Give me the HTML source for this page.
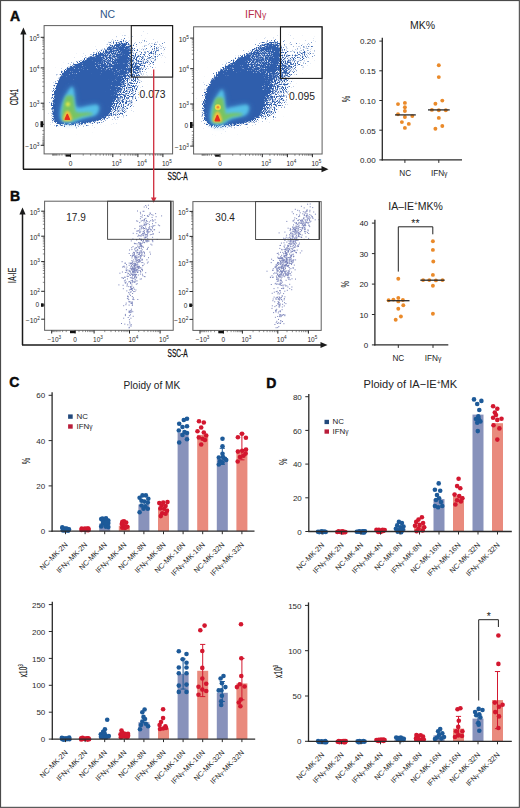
<!DOCTYPE html>
<html><head><meta charset="utf-8"><title>Figure</title>
<style>html,body{margin:0;padding:0;background:#fff;}body{width:520px;height:808px;overflow:hidden;font-family:"Liberation Sans",sans-serif;}svg{display:block;}</style>
</head><body><svg width="520" height="808" viewBox="0 0 520 808" font-family="Liberation Sans, sans-serif"><defs>
<filter id="b05" x="-50%" y="-50%" width="200%" height="200%"><feGaussianBlur stdDeviation="0.5"/></filter>
<filter id="b06" x="-50%" y="-50%" width="200%" height="200%"><feGaussianBlur stdDeviation="0.6"/></filter>
<filter id="b08" x="-50%" y="-50%" width="200%" height="200%"><feGaussianBlur stdDeviation="0.8"/></filter>
<filter id="b10" x="-30%" y="-30%" width="160%" height="160%"><feGaussianBlur stdDeviation="1.0"/></filter>
<filter id="b12" x="-50%" y="-50%" width="200%" height="200%"><feGaussianBlur stdDeviation="1.2"/></filter>
<filter id="b15" x="-50%" y="-50%" width="200%" height="200%"><feGaussianBlur stdDeviation="1.5"/></filter>
<filter id="b20" x="-50%" y="-50%" width="200%" height="200%"><feGaussianBlur stdDeviation="2.0"/></filter>
<filter id="b25" x="-50%" y="-50%" width="200%" height="200%"><feGaussianBlur stdDeviation="2.5"/></filter>
<filter id="b30" x="-80%" y="-80%" width="260%" height="260%"><feGaussianBlur stdDeviation="3.0"/></filter>
<filter id="b40" x="-80%" y="-80%" width="260%" height="260%"><feGaussianBlur stdDeviation="4.0"/></filter>
<filter id="b60" x="-80%" y="-80%" width="260%" height="260%"><feGaussianBlur stdDeviation="6.0"/></filter>
<filter id="dith1" filterUnits="userSpaceOnUse" x="44" y="25.8" width="129" height="128" color-interpolation-filters="sRGB"><feTurbulence type="fractalNoise" baseFrequency="0.9" numOctaves="2" seed="3" result="n"/><feColorMatrix in="n" type="matrix" values="0 0 0 0 0  0 0 0 0 0  0 0 0 0 0  1.8 0 0 0 -0.4" result="na"/><feComposite in="SourceAlpha" in2="na" operator="arithmetic" k1="0" k2="4" k3="-3" k4="0" result="m"/><feFlood flood-color="#2f5eac"/><feComposite in2="m" operator="in"/><feGaussianBlur stdDeviation="0.4"/></filter><filter id="dith2" filterUnits="userSpaceOnUse" x="193.6" y="26.6" width="129" height="128" color-interpolation-filters="sRGB"><feTurbulence type="fractalNoise" baseFrequency="0.9" numOctaves="2" seed="9" result="n"/><feColorMatrix in="n" type="matrix" values="0 0 0 0 0  0 0 0 0 0  0 0 0 0 0  1.8 0 0 0 -0.4" result="na"/><feComposite in="SourceAlpha" in2="na" operator="arithmetic" k1="0" k2="4" k3="-3" k4="0" result="m"/><feFlood flood-color="#2f5eac"/><feComposite in2="m" operator="in"/><feGaussianBlur stdDeviation="0.4"/></filter><filter id="wdith1" filterUnits="userSpaceOnUse" x="44" y="25.8" width="129" height="128" color-interpolation-filters="sRGB"><feTurbulence type="fractalNoise" baseFrequency="0.95" numOctaves="2" seed="21" result="n"/><feColorMatrix in="n" type="matrix" values="0 0 0 0 0  0 0 0 0 0  0 0 0 0 0  1.8 0 0 0 -0.4" result="na"/><feComposite in="SourceAlpha" in2="na" operator="arithmetic" k1="0" k2="4" k3="-3" k4="0" result="m"/><feFlood flood-color="#dfe6f4"/><feComposite in2="m" operator="in"/><feGaussianBlur stdDeviation="0.35"/></filter><filter id="wdith2" filterUnits="userSpaceOnUse" x="193.6" y="26.6" width="129" height="128" color-interpolation-filters="sRGB"><feTurbulence type="fractalNoise" baseFrequency="0.95" numOctaves="2" seed="27" result="n"/><feColorMatrix in="n" type="matrix" values="0 0 0 0 0  0 0 0 0 0  0 0 0 0 0  1.8 0 0 0 -0.4" result="na"/><feComposite in="SourceAlpha" in2="na" operator="arithmetic" k1="0" k2="4" k3="-3" k4="0" result="m"/><feFlood flood-color="#dfe6f4"/><feComposite in2="m" operator="in"/><feGaussianBlur stdDeviation="0.35"/></filter></defs><rect x="0.55" y="0.55" width="518.8" height="806.8" fill="none" stroke="#4a4a4a" stroke-width="1.1"/><text x="10.10" y="20.80" font-size="14" text-anchor="start" fill="#0a0a0a" font-weight="bold" stroke="#0a0a0a" stroke-width="0.45">A</text><text x="9.90" y="200.80" font-size="14" text-anchor="start" fill="#0a0a0a" font-weight="bold" stroke="#0a0a0a" stroke-width="0.45">B</text><text x="9.30" y="387.00" font-size="14" text-anchor="start" fill="#0a0a0a" font-weight="bold" stroke="#0a0a0a" stroke-width="0.45">C</text><text x="266.20" y="387.60" font-size="14" text-anchor="start" fill="#0a0a0a" font-weight="bold" stroke="#0a0a0a" stroke-width="0.45">D</text><text x="107.50" y="17.50" font-size="10.5" text-anchor="middle" fill="#2f5688" font-weight="normal" >NC</text><text x="255.60" y="17.70" font-size="10.5" text-anchor="middle" fill="#b82e4a" font-weight="normal" >IFN<tspan font-size="8.6">&#947;</tspan></text><clipPath id="clip1"><rect x="44.1" y="25.6" width="128.5" height="128.3"/></clipPath><clipPath id="clip2"><rect x="193.6" y="26.8" width="128.50000000000003" height="127.2"/></clipPath><g clip-path="url(#clip1)"><g filter="url(#dith1)"><path d="M53.5,123.2 C51.0,121.0 51.6,115.6 51.2,112.2 C50.8,108.8 51.1,105.9 51.2,102.9 C51.3,99.8 51.5,96.9 52.0,93.9 C52.6,90.9 53.3,87.9 54.4,84.9 C55.5,81.9 57.3,78.5 58.7,76.0 C60.1,73.4 60.9,71.4 62.7,69.5 C64.6,67.7 67.5,66.1 69.9,64.7 C72.4,63.3 74.5,62.6 77.6,61.1 C80.7,59.6 85.0,57.3 88.7,55.6 C92.4,53.9 96.3,52.4 99.9,51.0 C103.4,49.7 107.0,48.6 109.9,47.5 C112.7,46.4 114.5,45.3 117.0,44.5 C119.4,43.7 122.3,42.2 124.6,42.9 C127.0,43.5 130.0,45.8 131.1,48.6 C132.1,51.3 131.7,55.6 131.2,59.5 C130.6,63.4 128.9,68.1 127.5,72.1 C126.2,76.0 124.3,79.6 123.0,83.1 C121.7,86.6 120.7,89.8 119.5,93.1 C118.3,96.4 117.1,99.6 115.8,103.1 C114.5,106.6 113.6,111.3 111.7,114.1 C109.9,117.0 108.0,118.9 104.8,120.4 C101.6,122.0 96.7,122.7 92.6,123.4 C88.5,124.2 84.7,124.7 80.2,125.0 C75.8,125.3 70.3,125.7 65.9,125.4 C61.4,125.1 55.9,125.4 53.5,123.2Z" fill="#000" opacity="0.45" filter="url(#b20)"/><path d="M55.6,120.8 C53.7,119.1 54.6,115.0 54.4,112.0 C54.2,109.0 54.3,105.9 54.4,103.0 C54.5,100.1 54.7,97.3 55.2,94.5 C55.7,91.7 56.4,88.8 57.4,86.0 C58.4,83.2 60.2,79.9 61.5,77.5 C62.8,75.1 63.3,73.5 65.0,71.8 C66.7,70.1 69.2,68.8 71.5,67.5 C73.8,66.2 75.9,65.5 79.0,64.0 C82.1,62.5 86.3,60.2 90.0,58.5 C93.7,56.8 97.5,55.3 101.0,54.0 C104.5,52.7 108.2,51.6 111.0,50.5 C113.8,49.4 115.8,48.2 118.0,47.5 C120.2,46.8 122.3,45.7 124.0,46.0 C125.7,46.3 127.3,47.3 128.0,49.5 C128.7,51.7 128.6,55.4 128.0,59.0 C127.4,62.6 125.8,67.2 124.5,71.0 C123.2,74.8 121.3,78.5 120.0,82.0 C118.7,85.5 117.7,88.7 116.5,92.0 C115.3,95.3 114.0,98.6 112.8,102.0 C111.5,105.4 110.5,109.9 109.0,112.5 C107.5,115.1 106.3,116.2 103.5,117.5 C100.7,118.8 95.9,119.6 92.0,120.3 C88.1,121.0 84.3,121.5 80.0,121.8 C75.7,122.1 70.1,122.4 66.0,122.2 C61.9,122.0 57.5,122.5 55.6,120.8Z" fill="#000" filter="url(#b10)"/><path d="M57.0,121.0 C54.9,118.3 55.3,111.0 55.5,106.0 C55.7,101.0 56.4,95.7 58.0,91.0 C59.6,86.3 61.7,81.8 65.0,78.0 C68.3,74.2 73.3,70.8 78.0,68.0 C82.7,65.2 88.3,62.8 93.0,61.0 C97.7,59.2 102.5,56.8 106.0,57.0 C109.5,57.2 112.7,57.8 114.0,62.0 C115.3,66.2 114.7,75.5 114.0,82.0 C113.3,88.5 112.0,95.7 110.0,101.0 C108.0,106.3 105.7,110.8 102.0,114.0 C98.3,117.2 93.7,118.7 88.0,120.0 C82.3,121.3 73.2,121.8 68.0,122.0 C62.8,122.2 59.1,123.7 57.0,121.0Z" fill="#000" filter="url(#b30)"/><ellipse cx="118" cy="47" rx="14" ry="7" transform="rotate(-20 118 47)" fill="#000" opacity="0.55" filter="url(#b30)"/><ellipse cx="149" cy="58" rx="22" ry="9" transform="rotate(-45 149 58)" fill="#000" opacity="0.42" filter="url(#b40)"/><ellipse cx="141" cy="42" rx="10" ry="8" fill="#000" opacity="0.2" filter="url(#b40)"/><ellipse cx="135" cy="60" rx="6" ry="14" fill="#000" opacity="0.35" filter="url(#b30)"/><path d="M118.0,70.0 C121.3,64.0 130.2,62.7 134.0,64.0 C137.8,65.3 140.2,72.8 141.0,78.0 C141.8,83.2 140.7,89.8 139.0,95.0 C137.3,100.2 134.2,105.0 131.0,109.0 C127.8,113.0 123.5,117.8 120.0,119.0 C116.5,120.2 111.0,119.2 110.0,116.0 C109.0,112.8 112.7,107.7 114.0,100.0 C115.3,92.3 114.7,76.0 118.0,70.0Z" fill="#000" opacity="0.45" filter="url(#b30)"/><path d="M53.5,123.2 C51.0,121.0 51.6,115.6 51.2,112.2 C50.8,108.8 51.1,105.9 51.2,102.9 C51.3,99.8 51.5,96.9 52.0,93.9 C52.6,90.9 53.3,87.9 54.4,84.9 C55.5,81.9 57.3,78.5 58.7,76.0 C60.1,73.4 60.9,71.4 62.7,69.5 C64.6,67.7 67.5,66.1 69.9,64.7 C72.4,63.3 74.5,62.6 77.6,61.1 C80.7,59.6 85.0,57.3 88.7,55.6 C92.4,53.9 96.3,52.4 99.9,51.0 C103.4,49.7 107.0,48.6 109.9,47.5 C112.7,46.4 114.5,45.3 117.0,44.5 C119.4,43.7 122.3,42.2 124.6,42.9 C127.0,43.5 130.0,45.8 131.1,48.6 C132.1,51.3 131.7,55.6 131.2,59.5 C130.6,63.4 128.9,68.1 127.5,72.1 C126.2,76.0 124.3,79.6 123.0,83.1 C121.7,86.6 120.7,89.8 119.5,93.1 C118.3,96.4 117.1,99.6 115.8,103.1 C114.5,106.6 113.6,111.3 111.7,114.1 C109.9,117.0 108.0,118.9 104.8,120.4 C101.6,122.0 96.7,122.7 92.6,123.4 C88.5,124.2 84.7,124.7 80.2,125.0 C75.8,125.3 70.3,125.7 65.9,125.4 C61.4,125.1 55.9,125.4 53.5,123.2Z" fill="#000" opacity="0.16" filter="url(#b60)"/></g><g filter="url(#wdith1)"><ellipse cx="110" cy="58" rx="17" ry="10" transform="rotate(-30 110 58)" fill="#000" opacity="0.42" filter="url(#b40)"/><ellipse cx="118" cy="80" rx="6" ry="14" fill="#000" opacity="0.3" filter="url(#b40)"/><ellipse cx="78" cy="70" rx="14" ry="5" transform="rotate(-30 78 70)" fill="#000" opacity="0.22" filter="url(#b30)"/></g><path d="M71.3,86.9 C72.3,86.1 72.6,87.1 73.1,88.1 C73.6,89.1 73.9,90.6 74.2,92.7 C74.5,94.8 74.5,98.5 74.8,100.8 C75.1,103.1 75.1,105.3 76.0,106.5 C76.9,107.7 78.0,107.8 80.0,107.7 C82.0,107.6 85.4,106.5 88.1,106.0 C90.8,105.5 94.4,104.5 96.2,104.8 C98.0,105.1 99.0,106.1 99.0,107.7 C99.0,109.3 98.0,113.1 96.2,114.6 C94.4,116.1 90.8,116.1 88.1,116.9 C85.4,117.7 82.5,118.3 80.0,119.2 C77.5,120.1 75.2,121.5 73.1,122.1 C71.0,122.7 69.0,122.8 67.3,122.7 C65.6,122.6 63.8,122.1 62.7,121.5 C61.7,120.9 61.4,120.5 61.0,119.2 C60.6,117.9 60.3,115.6 60.4,113.5 C60.5,111.4 60.9,108.8 61.5,106.5 C62.1,104.2 62.8,101.9 63.8,99.6 C64.8,97.3 66.0,94.8 67.3,92.7 C68.5,90.6 70.3,87.7 71.3,86.9Z" fill="#4398d6" opacity="0.85" filter="url(#b30)"/><path d="M71.3,86.9 C72.3,86.1 72.6,87.1 73.1,88.1 C73.6,89.1 73.9,90.6 74.2,92.7 C74.5,94.8 74.5,98.5 74.8,100.8 C75.1,103.1 75.1,105.3 76.0,106.5 C76.9,107.7 78.0,107.8 80.0,107.7 C82.0,107.6 85.4,106.5 88.1,106.0 C90.8,105.5 94.4,104.5 96.2,104.8 C98.0,105.1 99.0,106.1 99.0,107.7 C99.0,109.3 98.0,113.1 96.2,114.6 C94.4,116.1 90.8,116.1 88.1,116.9 C85.4,117.7 82.5,118.3 80.0,119.2 C77.5,120.1 75.2,121.5 73.1,122.1 C71.0,122.7 69.0,122.8 67.3,122.7 C65.6,122.6 63.8,122.1 62.7,121.5 C61.7,120.9 61.4,120.5 61.0,119.2 C60.6,117.9 60.3,115.6 60.4,113.5 C60.5,111.4 60.9,108.8 61.5,106.5 C62.1,104.2 62.8,101.9 63.8,99.6 C64.8,97.3 66.0,94.8 67.3,92.7 C68.5,90.6 70.3,87.7 71.3,86.9Z" fill="#55bfe7" filter="url(#b15)"/><path d="M66.4,95.8 C67.9,94.6 71.4,95.3 72.6,95.8 C73.8,96.2 73.3,96.9 73.6,98.5 C73.9,100.1 74.2,103.2 74.6,105.4 C75.0,107.6 74.9,110.4 75.8,111.6 C76.7,112.8 78.0,112.6 80.0,112.8 C82.0,113.0 85.8,112.4 88.0,112.6 C90.2,112.8 93.0,113.5 93.0,114.0 C93.0,114.5 90.2,115.1 88.0,115.6 C85.8,116.1 82.5,116.4 80.0,117.2 C77.5,118.0 75.2,119.6 73.1,120.2 C71.0,120.8 69.0,121.0 67.3,121.0 C65.6,121.0 63.8,120.7 62.9,120.0 C62.0,119.3 62.0,118.6 61.9,116.9 C61.8,115.2 62.0,112.3 62.3,110.0 C62.6,107.7 62.8,105.5 63.5,103.1 C64.2,100.7 64.9,97.0 66.4,95.8Z" fill="#7cc556" opacity="0.92" filter="url(#b15)"/><ellipse cx="67.9" cy="104.2" rx="2.1" ry="2.3" fill="#dfe64a" filter="url(#b08)"/><path d="M67.5,110.6 C68.3,110.6 69.1,111.5 69.8,112.6 C70.5,113.7 71.3,115.7 71.6,117.0 C71.9,118.3 72.5,119.5 71.8,120.2 C71.1,120.9 68.9,121.0 67.5,121.0 C66.1,121.0 63.9,120.9 63.2,120.2 C62.5,119.5 63.1,118.3 63.4,117.0 C63.7,115.7 64.5,113.7 65.2,112.6 C65.9,111.5 66.7,110.6 67.5,110.6Z" fill="#f3c23e" filter="url(#b08)"/><path d="M67.3,114.5 L69.3,119.2 L65.3,119.2Z" fill="#e5301f" stroke="#e5301f" stroke-width="1.6" stroke-linejoin="round" filter="url(#b06)"/></g><g clip-path="url(#clip2)"><g filter="url(#dith2)"><path d="M206.0,124.9 C203.8,123.0 203.2,118.6 202.5,115.6 C201.8,112.7 201.7,109.8 201.7,107.0 C201.7,104.1 202.1,101.2 202.7,98.4 C203.2,95.5 204.1,92.6 205.1,89.9 C206.1,87.1 207.4,84.4 208.8,81.9 C210.2,79.4 211.9,77.1 213.6,75.0 C215.4,72.8 217.4,70.9 219.5,69.0 C221.7,67.2 223.7,66.0 226.8,63.9 C229.8,61.7 234.2,58.5 238.0,56.2 C241.7,54.0 245.8,52.1 249.3,50.6 C252.9,49.0 256.6,48.1 259.5,47.0 C262.3,45.9 264.1,44.7 266.6,44.0 C269.0,43.2 271.9,41.6 274.3,42.4 C276.8,43.1 280.0,45.6 281.1,48.5 C282.3,51.3 281.8,55.4 281.3,59.5 C280.7,63.6 278.9,68.9 277.7,73.0 C276.4,77.1 274.9,80.6 273.6,84.1 C272.4,87.6 271.3,90.7 270.1,94.1 C268.9,97.4 267.7,100.6 266.4,104.1 C265.1,107.6 264.2,112.1 262.4,115.1 C260.6,118.1 258.7,120.2 255.5,121.9 C252.3,123.5 247.5,124.3 243.2,125.1 C238.9,126.0 234.5,126.4 229.8,126.8 C225.2,127.1 219.4,127.5 215.4,127.2 C211.5,126.9 208.1,126.8 206.0,124.9Z" fill="#000" opacity="0.45" filter="url(#b20)"/><path d="M208.1,122.5 C206.4,121.0 206.1,117.6 205.6,115.0 C205.1,112.4 204.9,109.7 204.9,107.0 C204.9,104.3 205.3,101.7 205.8,99.0 C206.3,96.3 207.1,93.6 208.1,91.0 C209.1,88.4 210.3,85.8 211.6,83.5 C212.9,81.2 214.4,79.0 216.1,77.0 C217.8,75.0 219.5,73.2 221.6,71.5 C223.7,69.8 225.6,68.6 228.6,66.5 C231.6,64.4 235.9,61.2 239.6,59.0 C243.3,56.8 247.1,55.0 250.6,53.5 C254.1,52.0 257.8,51.1 260.6,50.0 C263.4,48.9 265.4,47.8 267.6,47.0 C269.8,46.2 271.9,45.1 273.6,45.5 C275.4,45.9 277.4,47.2 278.1,49.5 C278.9,51.8 278.7,55.2 278.1,59.0 C277.5,62.8 275.9,68.0 274.6,72.0 C273.4,76.0 271.9,79.5 270.6,83.0 C269.4,86.5 268.3,89.7 267.1,93.0 C265.9,96.3 264.6,99.6 263.4,103.0 C262.1,106.4 261.2,110.8 259.6,113.5 C258.1,116.2 256.9,117.6 254.1,119.0 C251.3,120.4 246.7,121.2 242.6,122.0 C238.5,122.8 234.1,123.3 229.6,123.6 C225.1,123.9 219.2,124.2 215.6,124.0 C212.0,123.8 209.8,124.0 208.1,122.5Z" fill="#000" filter="url(#b10)"/><path d="M209.6,122.0 C207.8,119.3 207.1,111.8 207.1,107.0 C207.1,102.2 208.2,97.3 209.6,93.0 C211.0,88.7 212.6,84.7 215.6,81.0 C218.6,77.3 223.3,73.8 227.6,71.0 C231.9,68.2 237.3,65.8 241.6,64.0 C245.9,62.2 250.3,60.0 253.6,60.0 C256.9,60.0 260.3,60.2 261.6,64.0 C262.9,67.8 262.3,76.7 261.6,83.0 C260.9,89.3 259.6,96.7 257.6,102.0 C255.6,107.3 252.9,111.8 249.6,115.0 C246.3,118.2 242.9,119.7 237.6,121.0 C232.3,122.3 222.3,122.8 217.6,123.0 C212.9,123.2 211.3,124.7 209.6,122.0Z" fill="#000" filter="url(#b30)"/><ellipse cx="267.6" cy="48.0" rx="14" ry="7" transform="rotate(-20 267.6 48.0)" fill="#000" opacity="0.55" filter="url(#b30)"/><ellipse cx="298.6" cy="59.0" rx="22" ry="9" transform="rotate(-45 298.6 59.0)" fill="#000" opacity="0.42" filter="url(#b40)"/><ellipse cx="290.6" cy="43.0" rx="10" ry="8" fill="#000" opacity="0.2" filter="url(#b40)"/><ellipse cx="284.6" cy="61.0" rx="6" ry="14" fill="#000" opacity="0.35" filter="url(#b30)"/><path d="M267.6,71.0 C270.9,65.0 279.8,63.7 283.6,65.0 C287.4,66.3 289.8,73.8 290.6,79.0 C291.4,84.2 290.3,90.8 288.6,96.0 C286.9,101.2 283.8,106.0 280.6,110.0 C277.4,114.0 273.1,118.8 269.6,120.0 C266.1,121.2 260.6,120.2 259.6,117.0 C258.6,113.8 262.3,108.7 263.6,101.0 C264.9,93.3 264.3,77.0 267.6,71.0Z" fill="#000" opacity="0.45" filter="url(#b30)"/><path d="M206.0,124.9 C203.8,123.0 203.2,118.6 202.5,115.6 C201.8,112.7 201.7,109.8 201.7,107.0 C201.7,104.1 202.1,101.2 202.7,98.4 C203.2,95.5 204.1,92.6 205.1,89.9 C206.1,87.1 207.4,84.4 208.8,81.9 C210.2,79.4 211.9,77.1 213.6,75.0 C215.4,72.8 217.4,70.9 219.5,69.0 C221.7,67.2 223.7,66.0 226.8,63.9 C229.8,61.7 234.2,58.5 238.0,56.2 C241.7,54.0 245.8,52.1 249.3,50.6 C252.9,49.0 256.6,48.1 259.5,47.0 C262.3,45.9 264.1,44.7 266.6,44.0 C269.0,43.2 271.9,41.6 274.3,42.4 C276.8,43.1 280.0,45.6 281.1,48.5 C282.3,51.3 281.8,55.4 281.3,59.5 C280.7,63.6 278.9,68.9 277.7,73.0 C276.4,77.1 274.9,80.6 273.6,84.1 C272.4,87.6 271.3,90.7 270.1,94.1 C268.9,97.4 267.7,100.6 266.4,104.1 C265.1,107.6 264.2,112.1 262.4,115.1 C260.6,118.1 258.7,120.2 255.5,121.9 C252.3,123.5 247.5,124.3 243.2,125.1 C238.9,126.0 234.5,126.4 229.8,126.8 C225.2,127.1 219.4,127.5 215.4,127.2 C211.5,126.9 208.1,126.8 206.0,124.9Z" fill="#000" opacity="0.16" filter="url(#b60)"/></g><g filter="url(#wdith2)"><ellipse cx="259.6" cy="59.0" rx="17" ry="10" transform="rotate(-30 259.6 59.0)" fill="#000" opacity="0.42" filter="url(#b40)"/><ellipse cx="267.6" cy="81.0" rx="6" ry="14" fill="#000" opacity="0.3" filter="url(#b40)"/><ellipse cx="227.6" cy="71.0" rx="14" ry="5" transform="rotate(-30 227.6 71.0)" fill="#000" opacity="0.22" filter="url(#b30)"/></g><path d="M221.3,89.8 C222.3,89.0 222.6,90.0 223.1,91.0 C223.6,92.0 223.9,93.6 224.2,95.6 C224.5,97.6 224.5,100.7 224.8,102.8 C225.1,104.9 225.1,107.7 226.0,108.5 C226.9,109.3 228.0,108.1 230.0,107.7 C232.0,107.3 235.4,106.5 238.1,106.0 C240.8,105.5 244.4,104.5 246.2,104.8 C248.0,105.1 249.0,106.1 249.0,107.7 C249.0,109.3 248.0,113.1 246.2,114.6 C244.4,116.1 240.8,116.1 238.1,116.9 C235.4,117.7 232.5,118.0 230.0,119.2 C227.5,120.4 225.2,123.2 223.1,124.1 C221.0,125.0 219.0,124.8 217.3,124.7 C215.6,124.6 213.8,124.1 212.7,123.5 C211.6,122.9 211.4,122.5 211.0,121.2 C210.6,119.9 210.3,117.6 210.4,115.5 C210.5,113.4 210.9,110.7 211.5,108.5 C212.1,106.3 212.8,104.7 213.8,102.5 C214.8,100.3 216.1,97.7 217.3,95.6 C218.6,93.5 220.3,90.6 221.3,89.8Z" fill="#4398d6" opacity="0.85" filter="url(#b30)"/><path d="M221.3,89.8 C222.3,89.0 222.6,90.0 223.1,91.0 C223.6,92.0 223.9,93.6 224.2,95.6 C224.5,97.6 224.5,100.7 224.8,102.8 C225.1,104.9 225.1,107.7 226.0,108.5 C226.9,109.3 228.0,108.1 230.0,107.7 C232.0,107.3 235.4,106.5 238.1,106.0 C240.8,105.5 244.4,104.5 246.2,104.8 C248.0,105.1 249.0,106.1 249.0,107.7 C249.0,109.3 248.0,113.1 246.2,114.6 C244.4,116.1 240.8,116.1 238.1,116.9 C235.4,117.7 232.5,118.0 230.0,119.2 C227.5,120.4 225.2,123.2 223.1,124.1 C221.0,125.0 219.0,124.8 217.3,124.7 C215.6,124.6 213.8,124.1 212.7,123.5 C211.6,122.9 211.4,122.5 211.0,121.2 C210.6,119.9 210.3,117.6 210.4,115.5 C210.5,113.4 210.9,110.7 211.5,108.5 C212.1,106.3 212.8,104.7 213.8,102.5 C214.8,100.3 216.1,97.7 217.3,95.6 C218.6,93.5 220.3,90.6 221.3,89.8Z" fill="#55bfe7" filter="url(#b15)"/><path d="M216.4,97.8 C217.9,96.6 221.4,97.3 222.6,97.8 C223.8,98.2 223.3,98.9 223.6,100.5 C223.9,102.1 224.2,105.2 224.6,107.4 C225.0,109.6 224.9,112.6 225.8,113.6 C226.7,114.6 228.0,113.4 230.0,113.3 C232.0,113.2 235.8,112.9 238.0,113.1 C240.2,113.3 243.0,114.0 243.0,114.5 C243.0,115.0 240.2,115.6 238.0,116.1 C235.8,116.6 232.5,116.7 230.0,117.7 C227.5,118.7 225.2,121.3 223.1,122.2 C221.0,123.1 219.0,123.0 217.3,123.0 C215.6,123.0 213.8,122.7 212.9,122.0 C212.0,121.3 212.0,120.6 211.9,118.9 C211.8,117.2 212.0,114.3 212.3,112.0 C212.6,109.7 212.8,107.5 213.5,105.1 C214.2,102.7 214.9,99.0 216.4,97.8Z" fill="#7cc556" opacity="0.92" filter="url(#b15)"/><circle cx="217.9" cy="107.2" r="3.0" fill="#ecd84a" filter="url(#b06)"/><circle cx="217.9" cy="107.2" r="1.3" fill="#ef8d32" filter="url(#b05)"/><path d="M217.5,111.3 C218.3,111.3 219.1,112.3 219.8,113.4 C220.5,114.5 221.3,116.7 221.6,118.0 C221.9,119.3 222.5,120.7 221.8,121.4 C221.1,122.1 218.9,122.2 217.5,122.2 C216.1,122.2 213.9,122.1 213.2,121.4 C212.5,120.7 213.1,119.3 213.4,118.0 C213.7,116.7 214.5,114.5 215.2,113.4 C215.9,112.3 216.7,111.3 217.5,111.3Z" fill="#f3c23e" filter="url(#b08)"/><path d="M217.4,115.5 L219.5,120.6 L215.3,120.6Z" fill="#e5301f" stroke="#e5301f" stroke-width="1.6" stroke-linejoin="round" filter="url(#b06)"/></g><rect x="44.1" y="25.6" width="128.5" height="128.3" fill="none" stroke="#5e5e5e" stroke-width="1.0"/><rect x="193.6" y="26.8" width="128.5" height="127.2" fill="none" stroke="#5e5e5e" stroke-width="1.0"/><rect x="131.3" y="25.6" width="41.3" height="51.5" fill="none" stroke="#1a1a1a" stroke-width="1.1"/><rect x="280.5" y="26.8" width="41.6" height="51.6" fill="none" stroke="#1a1a1a" stroke-width="1.1"/><text x="152.50" y="98.00" font-size="10.3" text-anchor="middle" fill="#222" font-weight="normal" >0.073</text><text x="302.00" y="99.50" font-size="10.3" text-anchor="middle" fill="#222" font-weight="normal" >0.095</text><line x1="40.70" y1="37.30" x2="44.10" y2="37.30" stroke="#222" stroke-width="1.0"/><text x="39.50" y="41.00" font-size="6.8" text-anchor="end" fill="#262626">10<tspan font-size="4.8" dy="-3.0">5</tspan></text><line x1="40.70" y1="67.90" x2="44.10" y2="67.90" stroke="#222" stroke-width="1.0"/><text x="39.50" y="71.60" font-size="6.8" text-anchor="end" fill="#262626">10<tspan font-size="4.8" dy="-3.0">4</tspan></text><line x1="40.70" y1="103.20" x2="44.10" y2="103.20" stroke="#222" stroke-width="1.0"/><text x="39.50" y="106.90" font-size="6.8" text-anchor="end" fill="#262626">10<tspan font-size="4.8" dy="-3.0">3</tspan></text><line x1="40.70" y1="124.30" x2="44.10" y2="124.30" stroke="#222" stroke-width="1.0"/><text x="38.50" y="126.70" font-size="6.5" text-anchor="end" fill="#2a2a2a">0</text><line x1="40.70" y1="145.30" x2="44.10" y2="145.30" stroke="#222" stroke-width="1.0"/><text x="39.50" y="149.00" font-size="6.8" text-anchor="end" fill="#262626">&#8722;10<tspan font-size="4.8" dy="-3.0">3</tspan></text><line x1="42.30" y1="58.69" x2="44.10" y2="58.69" stroke="#444" stroke-width="0.6"/><line x1="42.30" y1="53.30" x2="44.10" y2="53.30" stroke="#444" stroke-width="0.6"/><line x1="42.30" y1="49.48" x2="44.10" y2="49.48" stroke="#444" stroke-width="0.6"/><line x1="42.30" y1="46.51" x2="44.10" y2="46.51" stroke="#444" stroke-width="0.6"/><line x1="42.30" y1="44.09" x2="44.10" y2="44.09" stroke="#444" stroke-width="0.6"/><line x1="42.30" y1="42.04" x2="44.10" y2="42.04" stroke="#444" stroke-width="0.6"/><line x1="42.30" y1="40.27" x2="44.10" y2="40.27" stroke="#444" stroke-width="0.6"/><line x1="42.30" y1="38.70" x2="44.10" y2="38.70" stroke="#444" stroke-width="0.6"/><line x1="42.30" y1="92.57" x2="44.10" y2="92.57" stroke="#444" stroke-width="0.6"/><line x1="42.30" y1="86.36" x2="44.10" y2="86.36" stroke="#444" stroke-width="0.6"/><line x1="42.30" y1="81.95" x2="44.10" y2="81.95" stroke="#444" stroke-width="0.6"/><line x1="42.30" y1="78.53" x2="44.10" y2="78.53" stroke="#444" stroke-width="0.6"/><line x1="42.30" y1="75.73" x2="44.10" y2="75.73" stroke="#444" stroke-width="0.6"/><line x1="42.30" y1="73.37" x2="44.10" y2="73.37" stroke="#444" stroke-width="0.6"/><line x1="42.30" y1="71.32" x2="44.10" y2="71.32" stroke="#444" stroke-width="0.6"/><line x1="42.30" y1="69.52" x2="44.10" y2="69.52" stroke="#444" stroke-width="0.6"/><line x1="42.30" y1="109.55" x2="44.10" y2="109.55" stroke="#444" stroke-width="0.6"/><line x1="42.30" y1="107.88" x2="44.10" y2="107.88" stroke="#444" stroke-width="0.6"/><line x1="42.30" y1="106.47" x2="44.10" y2="106.47" stroke="#444" stroke-width="0.6"/><line x1="42.30" y1="105.24" x2="44.10" y2="105.24" stroke="#444" stroke-width="0.6"/><line x1="42.30" y1="104.17" x2="44.10" y2="104.17" stroke="#444" stroke-width="0.6"/><line x1="42.30" y1="130.62" x2="44.10" y2="130.62" stroke="#444" stroke-width="0.6"/><line x1="42.30" y1="134.32" x2="44.10" y2="134.32" stroke="#444" stroke-width="0.6"/><line x1="42.30" y1="136.94" x2="44.10" y2="136.94" stroke="#444" stroke-width="0.6"/><line x1="42.30" y1="138.98" x2="44.10" y2="138.98" stroke="#444" stroke-width="0.6"/><line x1="42.30" y1="140.64" x2="44.10" y2="140.64" stroke="#444" stroke-width="0.6"/><line x1="42.30" y1="142.05" x2="44.10" y2="142.05" stroke="#444" stroke-width="0.6"/><line x1="42.30" y1="143.26" x2="44.10" y2="143.26" stroke="#444" stroke-width="0.6"/><line x1="42.30" y1="144.34" x2="44.10" y2="144.34" stroke="#444" stroke-width="0.6"/><line x1="70.50" y1="153.90" x2="70.50" y2="157.10" stroke="#222" stroke-width="1.0"/><text x="70.50" y="165.70" font-size="6.5" text-anchor="middle" fill="#2a2a2a">0</text><line x1="112.80" y1="153.90" x2="112.80" y2="157.10" stroke="#222" stroke-width="1.0"/><text x="111.80" y="165.70" font-size="6.5" text-anchor="start" fill="#2a2a2a">10<tspan font-size="4.6" dy="-2.9">3</tspan></text><line x1="137.90" y1="153.90" x2="137.90" y2="157.10" stroke="#222" stroke-width="1.0"/><text x="136.90" y="165.70" font-size="6.5" text-anchor="start" fill="#2a2a2a">10<tspan font-size="4.6" dy="-2.9">4</tspan></text><line x1="162.90" y1="153.90" x2="162.90" y2="157.10" stroke="#222" stroke-width="1.0"/><text x="161.90" y="165.70" font-size="6.5" text-anchor="start" fill="#2a2a2a">10<tspan font-size="4.6" dy="-2.9">5</tspan></text><line x1="120.36" y1="153.90" x2="120.36" y2="155.70" stroke="#444" stroke-width="0.6"/><line x1="124.78" y1="153.90" x2="124.78" y2="155.70" stroke="#444" stroke-width="0.6"/><line x1="127.91" y1="153.90" x2="127.91" y2="155.70" stroke="#444" stroke-width="0.6"/><line x1="130.34" y1="153.90" x2="130.34" y2="155.70" stroke="#444" stroke-width="0.6"/><line x1="132.33" y1="153.90" x2="132.33" y2="155.70" stroke="#444" stroke-width="0.6"/><line x1="134.01" y1="153.90" x2="134.01" y2="155.70" stroke="#444" stroke-width="0.6"/><line x1="135.47" y1="153.90" x2="135.47" y2="155.70" stroke="#444" stroke-width="0.6"/><line x1="136.75" y1="153.90" x2="136.75" y2="155.70" stroke="#444" stroke-width="0.6"/><line x1="145.43" y1="153.90" x2="145.43" y2="155.70" stroke="#444" stroke-width="0.6"/><line x1="149.83" y1="153.90" x2="149.83" y2="155.70" stroke="#444" stroke-width="0.6"/><line x1="152.95" y1="153.90" x2="152.95" y2="155.70" stroke="#444" stroke-width="0.6"/><line x1="155.37" y1="153.90" x2="155.37" y2="155.70" stroke="#444" stroke-width="0.6"/><line x1="157.35" y1="153.90" x2="157.35" y2="155.70" stroke="#444" stroke-width="0.6"/><line x1="159.03" y1="153.90" x2="159.03" y2="155.70" stroke="#444" stroke-width="0.6"/><line x1="160.48" y1="153.90" x2="160.48" y2="155.70" stroke="#444" stroke-width="0.6"/><line x1="161.76" y1="153.90" x2="161.76" y2="155.70" stroke="#444" stroke-width="0.6"/><line x1="83.23" y1="153.90" x2="83.23" y2="155.70" stroke="#444" stroke-width="0.6"/><line x1="90.68" y1="153.90" x2="90.68" y2="155.70" stroke="#444" stroke-width="0.6"/><line x1="95.97" y1="153.90" x2="95.97" y2="155.70" stroke="#444" stroke-width="0.6"/><line x1="100.07" y1="153.90" x2="100.07" y2="155.70" stroke="#444" stroke-width="0.6"/><line x1="103.42" y1="153.90" x2="103.42" y2="155.70" stroke="#444" stroke-width="0.6"/><line x1="106.25" y1="153.90" x2="106.25" y2="155.70" stroke="#444" stroke-width="0.6"/><line x1="108.70" y1="153.90" x2="108.70" y2="155.70" stroke="#444" stroke-width="0.6"/><line x1="110.86" y1="153.90" x2="110.86" y2="155.70" stroke="#444" stroke-width="0.6"/><line x1="65.11" y1="153.90" x2="65.11" y2="155.70" stroke="#444" stroke-width="0.6"/><line x1="61.96" y1="153.90" x2="61.96" y2="155.70" stroke="#444" stroke-width="0.6"/><line x1="59.72" y1="153.90" x2="59.72" y2="155.70" stroke="#444" stroke-width="0.6"/><line x1="57.99" y1="153.90" x2="57.99" y2="155.70" stroke="#444" stroke-width="0.6"/><line x1="56.57" y1="153.90" x2="56.57" y2="155.70" stroke="#444" stroke-width="0.6"/><line x1="55.37" y1="153.90" x2="55.37" y2="155.70" stroke="#444" stroke-width="0.6"/><line x1="54.33" y1="153.90" x2="54.33" y2="155.70" stroke="#444" stroke-width="0.6"/><line x1="53.42" y1="153.90" x2="53.42" y2="155.70" stroke="#444" stroke-width="0.6"/><line x1="52.60" y1="153.90" x2="52.60" y2="155.70" stroke="#444" stroke-width="0.6"/><rect x="40.5" y="121.2" width="2.6" height="6" fill="#111"/><rect x="65.6" y="154.4" width="4.5" height="2.2" fill="#111"/><line x1="190.20" y1="38.10" x2="193.60" y2="38.10" stroke="#222" stroke-width="1.0"/><text x="189.00" y="41.80" font-size="6.8" text-anchor="end" fill="#262626">10<tspan font-size="4.8" dy="-3.0">5</tspan></text><line x1="190.20" y1="68.70" x2="193.60" y2="68.70" stroke="#222" stroke-width="1.0"/><text x="189.00" y="72.40" font-size="6.8" text-anchor="end" fill="#262626">10<tspan font-size="4.8" dy="-3.0">4</tspan></text><line x1="190.20" y1="104.00" x2="193.60" y2="104.00" stroke="#222" stroke-width="1.0"/><text x="189.00" y="107.70" font-size="6.8" text-anchor="end" fill="#262626">10<tspan font-size="4.8" dy="-3.0">3</tspan></text><line x1="190.20" y1="125.10" x2="193.60" y2="125.10" stroke="#222" stroke-width="1.0"/><text x="188.00" y="127.50" font-size="6.5" text-anchor="end" fill="#2a2a2a">0</text><line x1="190.20" y1="146.10" x2="193.60" y2="146.10" stroke="#222" stroke-width="1.0"/><text x="189.00" y="149.80" font-size="6.8" text-anchor="end" fill="#262626">&#8722;10<tspan font-size="4.8" dy="-3.0">3</tspan></text><line x1="191.80" y1="59.49" x2="193.60" y2="59.49" stroke="#444" stroke-width="0.6"/><line x1="191.80" y1="54.10" x2="193.60" y2="54.10" stroke="#444" stroke-width="0.6"/><line x1="191.80" y1="50.28" x2="193.60" y2="50.28" stroke="#444" stroke-width="0.6"/><line x1="191.80" y1="47.31" x2="193.60" y2="47.31" stroke="#444" stroke-width="0.6"/><line x1="191.80" y1="44.89" x2="193.60" y2="44.89" stroke="#444" stroke-width="0.6"/><line x1="191.80" y1="42.84" x2="193.60" y2="42.84" stroke="#444" stroke-width="0.6"/><line x1="191.80" y1="41.07" x2="193.60" y2="41.07" stroke="#444" stroke-width="0.6"/><line x1="191.80" y1="39.50" x2="193.60" y2="39.50" stroke="#444" stroke-width="0.6"/><line x1="191.80" y1="93.37" x2="193.60" y2="93.37" stroke="#444" stroke-width="0.6"/><line x1="191.80" y1="87.16" x2="193.60" y2="87.16" stroke="#444" stroke-width="0.6"/><line x1="191.80" y1="82.75" x2="193.60" y2="82.75" stroke="#444" stroke-width="0.6"/><line x1="191.80" y1="79.33" x2="193.60" y2="79.33" stroke="#444" stroke-width="0.6"/><line x1="191.80" y1="76.53" x2="193.60" y2="76.53" stroke="#444" stroke-width="0.6"/><line x1="191.80" y1="74.17" x2="193.60" y2="74.17" stroke="#444" stroke-width="0.6"/><line x1="191.80" y1="72.12" x2="193.60" y2="72.12" stroke="#444" stroke-width="0.6"/><line x1="191.80" y1="70.32" x2="193.60" y2="70.32" stroke="#444" stroke-width="0.6"/><line x1="191.80" y1="110.35" x2="193.60" y2="110.35" stroke="#444" stroke-width="0.6"/><line x1="191.80" y1="108.68" x2="193.60" y2="108.68" stroke="#444" stroke-width="0.6"/><line x1="191.80" y1="107.27" x2="193.60" y2="107.27" stroke="#444" stroke-width="0.6"/><line x1="191.80" y1="106.04" x2="193.60" y2="106.04" stroke="#444" stroke-width="0.6"/><line x1="191.80" y1="104.97" x2="193.60" y2="104.97" stroke="#444" stroke-width="0.6"/><line x1="191.80" y1="131.42" x2="193.60" y2="131.42" stroke="#444" stroke-width="0.6"/><line x1="191.80" y1="135.12" x2="193.60" y2="135.12" stroke="#444" stroke-width="0.6"/><line x1="191.80" y1="137.74" x2="193.60" y2="137.74" stroke="#444" stroke-width="0.6"/><line x1="191.80" y1="139.78" x2="193.60" y2="139.78" stroke="#444" stroke-width="0.6"/><line x1="191.80" y1="141.44" x2="193.60" y2="141.44" stroke="#444" stroke-width="0.6"/><line x1="191.80" y1="142.85" x2="193.60" y2="142.85" stroke="#444" stroke-width="0.6"/><line x1="191.80" y1="144.06" x2="193.60" y2="144.06" stroke="#444" stroke-width="0.6"/><line x1="191.80" y1="145.14" x2="193.60" y2="145.14" stroke="#444" stroke-width="0.6"/><line x1="220.00" y1="154.00" x2="220.00" y2="157.20" stroke="#222" stroke-width="1.0"/><text x="220.00" y="165.80" font-size="6.5" text-anchor="middle" fill="#2a2a2a">0</text><line x1="262.30" y1="154.00" x2="262.30" y2="157.20" stroke="#222" stroke-width="1.0"/><text x="261.30" y="165.80" font-size="6.5" text-anchor="start" fill="#2a2a2a">10<tspan font-size="4.6" dy="-2.9">3</tspan></text><line x1="287.40" y1="154.00" x2="287.40" y2="157.20" stroke="#222" stroke-width="1.0"/><text x="286.40" y="165.80" font-size="6.5" text-anchor="start" fill="#2a2a2a">10<tspan font-size="4.6" dy="-2.9">4</tspan></text><line x1="312.40" y1="154.00" x2="312.40" y2="157.20" stroke="#222" stroke-width="1.0"/><text x="311.40" y="165.80" font-size="6.5" text-anchor="start" fill="#2a2a2a">10<tspan font-size="4.6" dy="-2.9">5</tspan></text><line x1="269.86" y1="154.00" x2="269.86" y2="155.80" stroke="#444" stroke-width="0.6"/><line x1="274.28" y1="154.00" x2="274.28" y2="155.80" stroke="#444" stroke-width="0.6"/><line x1="277.41" y1="154.00" x2="277.41" y2="155.80" stroke="#444" stroke-width="0.6"/><line x1="279.84" y1="154.00" x2="279.84" y2="155.80" stroke="#444" stroke-width="0.6"/><line x1="281.83" y1="154.00" x2="281.83" y2="155.80" stroke="#444" stroke-width="0.6"/><line x1="283.51" y1="154.00" x2="283.51" y2="155.80" stroke="#444" stroke-width="0.6"/><line x1="284.97" y1="154.00" x2="284.97" y2="155.80" stroke="#444" stroke-width="0.6"/><line x1="286.25" y1="154.00" x2="286.25" y2="155.80" stroke="#444" stroke-width="0.6"/><line x1="294.93" y1="154.00" x2="294.93" y2="155.80" stroke="#444" stroke-width="0.6"/><line x1="299.33" y1="154.00" x2="299.33" y2="155.80" stroke="#444" stroke-width="0.6"/><line x1="302.45" y1="154.00" x2="302.45" y2="155.80" stroke="#444" stroke-width="0.6"/><line x1="304.87" y1="154.00" x2="304.87" y2="155.80" stroke="#444" stroke-width="0.6"/><line x1="306.85" y1="154.00" x2="306.85" y2="155.80" stroke="#444" stroke-width="0.6"/><line x1="308.53" y1="154.00" x2="308.53" y2="155.80" stroke="#444" stroke-width="0.6"/><line x1="309.98" y1="154.00" x2="309.98" y2="155.80" stroke="#444" stroke-width="0.6"/><line x1="311.26" y1="154.00" x2="311.26" y2="155.80" stroke="#444" stroke-width="0.6"/><line x1="232.73" y1="154.00" x2="232.73" y2="155.80" stroke="#444" stroke-width="0.6"/><line x1="240.18" y1="154.00" x2="240.18" y2="155.80" stroke="#444" stroke-width="0.6"/><line x1="245.47" y1="154.00" x2="245.47" y2="155.80" stroke="#444" stroke-width="0.6"/><line x1="249.57" y1="154.00" x2="249.57" y2="155.80" stroke="#444" stroke-width="0.6"/><line x1="252.92" y1="154.00" x2="252.92" y2="155.80" stroke="#444" stroke-width="0.6"/><line x1="255.75" y1="154.00" x2="255.75" y2="155.80" stroke="#444" stroke-width="0.6"/><line x1="258.20" y1="154.00" x2="258.20" y2="155.80" stroke="#444" stroke-width="0.6"/><line x1="260.36" y1="154.00" x2="260.36" y2="155.80" stroke="#444" stroke-width="0.6"/><line x1="214.61" y1="154.00" x2="214.61" y2="155.80" stroke="#444" stroke-width="0.6"/><line x1="211.46" y1="154.00" x2="211.46" y2="155.80" stroke="#444" stroke-width="0.6"/><line x1="209.22" y1="154.00" x2="209.22" y2="155.80" stroke="#444" stroke-width="0.6"/><line x1="207.49" y1="154.00" x2="207.49" y2="155.80" stroke="#444" stroke-width="0.6"/><line x1="206.07" y1="154.00" x2="206.07" y2="155.80" stroke="#444" stroke-width="0.6"/><line x1="204.87" y1="154.00" x2="204.87" y2="155.80" stroke="#444" stroke-width="0.6"/><line x1="203.83" y1="154.00" x2="203.83" y2="155.80" stroke="#444" stroke-width="0.6"/><line x1="202.92" y1="154.00" x2="202.92" y2="155.80" stroke="#444" stroke-width="0.6"/><line x1="202.10" y1="154.00" x2="202.10" y2="155.80" stroke="#444" stroke-width="0.6"/><rect x="190.0" y="122.0" width="2.6" height="6" fill="#111"/><rect x="215.1" y="154.5" width="4.5" height="2.2" fill="#111"/><line x1="23.40" y1="32.00" x2="23.40" y2="169.20" stroke="#1a1a1a" stroke-width="1.5"/><path d="M23.4,27.5 L20.3,34.5 L26.5,34.5Z" fill="#1a1a1a"/><line x1="23.00" y1="169.20" x2="322.00" y2="169.20" stroke="#1a1a1a" stroke-width="1.5"/><path d="M328.5,169.2 L321.5,166.1 L321.5,172.3Z" fill="#1a1a1a"/><text x="0" y="0" font-size="10.8" fill="#151515" stroke="#151515" stroke-width="0.15" text-anchor="middle" transform="translate(18.1,97.1) rotate(-90) scale(0.6,1)">CD41</text><text x="0" y="0" font-size="10" fill="#111" stroke="#111" stroke-width="0.25" text-anchor="middle" transform="translate(177.6,180.2) scale(0.66,1)">SSC-A</text><line x1="153.70" y1="69.50" x2="153.70" y2="198.50" stroke="#cf2c3c" stroke-width="1.3"/><path d="M153.7,202.8 L150.9,197.4 L156.5,197.4Z" fill="#cf2c3c"/><text x="422.50" y="28.50" font-size="10.5" text-anchor="middle" fill="#222" font-weight="normal" >MK%</text><line x1="382.30" y1="37.70" x2="382.30" y2="160.50" stroke="#2a2a2a" stroke-width="1.3"/><line x1="381.70" y1="159.90" x2="462.00" y2="159.90" stroke="#2a2a2a" stroke-width="1.3"/><line x1="379.30" y1="41.10" x2="382.30" y2="41.10" stroke="#2a2a2a" stroke-width="1.0"/><text x="375.70" y="44.40" font-size="8.0" text-anchor="end" fill="#222">0.20</text><line x1="379.30" y1="70.80" x2="382.30" y2="70.80" stroke="#2a2a2a" stroke-width="1.0"/><text x="375.70" y="74.10" font-size="8.0" text-anchor="end" fill="#222">0.15</text><line x1="379.30" y1="100.50" x2="382.30" y2="100.50" stroke="#2a2a2a" stroke-width="1.0"/><text x="375.70" y="103.80" font-size="8.0" text-anchor="end" fill="#222">0.10</text><line x1="379.30" y1="130.20" x2="382.30" y2="130.20" stroke="#2a2a2a" stroke-width="1.0"/><text x="375.70" y="133.50" font-size="8.0" text-anchor="end" fill="#222">0.05</text><line x1="379.30" y1="159.90" x2="382.30" y2="159.90" stroke="#2a2a2a" stroke-width="1.0"/><text x="375.70" y="163.20" font-size="8.0" text-anchor="end" fill="#222">0.00</text><line x1="404.90" y1="159.90" x2="404.90" y2="162.90" stroke="#2a2a2a" stroke-width="1.0"/><line x1="438.80" y1="159.90" x2="438.80" y2="162.90" stroke="#2a2a2a" stroke-width="1.0"/><text x="0" y="0" font-size="10.8" fill="#222" text-anchor="middle" transform="translate(350,99) rotate(-90) scale(0.68,1)">%</text><text x="405.20" y="175.60" font-size="8.2" text-anchor="middle" fill="#222" font-weight="normal" >NC</text><text x="439.20" y="175.60" font-size="8.2" text-anchor="middle" fill="#222" font-weight="normal" >IFN<tspan font-size="0.82em">&#947;</tspan></text><g fill="#ea8a2a"><circle cx="398.0" cy="104.1" r="1.95"/><circle cx="404.9" cy="102.9" r="1.95"/><circle cx="404.9" cy="107.3" r="1.95"/><circle cx="404.9" cy="111.0" r="1.95"/><circle cx="398.0" cy="114.2" r="1.95"/><circle cx="404.9" cy="117.0" r="1.95"/><circle cx="412.3" cy="116.1" r="1.95"/><circle cx="401.9" cy="122.1" r="1.95"/><circle cx="408.8" cy="123.9" r="1.95"/><circle cx="404.9" cy="127.9" r="1.95"/></g><g fill="#ea8a2a"><circle cx="438.8" cy="65.3" r="1.95"/><circle cx="438.8" cy="77.1" r="1.95"/><circle cx="442.3" cy="100.6" r="1.95"/><circle cx="435.4" cy="103.8" r="1.95"/><circle cx="431.9" cy="109.9" r="1.95"/><circle cx="438.8" cy="110.3" r="1.95"/><circle cx="445.8" cy="110.3" r="1.95"/><circle cx="438.8" cy="117.9" r="1.95"/><circle cx="442.3" cy="126.0" r="1.95"/><circle cx="435.4" cy="128.8" r="1.95"/></g><line x1="395.00" y1="114.90" x2="415.80" y2="114.90" stroke="#2a2a2a" stroke-width="1.3"/><line x1="428.00" y1="109.90" x2="449.70" y2="109.90" stroke="#2a2a2a" stroke-width="1.3"/><rect x="44.6" y="201.2" width="128.6" height="129.1" fill="none" stroke="#5e5e5e" stroke-width="1.0"/><rect x="192.9" y="201.6" width="128.3" height="128.8" fill="none" stroke="#5e5e5e" stroke-width="1.0"/><g fill="#5560a6" opacity="0.78"><rect x="137.8" y="274.5" width="1" height="1"/><rect x="136.0" y="256.7" width="1" height="1"/><rect x="134.6" y="263.2" width="1" height="1"/><rect x="133.9" y="269.9" width="1" height="1"/><rect x="131.1" y="268.4" width="1" height="1"/><rect x="131.4" y="249.1" width="1" height="1"/><rect x="155.6" y="216.2" width="1" height="1"/><rect x="129.7" y="271.2" width="1" height="1"/><rect x="135.3" y="272.3" width="1" height="1"/><rect x="152.0" y="227.6" width="1" height="1"/><rect x="150.2" y="229.2" width="1" height="1"/><rect x="133.7" y="272.3" width="1" height="1"/><rect x="147.3" y="230.2" width="1" height="1"/><rect x="146.6" y="229.9" width="1" height="1"/><rect x="143.3" y="219.6" width="1" height="1"/><rect x="145.3" y="217.9" width="1" height="1"/><rect x="161.1" y="215.4" width="1" height="1"/><rect x="143.0" y="251.4" width="1" height="1"/><rect x="134.8" y="263.2" width="1" height="1"/><rect x="136.3" y="239.2" width="1" height="1"/><rect x="134.4" y="291.0" width="1" height="1"/><rect x="142.9" y="228.3" width="1" height="1"/><rect x="142.9" y="232.7" width="1" height="1"/><rect x="141.4" y="252.4" width="1" height="1"/><rect x="136.7" y="256.6" width="1" height="1"/><rect x="142.4" y="254.8" width="1" height="1"/><rect x="136.5" y="260.1" width="1" height="1"/><rect x="133.8" y="281.9" width="1" height="1"/><rect x="138.5" y="266.1" width="1" height="1"/><rect x="130.0" y="314.3" width="1" height="1"/><rect x="132.9" y="251.8" width="1" height="1"/><rect x="132.8" y="297.2" width="1" height="1"/><rect x="122.6" y="284.8" width="1" height="1"/><rect x="136.3" y="269.2" width="1" height="1"/><rect x="139.1" y="252.7" width="1" height="1"/><rect x="131.8" y="276.4" width="1" height="1"/><rect x="136.5" y="243.4" width="1" height="1"/><rect x="145.6" y="224.2" width="1" height="1"/><rect x="139.9" y="258.2" width="1" height="1"/><rect x="138.0" y="234.6" width="1" height="1"/><rect x="136.3" y="262.2" width="1" height="1"/><rect x="143.1" y="241.5" width="1" height="1"/><rect x="136.6" y="270.8" width="1" height="1"/><rect x="132.7" y="271.7" width="1" height="1"/><rect x="135.0" y="264.5" width="1" height="1"/><rect x="128.9" y="293.6" width="1" height="1"/><rect x="139.4" y="260.5" width="1" height="1"/><rect x="118.4" y="284.4" width="1" height="1"/><rect x="144.9" y="233.8" width="1" height="1"/><rect x="138.4" y="261.7" width="1" height="1"/><rect x="147.4" y="223.1" width="1" height="1"/><rect x="129.8" y="291.7" width="1" height="1"/><rect x="140.5" y="250.1" width="1" height="1"/><rect x="124.9" y="315.1" width="1" height="1"/><rect x="137.3" y="262.0" width="1" height="1"/><rect x="145.2" y="205.0" width="1" height="1"/><rect x="141.8" y="269.1" width="1" height="1"/><rect x="130.6" y="311.3" width="1" height="1"/><rect x="147.9" y="204.7" width="1" height="1"/><rect x="132.5" y="277.9" width="1" height="1"/><rect x="133.3" y="266.4" width="1" height="1"/><rect x="121.0" y="323.0" width="1" height="1"/><rect x="129.7" y="324.5" width="1" height="1"/><rect x="136.9" y="267.3" width="1" height="1"/><rect x="139.4" y="270.0" width="1" height="1"/><rect x="125.9" y="309.2" width="1" height="1"/><rect x="141.0" y="239.3" width="1" height="1"/><rect x="134.0" y="252.7" width="1" height="1"/><rect x="147.4" y="215.8" width="1" height="1"/><rect x="155.1" y="213.1" width="1" height="1"/><rect x="132.3" y="287.9" width="1" height="1"/><rect x="127.8" y="298.6" width="1" height="1"/><rect x="139.7" y="278.6" width="1" height="1"/><rect x="152.5" y="233.4" width="1" height="1"/><rect x="128.3" y="286.1" width="1" height="1"/><rect x="144.5" y="276.2" width="1" height="1"/><rect x="130.8" y="240.4" width="1" height="1"/><rect x="141.3" y="262.1" width="1" height="1"/><rect x="138.5" y="252.5" width="1" height="1"/><rect x="129.0" y="274.3" width="1" height="1"/><rect x="142.3" y="262.0" width="1" height="1"/><rect x="124.7" y="282.1" width="1" height="1"/><rect x="123.2" y="305.2" width="1" height="1"/><rect x="134.2" y="248.7" width="1" height="1"/><rect x="131.7" y="263.6" width="1" height="1"/><rect x="134.2" y="268.3" width="1" height="1"/><rect x="143.9" y="232.1" width="1" height="1"/><rect x="132.2" y="253.4" width="1" height="1"/><rect x="152.1" y="220.5" width="1" height="1"/><rect x="130.8" y="273.9" width="1" height="1"/><rect x="130.2" y="255.0" width="1" height="1"/><rect x="126.3" y="290.4" width="1" height="1"/><rect x="133.9" y="242.8" width="1" height="1"/><rect x="128.7" y="264.8" width="1" height="1"/><rect x="127.8" y="296.4" width="1" height="1"/><rect x="132.5" y="270.9" width="1" height="1"/><rect x="128.9" y="319.2" width="1" height="1"/><rect x="133.6" y="261.4" width="1" height="1"/><rect x="139.9" y="267.4" width="1" height="1"/><rect x="148.0" y="228.6" width="1" height="1"/><rect x="143.0" y="234.5" width="1" height="1"/><rect x="132.1" y="293.0" width="1" height="1"/><rect x="126.9" y="297.9" width="1" height="1"/><rect x="130.9" y="308.7" width="1" height="1"/><rect x="140.1" y="255.1" width="1" height="1"/><rect x="137.2" y="268.9" width="1" height="1"/><rect x="145.4" y="234.6" width="1" height="1"/><rect x="132.5" y="274.9" width="1" height="1"/><rect x="144.5" y="234.4" width="1" height="1"/><rect x="130.7" y="303.0" width="1" height="1"/><rect x="142.1" y="265.2" width="1" height="1"/><rect x="136.4" y="270.3" width="1" height="1"/><rect x="129.6" y="311.4" width="1" height="1"/><rect x="141.7" y="259.0" width="1" height="1"/><rect x="146.6" y="231.7" width="1" height="1"/><rect x="141.1" y="239.8" width="1" height="1"/><rect x="125.7" y="302.6" width="1" height="1"/><rect x="139.7" y="252.5" width="1" height="1"/><rect x="127.2" y="295.6" width="1" height="1"/><rect x="146.3" y="240.6" width="1" height="1"/><rect x="131.4" y="262.5" width="1" height="1"/><rect x="134.9" y="264.8" width="1" height="1"/><rect x="131.7" y="268.7" width="1" height="1"/><rect x="143.8" y="229.9" width="1" height="1"/><rect x="131.0" y="277.4" width="1" height="1"/><rect x="141.3" y="267.6" width="1" height="1"/><rect x="145.2" y="239.6" width="1" height="1"/><rect x="132.7" y="315.8" width="1" height="1"/><rect x="122.4" y="277.4" width="1" height="1"/><rect x="126.4" y="266.6" width="1" height="1"/><rect x="140.7" y="245.4" width="1" height="1"/><rect x="139.9" y="218.2" width="1" height="1"/><rect x="135.7" y="264.1" width="1" height="1"/><rect x="134.3" y="280.8" width="1" height="1"/><rect x="135.1" y="268.2" width="1" height="1"/><rect x="139.3" y="232.2" width="1" height="1"/><rect x="137.7" y="266.4" width="1" height="1"/><rect x="137.0" y="272.0" width="1" height="1"/><rect x="128.2" y="292.1" width="1" height="1"/><rect x="156.7" y="238.9" width="1" height="1"/><rect x="134.0" y="265.7" width="1" height="1"/><rect x="138.8" y="254.3" width="1" height="1"/><rect x="134.0" y="265.0" width="1" height="1"/><rect x="134.7" y="274.5" width="1" height="1"/><rect x="132.7" y="274.4" width="1" height="1"/><rect x="134.5" y="255.5" width="1" height="1"/><rect x="140.1" y="213.3" width="1" height="1"/><rect x="132.0" y="289.8" width="1" height="1"/><rect x="145.7" y="220.5" width="1" height="1"/><rect x="144.0" y="251.8" width="1" height="1"/><rect x="146.0" y="219.9" width="1" height="1"/><rect x="134.6" y="247.8" width="1" height="1"/><rect x="150.2" y="220.2" width="1" height="1"/><rect x="153.1" y="220.4" width="1" height="1"/><rect x="145.7" y="228.5" width="1" height="1"/><rect x="131.9" y="268.5" width="1" height="1"/><rect x="139.2" y="225.6" width="1" height="1"/><rect x="142.3" y="232.9" width="1" height="1"/><rect x="139.8" y="255.5" width="1" height="1"/><rect x="139.2" y="222.1" width="1" height="1"/><rect x="134.5" y="262.8" width="1" height="1"/><rect x="135.7" y="258.4" width="1" height="1"/><rect x="130.0" y="282.1" width="1" height="1"/><rect x="142.6" y="210.8" width="1" height="1"/><rect x="141.6" y="245.7" width="1" height="1"/><rect x="148.9" y="224.2" width="1" height="1"/><rect x="133.1" y="268.6" width="1" height="1"/><rect x="147.3" y="229.5" width="1" height="1"/><rect x="130.3" y="266.3" width="1" height="1"/><rect x="144.7" y="224.5" width="1" height="1"/><rect x="137.3" y="249.7" width="1" height="1"/><rect x="132.0" y="301.6" width="1" height="1"/><rect x="152.0" y="223.2" width="1" height="1"/><rect x="137.3" y="263.8" width="1" height="1"/><rect x="128.9" y="289.4" width="1" height="1"/><rect x="147.1" y="235.3" width="1" height="1"/><rect x="136.1" y="220.4" width="1" height="1"/><rect x="145.2" y="236.9" width="1" height="1"/><rect x="136.5" y="259.2" width="1" height="1"/><rect x="139.3" y="238.1" width="1" height="1"/><rect x="131.0" y="268.6" width="1" height="1"/><rect x="154.1" y="229.2" width="1" height="1"/><rect x="155.3" y="222.2" width="1" height="1"/><rect x="141.4" y="253.6" width="1" height="1"/><rect x="121.6" y="261.2" width="1" height="1"/><rect x="132.3" y="260.8" width="1" height="1"/><rect x="134.3" y="274.1" width="1" height="1"/><rect x="143.7" y="223.4" width="1" height="1"/><rect x="130.0" y="288.8" width="1" height="1"/><rect x="123.0" y="277.9" width="1" height="1"/><rect x="128.8" y="326.8" width="1" height="1"/><rect x="136.6" y="280.4" width="1" height="1"/><rect x="152.8" y="233.4" width="1" height="1"/><rect x="132.9" y="271.0" width="1" height="1"/><rect x="149.4" y="251.6" width="1" height="1"/><rect x="128.1" y="272.9" width="1" height="1"/><rect x="132.6" y="267.6" width="1" height="1"/><rect x="140.8" y="238.7" width="1" height="1"/><rect x="142.7" y="231.0" width="1" height="1"/><rect x="135.8" y="269.7" width="1" height="1"/><rect x="138.2" y="259.0" width="1" height="1"/><rect x="146.4" y="259.3" width="1" height="1"/><rect x="135.4" y="267.5" width="1" height="1"/><rect x="134.5" y="272.2" width="1" height="1"/><rect x="136.2" y="247.1" width="1" height="1"/><rect x="149.8" y="213.2" width="1" height="1"/><rect x="148.4" y="231.5" width="1" height="1"/><rect x="147.7" y="261.5" width="1" height="1"/><rect x="138.7" y="251.9" width="1" height="1"/><rect x="131.6" y="302.5" width="1" height="1"/><rect x="139.9" y="257.2" width="1" height="1"/><rect x="123.2" y="317.7" width="1" height="1"/><rect x="132.4" y="281.4" width="1" height="1"/><rect x="132.0" y="280.3" width="1" height="1"/><rect x="147.0" y="248.2" width="1" height="1"/><rect x="132.4" y="238.5" width="1" height="1"/><rect x="134.7" y="270.5" width="1" height="1"/><rect x="134.4" y="228.1" width="1" height="1"/><rect x="139.9" y="211.8" width="1" height="1"/><rect x="134.2" y="263.3" width="1" height="1"/><rect x="157.9" y="224.5" width="1" height="1"/><rect x="146.6" y="236.3" width="1" height="1"/><rect x="131.7" y="255.9" width="1" height="1"/><rect x="134.1" y="277.0" width="1" height="1"/><rect x="147.3" y="232.6" width="1" height="1"/><rect x="140.9" y="246.5" width="1" height="1"/><rect x="137.0" y="251.9" width="1" height="1"/><rect x="130.7" y="289.2" width="1" height="1"/><rect x="129.1" y="281.1" width="1" height="1"/><rect x="132.2" y="277.6" width="1" height="1"/><rect x="147.1" y="231.2" width="1" height="1"/><rect x="139.7" y="244.4" width="1" height="1"/><rect x="139.9" y="260.5" width="1" height="1"/><rect x="150.4" y="243.7" width="1" height="1"/><rect x="146.9" y="215.2" width="1" height="1"/><rect x="135.4" y="289.5" width="1" height="1"/><rect x="141.2" y="269.0" width="1" height="1"/><rect x="129.9" y="277.2" width="1" height="1"/><rect x="138.4" y="267.7" width="1" height="1"/><rect x="140.8" y="243.3" width="1" height="1"/><rect x="145.2" y="272.2" width="1" height="1"/><rect x="133.7" y="269.3" width="1" height="1"/><rect x="124.9" y="282.6" width="1" height="1"/><rect x="140.9" y="245.2" width="1" height="1"/><rect x="142.3" y="275.2" width="1" height="1"/><rect x="145.5" y="236.5" width="1" height="1"/><rect x="139.0" y="259.7" width="1" height="1"/><rect x="132.2" y="274.1" width="1" height="1"/><rect x="132.1" y="270.9" width="1" height="1"/><rect x="131.9" y="303.7" width="1" height="1"/><rect x="140.9" y="226.7" width="1" height="1"/><rect x="137.9" y="256.5" width="1" height="1"/><rect x="131.8" y="305.0" width="1" height="1"/><rect x="128.9" y="315.2" width="1" height="1"/><rect x="145.1" y="222.3" width="1" height="1"/><rect x="133.1" y="286.8" width="1" height="1"/><rect x="123.6" y="265.6" width="1" height="1"/><rect x="146.9" y="262.5" width="1" height="1"/><rect x="152.1" y="236.8" width="1" height="1"/><rect x="134.2" y="265.9" width="1" height="1"/><rect x="140.9" y="234.3" width="1" height="1"/><rect x="129.0" y="310.8" width="1" height="1"/><rect x="131.9" y="261.9" width="1" height="1"/><rect x="138.9" y="265.9" width="1" height="1"/><rect x="140.2" y="243.7" width="1" height="1"/><rect x="137.2" y="220.7" width="1" height="1"/><rect x="144.1" y="215.0" width="1" height="1"/><rect x="144.2" y="254.7" width="1" height="1"/><rect x="140.3" y="271.4" width="1" height="1"/><rect x="133.8" y="268.4" width="1" height="1"/><rect x="159.1" y="225.2" width="1" height="1"/><rect x="128.4" y="311.7" width="1" height="1"/><rect x="135.1" y="275.7" width="1" height="1"/><rect x="146.4" y="231.1" width="1" height="1"/><rect x="132.7" y="255.1" width="1" height="1"/><rect x="139.0" y="230.5" width="1" height="1"/><rect x="129.5" y="270.5" width="1" height="1"/><rect x="152.0" y="226.6" width="1" height="1"/><rect x="137.4" y="266.1" width="1" height="1"/><rect x="127.6" y="275.8" width="1" height="1"/><rect x="152.3" y="241.2" width="1" height="1"/><rect x="152.2" y="240.1" width="1" height="1"/><rect x="141.8" y="242.6" width="1" height="1"/><rect x="132.5" y="246.1" width="1" height="1"/><rect x="129.2" y="312.1" width="1" height="1"/><rect x="143.8" y="276.0" width="1" height="1"/><rect x="138.6" y="246.7" width="1" height="1"/><rect x="131.1" y="289.0" width="1" height="1"/><rect x="145.1" y="226.5" width="1" height="1"/><rect x="142.4" y="232.9" width="1" height="1"/><rect x="135.5" y="270.3" width="1" height="1"/><rect x="133.9" y="254.2" width="1" height="1"/><rect x="132.3" y="274.9" width="1" height="1"/><rect x="146.5" y="241.4" width="1" height="1"/><rect x="127.3" y="269.5" width="1" height="1"/><rect x="135.1" y="274.1" width="1" height="1"/><rect x="142.7" y="235.2" width="1" height="1"/><rect x="130.3" y="262.5" width="1" height="1"/><rect x="148.0" y="257.2" width="1" height="1"/><rect x="135.0" y="257.4" width="1" height="1"/><rect x="122.8" y="288.2" width="1" height="1"/><rect x="140.1" y="271.3" width="1" height="1"/><rect x="130.7" y="287.5" width="1" height="1"/><rect x="128.5" y="270.4" width="1" height="1"/><rect x="130.6" y="291.3" width="1" height="1"/><rect x="136.4" y="252.4" width="1" height="1"/><rect x="130.4" y="317.7" width="1" height="1"/><rect x="135.6" y="260.4" width="1" height="1"/><rect x="140.1" y="243.4" width="1" height="1"/><rect x="140.7" y="248.0" width="1" height="1"/><rect x="130.8" y="302.5" width="1" height="1"/><rect x="127.7" y="317.0" width="1" height="1"/><rect x="129.9" y="274.9" width="1" height="1"/><rect x="124.9" y="279.6" width="1" height="1"/><rect x="130.2" y="267.6" width="1" height="1"/><rect x="124.2" y="276.7" width="1" height="1"/><rect x="138.2" y="268.0" width="1" height="1"/><rect x="146.4" y="234.2" width="1" height="1"/><rect x="124.7" y="262.6" width="1" height="1"/><rect x="136.3" y="250.4" width="1" height="1"/><rect x="131.2" y="268.6" width="1" height="1"/><rect x="144.0" y="224.6" width="1" height="1"/><rect x="140.9" y="254.4" width="1" height="1"/><rect x="131.4" y="260.1" width="1" height="1"/><rect x="132.0" y="279.7" width="1" height="1"/><rect x="151.8" y="239.6" width="1" height="1"/><rect x="147.8" y="215.9" width="1" height="1"/><rect x="143.8" y="242.1" width="1" height="1"/><rect x="134.8" y="275.1" width="1" height="1"/><rect x="140.6" y="251.8" width="1" height="1"/><rect x="126.0" y="264.2" width="1" height="1"/><rect x="141.7" y="249.2" width="1" height="1"/><rect x="132.0" y="271.2" width="1" height="1"/><rect x="127.3" y="324.3" width="1" height="1"/><rect x="158.8" y="231.8" width="1" height="1"/><rect x="133.2" y="259.4" width="1" height="1"/><rect x="121.9" y="271.5" width="1" height="1"/><rect x="143.8" y="256.0" width="1" height="1"/><rect x="130.2" y="272.4" width="1" height="1"/><rect x="150.3" y="229.3" width="1" height="1"/><rect x="131.5" y="303.0" width="1" height="1"/><rect x="145.2" y="236.8" width="1" height="1"/><rect x="140.9" y="278.4" width="1" height="1"/><rect x="140.0" y="242.8" width="1" height="1"/><rect x="149.4" y="231.2" width="1" height="1"/><rect x="154.3" y="225.1" width="1" height="1"/><rect x="141.8" y="219.9" width="1" height="1"/><rect x="130.7" y="280.1" width="1" height="1"/><rect x="129.7" y="268.3" width="1" height="1"/><rect x="126.6" y="275.7" width="1" height="1"/><rect x="134.7" y="279.1" width="1" height="1"/><rect x="132.5" y="280.8" width="1" height="1"/><rect x="152.0" y="231.1" width="1" height="1"/><rect x="143.8" y="236.7" width="1" height="1"/><rect x="137.6" y="266.6" width="1" height="1"/><rect x="121.4" y="277.2" width="1" height="1"/><rect x="135.2" y="264.3" width="1" height="1"/><rect x="135.5" y="280.4" width="1" height="1"/><rect x="131.6" y="266.2" width="1" height="1"/><rect x="138.7" y="243.6" width="1" height="1"/><rect x="141.8" y="234.4" width="1" height="1"/><rect x="129.5" y="301.3" width="1" height="1"/><rect x="126.4" y="271.7" width="1" height="1"/><rect x="143.7" y="206.5" width="1" height="1"/><rect x="129.1" y="270.5" width="1" height="1"/><rect x="134.2" y="255.8" width="1" height="1"/><rect x="130.2" y="287.1" width="1" height="1"/><rect x="133.9" y="288.7" width="1" height="1"/><rect x="133.3" y="269.4" width="1" height="1"/><rect x="152.7" y="225.5" width="1" height="1"/><rect x="130.6" y="301.5" width="1" height="1"/><rect x="134.3" y="243.2" width="1" height="1"/><rect x="148.8" y="221.4" width="1" height="1"/><rect x="141.9" y="273.7" width="1" height="1"/><rect x="145.5" y="228.3" width="1" height="1"/><rect x="146.7" y="220.9" width="1" height="1"/><rect x="143.4" y="210.8" width="1" height="1"/><rect x="133.5" y="268.1" width="1" height="1"/><rect x="133.2" y="268.8" width="1" height="1"/><rect x="146.0" y="206.6" width="1" height="1"/><rect x="136.8" y="230.4" width="1" height="1"/><rect x="140.5" y="244.9" width="1" height="1"/><rect x="129.1" y="321.4" width="1" height="1"/><rect x="130.4" y="286.2" width="1" height="1"/><rect x="153.5" y="229.3" width="1" height="1"/><rect x="138.8" y="260.4" width="1" height="1"/><rect x="141.5" y="259.9" width="1" height="1"/><rect x="138.0" y="230.3" width="1" height="1"/><rect x="151.3" y="214.1" width="1" height="1"/><rect x="123.9" y="280.4" width="1" height="1"/><rect x="140.2" y="244.2" width="1" height="1"/><rect x="151.4" y="244.5" width="1" height="1"/><rect x="134.0" y="276.3" width="1" height="1"/><rect x="128.5" y="301.2" width="1" height="1"/><rect x="140.0" y="270.6" width="1" height="1"/><rect x="139.4" y="242.0" width="1" height="1"/><rect x="135.5" y="250.6" width="1" height="1"/><rect x="151.6" y="216.9" width="1" height="1"/><rect x="147.7" y="246.9" width="1" height="1"/><rect x="134.5" y="275.4" width="1" height="1"/><rect x="142.0" y="270.2" width="1" height="1"/><rect x="139.5" y="226.2" width="1" height="1"/><rect x="145.8" y="224.1" width="1" height="1"/><rect x="133.1" y="270.5" width="1" height="1"/><rect x="135.2" y="259.2" width="1" height="1"/><rect x="132.1" y="266.9" width="1" height="1"/><rect x="125.6" y="281.5" width="1" height="1"/><rect x="139.3" y="261.3" width="1" height="1"/><rect x="133.3" y="254.8" width="1" height="1"/><rect x="141.1" y="227.6" width="1" height="1"/><rect x="141.2" y="250.8" width="1" height="1"/><rect x="131.4" y="285.5" width="1" height="1"/><rect x="138.1" y="260.5" width="1" height="1"/><rect x="130.9" y="324.3" width="1" height="1"/><rect x="144.4" y="238.3" width="1" height="1"/><rect x="139.4" y="231.9" width="1" height="1"/><rect x="134.6" y="281.5" width="1" height="1"/><rect x="132.9" y="263.2" width="1" height="1"/><rect x="136.4" y="254.8" width="1" height="1"/><rect x="144.0" y="218.9" width="1" height="1"/><rect x="143.5" y="221.4" width="1" height="1"/><rect x="133.8" y="274.0" width="1" height="1"/><rect x="131.8" y="296.0" width="1" height="1"/><rect x="138.2" y="267.1" width="1" height="1"/><rect x="138.8" y="259.1" width="1" height="1"/><rect x="136.3" y="233.1" width="1" height="1"/><rect x="144.1" y="218.7" width="1" height="1"/><rect x="141.5" y="258.6" width="1" height="1"/><rect x="137.9" y="253.9" width="1" height="1"/><rect x="136.8" y="259.9" width="1" height="1"/><rect x="128.7" y="253.0" width="1" height="1"/><rect x="134.3" y="270.9" width="1" height="1"/><rect x="142.4" y="245.9" width="1" height="1"/><rect x="135.5" y="261.2" width="1" height="1"/><rect x="142.8" y="246.9" width="1" height="1"/><rect x="139.9" y="273.6" width="1" height="1"/><rect x="136.7" y="263.5" width="1" height="1"/><rect x="142.5" y="264.9" width="1" height="1"/><rect x="143.8" y="220.2" width="1" height="1"/><rect x="145.4" y="240.6" width="1" height="1"/><rect x="137.7" y="270.2" width="1" height="1"/><rect x="144.2" y="224.1" width="1" height="1"/><rect x="143.0" y="227.0" width="1" height="1"/><rect x="136.0" y="239.3" width="1" height="1"/><rect x="124.9" y="313.9" width="1" height="1"/><rect x="142.4" y="227.6" width="1" height="1"/><rect x="152.6" y="225.4" width="1" height="1"/><rect x="150.7" y="226.2" width="1" height="1"/><rect x="141.7" y="225.9" width="1" height="1"/><rect x="147.1" y="240.5" width="1" height="1"/><rect x="144.0" y="228.0" width="1" height="1"/><rect x="134.0" y="252.3" width="1" height="1"/><rect x="135.2" y="243.1" width="1" height="1"/><rect x="130.4" y="312.1" width="1" height="1"/><rect x="139.8" y="235.3" width="1" height="1"/><rect x="132.3" y="311.2" width="1" height="1"/><rect x="135.5" y="269.0" width="1" height="1"/><rect x="152.5" y="214.7" width="1" height="1"/><rect x="139.7" y="245.8" width="1" height="1"/><rect x="149.0" y="226.3" width="1" height="1"/><rect x="140.7" y="255.3" width="1" height="1"/><rect x="137.4" y="235.8" width="1" height="1"/><rect x="136.2" y="276.6" width="1" height="1"/><rect x="133.2" y="265.1" width="1" height="1"/><rect x="127.4" y="276.0" width="1" height="1"/><rect x="139.4" y="243.1" width="1" height="1"/><rect x="131.9" y="272.3" width="1" height="1"/><rect x="148.8" y="214.3" width="1" height="1"/><rect x="131.3" y="283.6" width="1" height="1"/><rect x="148.5" y="227.1" width="1" height="1"/><rect x="142.8" y="224.8" width="1" height="1"/><rect x="127.2" y="295.9" width="1" height="1"/><rect x="147.1" y="233.4" width="1" height="1"/><rect x="135.0" y="255.7" width="1" height="1"/><rect x="140.7" y="220.5" width="1" height="1"/><rect x="128.3" y="281.4" width="1" height="1"/><rect x="132.9" y="271.4" width="1" height="1"/><rect x="145.8" y="222.7" width="1" height="1"/><rect x="127.3" y="273.4" width="1" height="1"/><rect x="140.4" y="239.4" width="1" height="1"/><rect x="131.0" y="288.0" width="1" height="1"/><rect x="154.6" y="219.3" width="1" height="1"/><rect x="140.5" y="256.2" width="1" height="1"/><rect x="150.0" y="253.6" width="1" height="1"/><rect x="142.9" y="239.8" width="1" height="1"/><rect x="133.7" y="270.6" width="1" height="1"/><rect x="136.7" y="283.2" width="1" height="1"/><rect x="148.3" y="239.7" width="1" height="1"/><rect x="138.6" y="256.3" width="1" height="1"/><rect x="133.5" y="278.1" width="1" height="1"/><rect x="138.3" y="247.4" width="1" height="1"/><rect x="137.0" y="210.5" width="1" height="1"/><rect x="140.6" y="245.8" width="1" height="1"/><rect x="130.7" y="273.3" width="1" height="1"/><rect x="147.2" y="238.2" width="1" height="1"/><rect x="131.2" y="247.2" width="1" height="1"/><rect x="138.3" y="261.1" width="1" height="1"/><rect x="140.5" y="228.5" width="1" height="1"/><rect x="129.0" y="249.5" width="1" height="1"/><rect x="126.9" y="278.4" width="1" height="1"/><rect x="132.0" y="255.2" width="1" height="1"/><rect x="126.5" y="285.6" width="1" height="1"/><rect x="124.6" y="262.8" width="1" height="1"/><rect x="132.1" y="268.1" width="1" height="1"/><rect x="141.6" y="252.3" width="1" height="1"/><rect x="136.4" y="230.7" width="1" height="1"/><rect x="130.0" y="263.3" width="1" height="1"/><rect x="144.1" y="242.1" width="1" height="1"/><rect x="141.9" y="214.6" width="1" height="1"/><rect x="119.4" y="272.7" width="1" height="1"/><rect x="145.1" y="236.9" width="1" height="1"/><rect x="134.9" y="257.3" width="1" height="1"/><rect x="139.6" y="250.7" width="1" height="1"/><rect x="151.9" y="219.2" width="1" height="1"/><rect x="136.5" y="257.7" width="1" height="1"/><rect x="139.4" y="267.1" width="1" height="1"/><rect x="147.9" y="231.5" width="1" height="1"/><rect x="141.6" y="216.7" width="1" height="1"/><rect x="139.1" y="228.6" width="1" height="1"/><rect x="134.1" y="257.4" width="1" height="1"/><rect x="149.6" y="212.4" width="1" height="1"/><rect x="134.7" y="269.8" width="1" height="1"/><rect x="140.4" y="216.1" width="1" height="1"/><rect x="140.6" y="235.6" width="1" height="1"/><rect x="131.0" y="263.1" width="1" height="1"/><rect x="125.9" y="270.1" width="1" height="1"/><rect x="139.0" y="247.9" width="1" height="1"/><rect x="136.4" y="264.8" width="1" height="1"/><rect x="130.1" y="281.8" width="1" height="1"/><rect x="124.2" y="266.6" width="1" height="1"/><rect x="128.7" y="262.6" width="1" height="1"/><rect x="135.6" y="277.5" width="1" height="1"/><rect x="134.3" y="267.0" width="1" height="1"/><rect x="132.2" y="263.9" width="1" height="1"/><rect x="130.5" y="325.7" width="1" height="1"/><rect x="131.7" y="281.8" width="1" height="1"/><rect x="130.9" y="265.3" width="1" height="1"/><rect x="125.8" y="268.4" width="1" height="1"/><rect x="128.3" y="299.2" width="1" height="1"/><rect x="138.8" y="235.2" width="1" height="1"/><rect x="137.3" y="299.0" width="1" height="1"/><rect x="143.0" y="239.7" width="1" height="1"/><rect x="141.0" y="239.7" width="1" height="1"/><rect x="131.1" y="265.2" width="1" height="1"/><rect x="130.0" y="294.8" width="1" height="1"/><rect x="134.8" y="256.4" width="1" height="1"/><rect x="146.6" y="249.0" width="1" height="1"/><rect x="131.5" y="257.4" width="1" height="1"/><rect x="144.0" y="252.8" width="1" height="1"/><rect x="125.4" y="304.2" width="1" height="1"/><rect x="133.2" y="291.1" width="1" height="1"/><rect x="138.0" y="242.2" width="1" height="1"/><rect x="135.8" y="256.7" width="1" height="1"/><rect x="149.8" y="234.2" width="1" height="1"/><rect x="135.8" y="283.7" width="1" height="1"/><rect x="133.3" y="252.4" width="1" height="1"/><rect x="132.3" y="273.8" width="1" height="1"/><rect x="134.8" y="250.3" width="1" height="1"/><rect x="128.6" y="327.4" width="1" height="1"/><rect x="140.2" y="230.7" width="1" height="1"/><rect x="124.6" y="276.8" width="1" height="1"/><rect x="138.6" y="245.9" width="1" height="1"/><rect x="136.9" y="249.1" width="1" height="1"/><rect x="122.7" y="266.0" width="1" height="1"/><rect x="133.5" y="254.2" width="1" height="1"/><rect x="146.7" y="240.1" width="1" height="1"/><rect x="140.6" y="224.9" width="1" height="1"/><rect x="124.9" y="272.0" width="1" height="1"/><rect x="135.5" y="247.3" width="1" height="1"/><rect x="130.0" y="283.1" width="1" height="1"/><rect x="145.8" y="240.4" width="1" height="1"/><rect x="130.3" y="263.1" width="1" height="1"/><rect x="149.3" y="228.1" width="1" height="1"/><rect x="132.4" y="298.9" width="1" height="1"/><rect x="135.8" y="277.1" width="1" height="1"/><rect x="151.2" y="229.5" width="1" height="1"/><rect x="134.3" y="264.0" width="1" height="1"/><rect x="130.2" y="286.0" width="1" height="1"/><rect x="143.5" y="230.9" width="1" height="1"/><rect x="132.7" y="232.8" width="1" height="1"/><rect x="133.3" y="272.5" width="1" height="1"/><rect x="134.0" y="268.8" width="1" height="1"/><rect x="137.1" y="245.6" width="1" height="1"/><rect x="128.6" y="304.6" width="1" height="1"/><rect x="146.3" y="234.0" width="1" height="1"/><rect x="133.4" y="299.1" width="1" height="1"/><rect x="136.7" y="252.3" width="1" height="1"/><rect x="136.6" y="260.4" width="1" height="1"/><rect x="128.6" y="310.6" width="1" height="1"/><rect x="138.3" y="265.7" width="1" height="1"/><rect x="124.3" y="323.6" width="1" height="1"/><rect x="125.7" y="269.6" width="1" height="1"/><rect x="142.2" y="241.4" width="1" height="1"/><rect x="122.3" y="266.7" width="1" height="1"/><rect x="151.3" y="234.0" width="1" height="1"/><rect x="148.3" y="229.0" width="1" height="1"/><rect x="136.0" y="274.1" width="1" height="1"/><rect x="136.4" y="266.4" width="1" height="1"/><rect x="138.7" y="253.8" width="1" height="1"/><rect x="131.9" y="288.3" width="1" height="1"/><rect x="126.8" y="284.4" width="1" height="1"/><rect x="131.2" y="310.4" width="1" height="1"/><rect x="126.8" y="283.3" width="1" height="1"/><rect x="146.8" y="229.3" width="1" height="1"/><rect x="148.0" y="208.1" width="1" height="1"/><rect x="135.3" y="266.6" width="1" height="1"/><rect x="143.9" y="232.7" width="1" height="1"/><rect x="132.7" y="298.4" width="1" height="1"/><rect x="143.7" y="263.5" width="1" height="1"/><rect x="137.5" y="271.7" width="1" height="1"/><rect x="131.6" y="270.0" width="1" height="1"/><rect x="148.3" y="240.8" width="1" height="1"/><rect x="137.1" y="265.7" width="1" height="1"/><rect x="128.8" y="301.3" width="1" height="1"/><rect x="130.2" y="310.1" width="1" height="1"/><rect x="129.4" y="322.6" width="1" height="1"/><rect x="133.3" y="267.8" width="1" height="1"/></g><g fill="#5560a6" opacity="0.78"><rect x="306.2" y="215.6" width="1" height="1"/><rect x="276.3" y="271.6" width="1" height="1"/><rect x="295.9" y="242.7" width="1" height="1"/><rect x="283.2" y="259.6" width="1" height="1"/><rect x="274.7" y="267.2" width="1" height="1"/><rect x="283.1" y="269.1" width="1" height="1"/><rect x="299.6" y="227.0" width="1" height="1"/><rect x="282.3" y="251.9" width="1" height="1"/><rect x="302.3" y="213.3" width="1" height="1"/><rect x="278.1" y="263.8" width="1" height="1"/><rect x="290.4" y="252.2" width="1" height="1"/><rect x="272.2" y="277.0" width="1" height="1"/><rect x="286.5" y="256.9" width="1" height="1"/><rect x="289.4" y="240.5" width="1" height="1"/><rect x="277.7" y="270.2" width="1" height="1"/><rect x="291.1" y="254.8" width="1" height="1"/><rect x="286.2" y="253.1" width="1" height="1"/><rect x="294.9" y="246.5" width="1" height="1"/><rect x="298.1" y="222.7" width="1" height="1"/><rect x="307.7" y="222.7" width="1" height="1"/><rect x="270.8" y="284.0" width="1" height="1"/><rect x="301.1" y="222.7" width="1" height="1"/><rect x="285.6" y="260.9" width="1" height="1"/><rect x="284.6" y="267.1" width="1" height="1"/><rect x="281.6" y="266.1" width="1" height="1"/><rect x="280.2" y="262.7" width="1" height="1"/><rect x="283.0" y="253.3" width="1" height="1"/><rect x="293.7" y="233.6" width="1" height="1"/><rect x="277.6" y="301.1" width="1" height="1"/><rect x="287.5" y="252.0" width="1" height="1"/><rect x="284.9" y="273.1" width="1" height="1"/><rect x="283.9" y="246.7" width="1" height="1"/><rect x="284.9" y="248.6" width="1" height="1"/><rect x="270.1" y="276.9" width="1" height="1"/><rect x="294.0" y="246.5" width="1" height="1"/><rect x="311.5" y="216.1" width="1" height="1"/><rect x="307.3" y="214.9" width="1" height="1"/><rect x="300.5" y="236.5" width="1" height="1"/><rect x="292.5" y="230.5" width="1" height="1"/><rect x="301.6" y="227.1" width="1" height="1"/><rect x="277.8" y="312.4" width="1" height="1"/><rect x="281.5" y="258.0" width="1" height="1"/><rect x="292.6" y="244.7" width="1" height="1"/><rect x="292.8" y="240.4" width="1" height="1"/><rect x="271.5" y="307.9" width="1" height="1"/><rect x="280.9" y="242.6" width="1" height="1"/><rect x="279.9" y="323.0" width="1" height="1"/><rect x="280.2" y="261.2" width="1" height="1"/><rect x="285.9" y="247.4" width="1" height="1"/><rect x="286.1" y="253.4" width="1" height="1"/><rect x="281.1" y="299.0" width="1" height="1"/><rect x="295.1" y="244.8" width="1" height="1"/><rect x="279.0" y="290.2" width="1" height="1"/><rect x="297.6" y="229.5" width="1" height="1"/><rect x="284.8" y="271.2" width="1" height="1"/><rect x="286.9" y="263.0" width="1" height="1"/><rect x="287.1" y="244.8" width="1" height="1"/><rect x="298.7" y="221.9" width="1" height="1"/><rect x="278.1" y="262.0" width="1" height="1"/><rect x="295.8" y="226.5" width="1" height="1"/><rect x="286.4" y="265.4" width="1" height="1"/><rect x="305.2" y="225.1" width="1" height="1"/><rect x="295.3" y="251.8" width="1" height="1"/><rect x="284.9" y="253.0" width="1" height="1"/><rect x="280.8" y="274.2" width="1" height="1"/><rect x="304.7" y="219.6" width="1" height="1"/><rect x="279.1" y="297.0" width="1" height="1"/><rect x="291.7" y="248.3" width="1" height="1"/><rect x="294.6" y="269.3" width="1" height="1"/><rect x="306.0" y="222.1" width="1" height="1"/><rect x="278.8" y="258.1" width="1" height="1"/><rect x="296.0" y="222.2" width="1" height="1"/><rect x="294.3" y="217.4" width="1" height="1"/><rect x="285.2" y="238.4" width="1" height="1"/><rect x="283.4" y="323.2" width="1" height="1"/><rect x="276.0" y="266.4" width="1" height="1"/><rect x="287.5" y="247.7" width="1" height="1"/><rect x="272.1" y="269.7" width="1" height="1"/><rect x="303.6" y="227.0" width="1" height="1"/><rect x="291.6" y="233.6" width="1" height="1"/><rect x="284.6" y="254.8" width="1" height="1"/><rect x="272.5" y="269.9" width="1" height="1"/><rect x="299.7" y="229.0" width="1" height="1"/><rect x="286.4" y="273.8" width="1" height="1"/><rect x="292.4" y="254.1" width="1" height="1"/><rect x="272.7" y="276.6" width="1" height="1"/><rect x="281.8" y="306.5" width="1" height="1"/><rect x="278.7" y="306.7" width="1" height="1"/><rect x="304.5" y="212.5" width="1" height="1"/><rect x="302.1" y="219.9" width="1" height="1"/><rect x="291.1" y="255.7" width="1" height="1"/><rect x="277.5" y="280.6" width="1" height="1"/><rect x="294.2" y="242.9" width="1" height="1"/><rect x="285.0" y="251.7" width="1" height="1"/><rect x="278.0" y="318.9" width="1" height="1"/><rect x="291.7" y="211.4" width="1" height="1"/><rect x="288.2" y="245.1" width="1" height="1"/><rect x="299.8" y="252.4" width="1" height="1"/><rect x="303.8" y="214.1" width="1" height="1"/><rect x="273.8" y="291.7" width="1" height="1"/><rect x="277.2" y="316.0" width="1" height="1"/><rect x="276.4" y="268.1" width="1" height="1"/><rect x="286.0" y="264.0" width="1" height="1"/><rect x="279.3" y="247.9" width="1" height="1"/><rect x="289.1" y="260.4" width="1" height="1"/><rect x="300.0" y="220.2" width="1" height="1"/><rect x="276.7" y="280.8" width="1" height="1"/><rect x="285.3" y="253.1" width="1" height="1"/><rect x="294.4" y="229.2" width="1" height="1"/><rect x="278.6" y="232.4" width="1" height="1"/><rect x="296.5" y="228.3" width="1" height="1"/><rect x="282.5" y="268.0" width="1" height="1"/><rect x="287.3" y="259.8" width="1" height="1"/><rect x="292.3" y="226.5" width="1" height="1"/><rect x="295.9" y="252.0" width="1" height="1"/><rect x="281.6" y="266.5" width="1" height="1"/><rect x="286.0" y="255.0" width="1" height="1"/><rect x="276.2" y="308.8" width="1" height="1"/><rect x="296.4" y="230.4" width="1" height="1"/><rect x="271.8" y="305.3" width="1" height="1"/><rect x="284.9" y="251.2" width="1" height="1"/><rect x="293.4" y="259.3" width="1" height="1"/><rect x="293.2" y="255.9" width="1" height="1"/><rect x="276.8" y="253.0" width="1" height="1"/><rect x="306.9" y="219.8" width="1" height="1"/><rect x="282.7" y="262.4" width="1" height="1"/><rect x="289.3" y="257.4" width="1" height="1"/><rect x="304.6" y="211.5" width="1" height="1"/><rect x="286.8" y="271.8" width="1" height="1"/><rect x="277.7" y="292.0" width="1" height="1"/><rect x="292.2" y="233.1" width="1" height="1"/><rect x="288.2" y="272.4" width="1" height="1"/><rect x="280.2" y="279.4" width="1" height="1"/><rect x="281.6" y="272.2" width="1" height="1"/><rect x="292.2" y="237.7" width="1" height="1"/><rect x="296.3" y="239.9" width="1" height="1"/><rect x="306.3" y="221.5" width="1" height="1"/><rect x="302.0" y="224.2" width="1" height="1"/><rect x="283.8" y="258.9" width="1" height="1"/><rect x="282.6" y="287.6" width="1" height="1"/><rect x="285.5" y="258.7" width="1" height="1"/><rect x="279.5" y="277.0" width="1" height="1"/><rect x="276.7" y="290.8" width="1" height="1"/><rect x="281.8" y="259.5" width="1" height="1"/><rect x="281.5" y="295.5" width="1" height="1"/><rect x="289.7" y="243.4" width="1" height="1"/><rect x="276.2" y="283.8" width="1" height="1"/><rect x="285.3" y="253.1" width="1" height="1"/><rect x="284.9" y="268.0" width="1" height="1"/><rect x="304.4" y="227.9" width="1" height="1"/><rect x="277.0" y="273.9" width="1" height="1"/><rect x="281.6" y="265.0" width="1" height="1"/><rect x="280.7" y="272.3" width="1" height="1"/><rect x="293.0" y="256.2" width="1" height="1"/><rect x="281.1" y="288.0" width="1" height="1"/><rect x="291.5" y="260.5" width="1" height="1"/><rect x="290.5" y="237.8" width="1" height="1"/><rect x="289.6" y="243.3" width="1" height="1"/><rect x="299.7" y="212.3" width="1" height="1"/><rect x="288.8" y="277.4" width="1" height="1"/><rect x="297.8" y="229.7" width="1" height="1"/><rect x="285.3" y="261.9" width="1" height="1"/><rect x="280.7" y="271.2" width="1" height="1"/><rect x="280.5" y="267.1" width="1" height="1"/><rect x="296.2" y="214.2" width="1" height="1"/><rect x="278.2" y="257.5" width="1" height="1"/><rect x="291.1" y="271.6" width="1" height="1"/><rect x="303.0" y="218.1" width="1" height="1"/><rect x="301.5" y="220.3" width="1" height="1"/><rect x="290.1" y="262.9" width="1" height="1"/><rect x="287.6" y="277.5" width="1" height="1"/><rect x="284.2" y="255.6" width="1" height="1"/><rect x="306.7" y="210.5" width="1" height="1"/><rect x="290.3" y="257.1" width="1" height="1"/><rect x="276.9" y="296.8" width="1" height="1"/><rect x="300.9" y="205.8" width="1" height="1"/><rect x="284.0" y="256.3" width="1" height="1"/><rect x="303.1" y="225.0" width="1" height="1"/><rect x="311.7" y="216.2" width="1" height="1"/><rect x="301.8" y="221.4" width="1" height="1"/><rect x="276.3" y="320.8" width="1" height="1"/><rect x="290.7" y="254.5" width="1" height="1"/><rect x="283.5" y="268.8" width="1" height="1"/><rect x="279.2" y="274.0" width="1" height="1"/><rect x="288.7" y="249.2" width="1" height="1"/><rect x="293.5" y="247.0" width="1" height="1"/><rect x="286.0" y="261.0" width="1" height="1"/><rect x="292.3" y="231.3" width="1" height="1"/><rect x="287.9" y="250.9" width="1" height="1"/><rect x="293.7" y="228.9" width="1" height="1"/><rect x="305.5" y="212.8" width="1" height="1"/><rect x="282.0" y="260.3" width="1" height="1"/><rect x="281.2" y="270.7" width="1" height="1"/><rect x="289.4" y="241.5" width="1" height="1"/><rect x="277.9" y="266.7" width="1" height="1"/><rect x="283.2" y="267.0" width="1" height="1"/><rect x="278.8" y="298.3" width="1" height="1"/><rect x="271.1" y="258.7" width="1" height="1"/><rect x="294.5" y="244.0" width="1" height="1"/><rect x="287.7" y="270.1" width="1" height="1"/><rect x="276.7" y="278.8" width="1" height="1"/><rect x="285.8" y="248.4" width="1" height="1"/><rect x="285.6" y="265.2" width="1" height="1"/><rect x="272.8" y="268.2" width="1" height="1"/><rect x="288.3" y="271.2" width="1" height="1"/><rect x="300.4" y="222.4" width="1" height="1"/><rect x="293.0" y="224.4" width="1" height="1"/><rect x="289.9" y="273.2" width="1" height="1"/><rect x="290.6" y="255.6" width="1" height="1"/><rect x="278.9" y="269.0" width="1" height="1"/><rect x="284.9" y="250.9" width="1" height="1"/><rect x="292.9" y="213.2" width="1" height="1"/><rect x="279.9" y="284.4" width="1" height="1"/><rect x="290.3" y="260.6" width="1" height="1"/><rect x="280.6" y="262.5" width="1" height="1"/><rect x="292.6" y="239.3" width="1" height="1"/><rect x="286.1" y="258.4" width="1" height="1"/><rect x="286.7" y="254.2" width="1" height="1"/><rect x="297.5" y="219.9" width="1" height="1"/><rect x="279.9" y="258.0" width="1" height="1"/><rect x="289.3" y="258.7" width="1" height="1"/><rect x="279.6" y="245.0" width="1" height="1"/><rect x="288.8" y="261.6" width="1" height="1"/><rect x="300.3" y="231.2" width="1" height="1"/><rect x="289.4" y="259.5" width="1" height="1"/><rect x="275.6" y="327.2" width="1" height="1"/><rect x="277.9" y="322.3" width="1" height="1"/><rect x="301.4" y="229.2" width="1" height="1"/><rect x="304.1" y="231.2" width="1" height="1"/><rect x="280.8" y="280.5" width="1" height="1"/><rect x="295.9" y="252.3" width="1" height="1"/><rect x="288.7" y="271.2" width="1" height="1"/><rect x="292.7" y="247.6" width="1" height="1"/><rect x="283.6" y="255.0" width="1" height="1"/><rect x="298.0" y="225.8" width="1" height="1"/><rect x="290.5" y="274.8" width="1" height="1"/><rect x="294.5" y="250.2" width="1" height="1"/><rect x="284.2" y="276.2" width="1" height="1"/><rect x="288.1" y="251.1" width="1" height="1"/><rect x="283.1" y="260.2" width="1" height="1"/><rect x="296.0" y="231.5" width="1" height="1"/><rect x="283.3" y="275.6" width="1" height="1"/><rect x="277.6" y="279.4" width="1" height="1"/><rect x="305.5" y="236.4" width="1" height="1"/><rect x="293.7" y="250.1" width="1" height="1"/><rect x="291.5" y="278.3" width="1" height="1"/><rect x="292.0" y="235.8" width="1" height="1"/><rect x="302.7" y="223.5" width="1" height="1"/><rect x="280.7" y="279.7" width="1" height="1"/><rect x="291.8" y="259.7" width="1" height="1"/><rect x="276.2" y="276.7" width="1" height="1"/><rect x="277.4" y="271.1" width="1" height="1"/><rect x="283.2" y="314.2" width="1" height="1"/><rect x="275.1" y="266.4" width="1" height="1"/><rect x="304.9" y="223.5" width="1" height="1"/><rect x="295.2" y="230.1" width="1" height="1"/><rect x="282.5" y="261.0" width="1" height="1"/><rect x="292.0" y="236.6" width="1" height="1"/><rect x="276.6" y="296.8" width="1" height="1"/><rect x="293.1" y="245.2" width="1" height="1"/><rect x="295.2" y="236.6" width="1" height="1"/><rect x="279.4" y="267.2" width="1" height="1"/><rect x="305.3" y="231.2" width="1" height="1"/><rect x="288.3" y="278.8" width="1" height="1"/><rect x="289.8" y="228.3" width="1" height="1"/><rect x="279.0" y="315.7" width="1" height="1"/><rect x="291.1" y="242.7" width="1" height="1"/><rect x="302.3" y="222.9" width="1" height="1"/><rect x="299.0" y="214.6" width="1" height="1"/><rect x="297.9" y="245.5" width="1" height="1"/><rect x="275.9" y="275.6" width="1" height="1"/><rect x="286.8" y="261.3" width="1" height="1"/><rect x="278.1" y="298.2" width="1" height="1"/><rect x="289.7" y="257.1" width="1" height="1"/><rect x="302.3" y="227.9" width="1" height="1"/><rect x="283.5" y="256.3" width="1" height="1"/><rect x="300.0" y="233.8" width="1" height="1"/><rect x="286.9" y="275.0" width="1" height="1"/><rect x="289.1" y="263.1" width="1" height="1"/><rect x="284.5" y="252.8" width="1" height="1"/><rect x="278.6" y="305.9" width="1" height="1"/><rect x="283.1" y="237.7" width="1" height="1"/><rect x="298.9" y="210.4" width="1" height="1"/><rect x="292.6" y="261.1" width="1" height="1"/><rect x="277.1" y="323.0" width="1" height="1"/><rect x="274.5" y="266.5" width="1" height="1"/><rect x="294.8" y="228.9" width="1" height="1"/><rect x="298.0" y="232.1" width="1" height="1"/><rect x="301.3" y="250.4" width="1" height="1"/><rect x="301.0" y="230.0" width="1" height="1"/><rect x="285.9" y="261.5" width="1" height="1"/><rect x="277.3" y="273.3" width="1" height="1"/><rect x="297.4" y="227.3" width="1" height="1"/><rect x="283.0" y="273.5" width="1" height="1"/><rect x="277.1" y="263.0" width="1" height="1"/><rect x="289.2" y="283.8" width="1" height="1"/><rect x="294.0" y="240.5" width="1" height="1"/><rect x="289.9" y="244.4" width="1" height="1"/><rect x="309.7" y="203.5" width="1" height="1"/><rect x="293.0" y="241.6" width="1" height="1"/><rect x="284.0" y="264.9" width="1" height="1"/><rect x="291.1" y="263.1" width="1" height="1"/><rect x="286.6" y="259.1" width="1" height="1"/><rect x="284.4" y="244.5" width="1" height="1"/><rect x="270.7" y="262.1" width="1" height="1"/><rect x="292.1" y="251.0" width="1" height="1"/><rect x="280.1" y="297.6" width="1" height="1"/><rect x="288.5" y="243.2" width="1" height="1"/><rect x="290.3" y="241.1" width="1" height="1"/><rect x="275.7" y="264.9" width="1" height="1"/><rect x="279.9" y="260.7" width="1" height="1"/><rect x="284.3" y="262.1" width="1" height="1"/><rect x="303.9" y="229.1" width="1" height="1"/><rect x="301.6" y="234.5" width="1" height="1"/><rect x="277.5" y="277.6" width="1" height="1"/><rect x="280.4" y="321.4" width="1" height="1"/><rect x="298.6" y="232.9" width="1" height="1"/><rect x="287.3" y="276.7" width="1" height="1"/><rect x="277.2" y="269.5" width="1" height="1"/><rect x="297.3" y="224.2" width="1" height="1"/><rect x="296.2" y="227.8" width="1" height="1"/><rect x="311.9" y="217.4" width="1" height="1"/><rect x="298.6" y="219.1" width="1" height="1"/><rect x="298.8" y="226.7" width="1" height="1"/><rect x="291.3" y="239.1" width="1" height="1"/><rect x="280.8" y="277.5" width="1" height="1"/><rect x="289.5" y="236.4" width="1" height="1"/><rect x="283.8" y="305.4" width="1" height="1"/><rect x="282.3" y="270.8" width="1" height="1"/><rect x="287.6" y="251.0" width="1" height="1"/><rect x="279.3" y="274.8" width="1" height="1"/><rect x="288.7" y="272.9" width="1" height="1"/><rect x="279.2" y="303.9" width="1" height="1"/><rect x="318.5" y="219.1" width="1" height="1"/><rect x="294.8" y="229.0" width="1" height="1"/><rect x="305.7" y="211.1" width="1" height="1"/><rect x="282.0" y="321.0" width="1" height="1"/><rect x="280.9" y="258.2" width="1" height="1"/><rect x="280.3" y="320.0" width="1" height="1"/><rect x="273.5" y="288.1" width="1" height="1"/><rect x="298.7" y="236.2" width="1" height="1"/><rect x="286.6" y="257.7" width="1" height="1"/><rect x="275.6" y="265.9" width="1" height="1"/><rect x="281.3" y="272.7" width="1" height="1"/><rect x="297.9" y="246.0" width="1" height="1"/><rect x="283.7" y="299.3" width="1" height="1"/><rect x="308.3" y="216.5" width="1" height="1"/><rect x="290.9" y="239.6" width="1" height="1"/><rect x="296.6" y="226.0" width="1" height="1"/><rect x="290.1" y="240.1" width="1" height="1"/><rect x="286.3" y="285.3" width="1" height="1"/><rect x="284.4" y="314.4" width="1" height="1"/><rect x="295.3" y="239.9" width="1" height="1"/><rect x="285.4" y="303.1" width="1" height="1"/><rect x="282.4" y="266.4" width="1" height="1"/><rect x="283.4" y="260.0" width="1" height="1"/><rect x="290.9" y="260.6" width="1" height="1"/><rect x="280.0" y="290.3" width="1" height="1"/><rect x="285.0" y="264.6" width="1" height="1"/><rect x="284.9" y="248.8" width="1" height="1"/><rect x="283.8" y="264.8" width="1" height="1"/><rect x="292.1" y="242.4" width="1" height="1"/><rect x="281.2" y="314.6" width="1" height="1"/><rect x="286.1" y="258.8" width="1" height="1"/><rect x="297.2" y="244.8" width="1" height="1"/><rect x="294.8" y="242.1" width="1" height="1"/><rect x="288.6" y="243.1" width="1" height="1"/><rect x="277.4" y="287.3" width="1" height="1"/><rect x="306.8" y="217.3" width="1" height="1"/><rect x="283.0" y="268.0" width="1" height="1"/><rect x="304.6" y="224.3" width="1" height="1"/><rect x="280.4" y="281.8" width="1" height="1"/><rect x="299.7" y="222.9" width="1" height="1"/><rect x="285.0" y="255.2" width="1" height="1"/><rect x="301.8" y="227.9" width="1" height="1"/><rect x="280.0" y="275.7" width="1" height="1"/><rect x="285.8" y="259.8" width="1" height="1"/><rect x="284.6" y="249.3" width="1" height="1"/><rect x="285.8" y="258.1" width="1" height="1"/><rect x="304.6" y="221.8" width="1" height="1"/><rect x="290.2" y="241.5" width="1" height="1"/><rect x="295.2" y="226.7" width="1" height="1"/><rect x="283.8" y="298.0" width="1" height="1"/><rect x="296.1" y="218.1" width="1" height="1"/><rect x="296.6" y="231.8" width="1" height="1"/><rect x="290.3" y="234.6" width="1" height="1"/><rect x="304.4" y="225.4" width="1" height="1"/><rect x="293.1" y="231.1" width="1" height="1"/><rect x="297.9" y="228.2" width="1" height="1"/><rect x="308.2" y="233.0" width="1" height="1"/><rect x="290.0" y="232.8" width="1" height="1"/><rect x="297.7" y="236.0" width="1" height="1"/><rect x="278.6" y="284.0" width="1" height="1"/><rect x="290.1" y="237.9" width="1" height="1"/><rect x="276.9" y="270.3" width="1" height="1"/><rect x="279.9" y="244.9" width="1" height="1"/><rect x="279.6" y="316.2" width="1" height="1"/><rect x="300.5" y="219.7" width="1" height="1"/><rect x="285.3" y="265.0" width="1" height="1"/><rect x="276.3" y="269.4" width="1" height="1"/><rect x="293.6" y="243.5" width="1" height="1"/><rect x="275.8" y="291.1" width="1" height="1"/><rect x="302.7" y="220.9" width="1" height="1"/><rect x="294.0" y="229.3" width="1" height="1"/><rect x="277.9" y="274.9" width="1" height="1"/><rect x="284.8" y="272.3" width="1" height="1"/><rect x="298.1" y="235.7" width="1" height="1"/><rect x="293.4" y="237.2" width="1" height="1"/><rect x="282.2" y="274.6" width="1" height="1"/><rect x="299.6" y="231.2" width="1" height="1"/><rect x="286.4" y="259.3" width="1" height="1"/><rect x="293.2" y="250.3" width="1" height="1"/><rect x="281.3" y="268.2" width="1" height="1"/><rect x="280.3" y="256.1" width="1" height="1"/><rect x="283.6" y="248.9" width="1" height="1"/><rect x="281.7" y="315.0" width="1" height="1"/><rect x="279.2" y="259.9" width="1" height="1"/><rect x="288.2" y="276.7" width="1" height="1"/><rect x="275.6" y="272.9" width="1" height="1"/><rect x="278.6" y="299.2" width="1" height="1"/><rect x="290.7" y="232.7" width="1" height="1"/><rect x="297.7" y="220.1" width="1" height="1"/><rect x="275.3" y="310.7" width="1" height="1"/><rect x="296.7" y="239.3" width="1" height="1"/><rect x="303.7" y="207.4" width="1" height="1"/><rect x="285.7" y="236.7" width="1" height="1"/><rect x="306.9" y="213.5" width="1" height="1"/><rect x="282.8" y="270.3" width="1" height="1"/><rect x="284.3" y="260.4" width="1" height="1"/><rect x="284.5" y="250.8" width="1" height="1"/><rect x="310.4" y="220.7" width="1" height="1"/><rect x="266.5" y="270.7" width="1" height="1"/><rect x="307.1" y="203.7" width="1" height="1"/><rect x="283.5" y="260.6" width="1" height="1"/><rect x="278.2" y="301.8" width="1" height="1"/><rect x="281.0" y="273.5" width="1" height="1"/><rect x="281.1" y="254.8" width="1" height="1"/><rect x="279.7" y="264.2" width="1" height="1"/><rect x="298.9" y="233.1" width="1" height="1"/><rect x="290.8" y="258.4" width="1" height="1"/><rect x="276.4" y="269.4" width="1" height="1"/><rect x="287.5" y="237.6" width="1" height="1"/><rect x="285.6" y="279.8" width="1" height="1"/><rect x="282.5" y="258.2" width="1" height="1"/><rect x="276.4" y="277.5" width="1" height="1"/><rect x="285.0" y="261.1" width="1" height="1"/><rect x="301.8" y="227.0" width="1" height="1"/><rect x="307.2" y="222.3" width="1" height="1"/><rect x="281.9" y="295.5" width="1" height="1"/><rect x="303.6" y="238.8" width="1" height="1"/><rect x="279.0" y="271.6" width="1" height="1"/><rect x="273.6" y="296.6" width="1" height="1"/><rect x="295.1" y="228.3" width="1" height="1"/><rect x="290.3" y="250.4" width="1" height="1"/><rect x="282.6" y="285.4" width="1" height="1"/><rect x="291.0" y="261.3" width="1" height="1"/><rect x="274.9" y="316.8" width="1" height="1"/><rect x="287.6" y="273.2" width="1" height="1"/><rect x="293.2" y="255.7" width="1" height="1"/><rect x="283.9" y="270.9" width="1" height="1"/><rect x="281.5" y="257.1" width="1" height="1"/><rect x="304.4" y="230.7" width="1" height="1"/><rect x="281.2" y="285.0" width="1" height="1"/><rect x="309.3" y="214.1" width="1" height="1"/><rect x="278.0" y="263.6" width="1" height="1"/><rect x="278.7" y="275.8" width="1" height="1"/><rect x="295.2" y="233.7" width="1" height="1"/><rect x="308.4" y="224.5" width="1" height="1"/><rect x="295.0" y="278.6" width="1" height="1"/><rect x="276.1" y="278.8" width="1" height="1"/><rect x="283.2" y="263.5" width="1" height="1"/><rect x="284.5" y="284.4" width="1" height="1"/><rect x="275.5" y="311.5" width="1" height="1"/><rect x="287.9" y="257.1" width="1" height="1"/><rect x="280.0" y="311.2" width="1" height="1"/><rect x="283.1" y="293.1" width="1" height="1"/><rect x="274.4" y="306.1" width="1" height="1"/><rect x="290.5" y="254.9" width="1" height="1"/><rect x="294.0" y="237.8" width="1" height="1"/><rect x="280.8" y="283.1" width="1" height="1"/><rect x="283.7" y="256.0" width="1" height="1"/><rect x="297.9" y="233.4" width="1" height="1"/><rect x="308.4" y="221.9" width="1" height="1"/><rect x="280.8" y="267.8" width="1" height="1"/><rect x="294.4" y="230.8" width="1" height="1"/><rect x="292.9" y="242.7" width="1" height="1"/><rect x="275.8" y="309.8" width="1" height="1"/><rect x="277.2" y="327.1" width="1" height="1"/><rect x="284.6" y="265.8" width="1" height="1"/><rect x="294.5" y="231.6" width="1" height="1"/><rect x="299.4" y="233.9" width="1" height="1"/><rect x="287.5" y="245.6" width="1" height="1"/><rect x="282.6" y="270.4" width="1" height="1"/><rect x="285.9" y="270.5" width="1" height="1"/><rect x="291.2" y="289.2" width="1" height="1"/><rect x="295.9" y="237.3" width="1" height="1"/><rect x="303.0" y="222.4" width="1" height="1"/><rect x="279.7" y="283.2" width="1" height="1"/><rect x="278.3" y="267.7" width="1" height="1"/><rect x="282.0" y="300.6" width="1" height="1"/><rect x="274.3" y="272.3" width="1" height="1"/><rect x="304.2" y="225.1" width="1" height="1"/><rect x="295.4" y="237.9" width="1" height="1"/><rect x="292.0" y="234.7" width="1" height="1"/><rect x="291.6" y="246.1" width="1" height="1"/><rect x="291.4" y="286.5" width="1" height="1"/><rect x="280.8" y="266.8" width="1" height="1"/><rect x="281.6" y="267.6" width="1" height="1"/><rect x="287.1" y="248.5" width="1" height="1"/><rect x="282.8" y="270.0" width="1" height="1"/><rect x="284.3" y="315.2" width="1" height="1"/><rect x="286.1" y="234.7" width="1" height="1"/><rect x="278.6" y="302.4" width="1" height="1"/><rect x="281.5" y="249.4" width="1" height="1"/><rect x="312.2" y="207.1" width="1" height="1"/><rect x="287.9" y="274.6" width="1" height="1"/><rect x="285.3" y="257.1" width="1" height="1"/><rect x="314.9" y="213.7" width="1" height="1"/><rect x="309.3" y="211.3" width="1" height="1"/><rect x="293.8" y="219.4" width="1" height="1"/><rect x="304.2" y="223.9" width="1" height="1"/><rect x="271.7" y="292.8" width="1" height="1"/><rect x="293.0" y="259.7" width="1" height="1"/><rect x="285.7" y="261.2" width="1" height="1"/><rect x="281.4" y="258.2" width="1" height="1"/><rect x="301.2" y="236.9" width="1" height="1"/><rect x="292.3" y="226.7" width="1" height="1"/><rect x="294.3" y="226.8" width="1" height="1"/><rect x="296.6" y="237.4" width="1" height="1"/><rect x="304.3" y="227.2" width="1" height="1"/><rect x="287.8" y="248.3" width="1" height="1"/><rect x="284.9" y="265.1" width="1" height="1"/><rect x="295.6" y="225.4" width="1" height="1"/><rect x="276.6" y="267.6" width="1" height="1"/><rect x="287.4" y="250.3" width="1" height="1"/><rect x="280.4" y="269.6" width="1" height="1"/><rect x="301.6" y="224.7" width="1" height="1"/><rect x="307.6" y="230.3" width="1" height="1"/><rect x="280.2" y="270.3" width="1" height="1"/><rect x="280.1" y="292.4" width="1" height="1"/><rect x="289.8" y="255.7" width="1" height="1"/><rect x="304.8" y="228.8" width="1" height="1"/><rect x="280.9" y="297.1" width="1" height="1"/><rect x="279.6" y="284.2" width="1" height="1"/><rect x="288.1" y="265.0" width="1" height="1"/><rect x="303.8" y="215.0" width="1" height="1"/><rect x="271.5" y="275.3" width="1" height="1"/><rect x="289.9" y="228.5" width="1" height="1"/><rect x="278.3" y="326.1" width="1" height="1"/><rect x="284.4" y="231.6" width="1" height="1"/><rect x="277.3" y="274.5" width="1" height="1"/><rect x="280.0" y="251.8" width="1" height="1"/><rect x="275.6" y="298.9" width="1" height="1"/><rect x="284.0" y="302.2" width="1" height="1"/><rect x="286.3" y="241.6" width="1" height="1"/><rect x="310.6" y="214.9" width="1" height="1"/><rect x="309.4" y="209.8" width="1" height="1"/><rect x="292.6" y="267.1" width="1" height="1"/><rect x="279.3" y="258.3" width="1" height="1"/><rect x="278.8" y="257.5" width="1" height="1"/><rect x="288.2" y="245.4" width="1" height="1"/><rect x="274.7" y="283.3" width="1" height="1"/><rect x="275.3" y="297.7" width="1" height="1"/><rect x="292.6" y="220.5" width="1" height="1"/><rect x="285.7" y="252.5" width="1" height="1"/><rect x="277.2" y="256.7" width="1" height="1"/><rect x="302.8" y="211.2" width="1" height="1"/><rect x="295.2" y="239.5" width="1" height="1"/><rect x="306.1" y="214.7" width="1" height="1"/><rect x="279.8" y="273.4" width="1" height="1"/><rect x="280.7" y="316.1" width="1" height="1"/><rect x="286.4" y="263.3" width="1" height="1"/><rect x="281.2" y="262.5" width="1" height="1"/><rect x="278.6" y="267.0" width="1" height="1"/><rect x="278.5" y="311.1" width="1" height="1"/><rect x="273.1" y="312.1" width="1" height="1"/><rect x="293.0" y="240.9" width="1" height="1"/><rect x="286.2" y="255.6" width="1" height="1"/><rect x="296.8" y="223.7" width="1" height="1"/><rect x="281.3" y="248.9" width="1" height="1"/><rect x="285.7" y="252.0" width="1" height="1"/><rect x="280.2" y="280.1" width="1" height="1"/><rect x="299.1" y="215.7" width="1" height="1"/><rect x="278.6" y="296.3" width="1" height="1"/><rect x="273.3" y="273.2" width="1" height="1"/><rect x="289.6" y="230.0" width="1" height="1"/><rect x="278.4" y="275.4" width="1" height="1"/><rect x="275.7" y="322.2" width="1" height="1"/><rect x="294.8" y="208.8" width="1" height="1"/><rect x="295.2" y="229.7" width="1" height="1"/><rect x="298.6" y="224.7" width="1" height="1"/><rect x="275.0" y="309.8" width="1" height="1"/><rect x="299.0" y="232.6" width="1" height="1"/><rect x="288.4" y="261.6" width="1" height="1"/><rect x="297.9" y="239.2" width="1" height="1"/><rect x="295.7" y="223.1" width="1" height="1"/><rect x="286.3" y="273.2" width="1" height="1"/><rect x="309.7" y="206.3" width="1" height="1"/><rect x="287.6" y="227.7" width="1" height="1"/><rect x="278.3" y="301.9" width="1" height="1"/><rect x="305.7" y="216.5" width="1" height="1"/><rect x="295.2" y="231.3" width="1" height="1"/><rect x="294.1" y="250.5" width="1" height="1"/><rect x="301.2" y="222.5" width="1" height="1"/><rect x="287.7" y="272.5" width="1" height="1"/><rect x="279.7" y="314.5" width="1" height="1"/><rect x="309.2" y="226.1" width="1" height="1"/><rect x="288.2" y="274.2" width="1" height="1"/><rect x="282.6" y="265.3" width="1" height="1"/><rect x="284.3" y="238.4" width="1" height="1"/><rect x="286.1" y="258.2" width="1" height="1"/><rect x="281.0" y="260.3" width="1" height="1"/><rect x="282.0" y="257.7" width="1" height="1"/><rect x="306.4" y="215.7" width="1" height="1"/><rect x="295.2" y="232.8" width="1" height="1"/><rect x="309.7" y="217.5" width="1" height="1"/><rect x="289.0" y="267.3" width="1" height="1"/><rect x="287.7" y="240.4" width="1" height="1"/><rect x="294.8" y="229.9" width="1" height="1"/><rect x="284.4" y="296.3" width="1" height="1"/><rect x="274.2" y="301.3" width="1" height="1"/><rect x="277.4" y="293.3" width="1" height="1"/><rect x="291.5" y="235.7" width="1" height="1"/><rect x="300.7" y="220.7" width="1" height="1"/><rect x="281.1" y="271.0" width="1" height="1"/><rect x="295.7" y="223.1" width="1" height="1"/><rect x="282.2" y="263.8" width="1" height="1"/><rect x="277.8" y="258.0" width="1" height="1"/><rect x="278.9" y="293.4" width="1" height="1"/><rect x="281.5" y="265.5" width="1" height="1"/><rect x="289.2" y="247.7" width="1" height="1"/><rect x="277.8" y="304.3" width="1" height="1"/><rect x="286.4" y="249.7" width="1" height="1"/><rect x="297.4" y="239.7" width="1" height="1"/><rect x="285.1" y="264.5" width="1" height="1"/><rect x="279.9" y="314.5" width="1" height="1"/><rect x="289.0" y="253.6" width="1" height="1"/><rect x="286.3" y="220.9" width="1" height="1"/><rect x="279.7" y="310.2" width="1" height="1"/><rect x="306.6" y="209.3" width="1" height="1"/><rect x="289.8" y="238.5" width="1" height="1"/><rect x="293.8" y="264.6" width="1" height="1"/><rect x="308.1" y="237.9" width="1" height="1"/><rect x="285.8" y="254.6" width="1" height="1"/><rect x="306.2" y="210.2" width="1" height="1"/><rect x="285.7" y="260.0" width="1" height="1"/><rect x="289.6" y="279.2" width="1" height="1"/><rect x="301.6" y="218.9" width="1" height="1"/><rect x="277.4" y="303.0" width="1" height="1"/><rect x="275.7" y="264.1" width="1" height="1"/><rect x="300.5" y="220.3" width="1" height="1"/><rect x="288.6" y="259.3" width="1" height="1"/><rect x="282.5" y="259.0" width="1" height="1"/><rect x="277.1" y="261.9" width="1" height="1"/><rect x="291.9" y="238.6" width="1" height="1"/><rect x="286.4" y="253.6" width="1" height="1"/><rect x="290.5" y="231.7" width="1" height="1"/><rect x="291.2" y="243.8" width="1" height="1"/><rect x="285.6" y="249.5" width="1" height="1"/><rect x="277.7" y="303.5" width="1" height="1"/><rect x="287.0" y="262.7" width="1" height="1"/><rect x="285.3" y="264.3" width="1" height="1"/><rect x="303.4" y="216.9" width="1" height="1"/><rect x="292.4" y="261.9" width="1" height="1"/><rect x="287.0" y="262.0" width="1" height="1"/><rect x="279.5" y="305.3" width="1" height="1"/><rect x="274.4" y="324.0" width="1" height="1"/><rect x="290.1" y="246.1" width="1" height="1"/><rect x="314.7" y="219.3" width="1" height="1"/><rect x="291.1" y="251.3" width="1" height="1"/><rect x="277.4" y="283.4" width="1" height="1"/><rect x="312.6" y="217.7" width="1" height="1"/><rect x="292.1" y="249.3" width="1" height="1"/><rect x="297.2" y="209.8" width="1" height="1"/><rect x="296.1" y="234.8" width="1" height="1"/><rect x="280.0" y="260.8" width="1" height="1"/><rect x="291.7" y="262.4" width="1" height="1"/><rect x="287.1" y="265.9" width="1" height="1"/><rect x="308.8" y="219.0" width="1" height="1"/><rect x="278.6" y="276.1" width="1" height="1"/><rect x="275.8" y="305.1" width="1" height="1"/><rect x="282.3" y="262.1" width="1" height="1"/><rect x="281.9" y="271.3" width="1" height="1"/><rect x="307.5" y="229.4" width="1" height="1"/><rect x="285.6" y="262.5" width="1" height="1"/><rect x="288.8" y="237.2" width="1" height="1"/><rect x="292.8" y="228.0" width="1" height="1"/><rect x="298.9" y="242.6" width="1" height="1"/><rect x="313.2" y="211.5" width="1" height="1"/><rect x="308.5" y="225.1" width="1" height="1"/><rect x="292.8" y="220.3" width="1" height="1"/><rect x="286.1" y="274.5" width="1" height="1"/><rect x="297.3" y="231.2" width="1" height="1"/><rect x="280.1" y="274.3" width="1" height="1"/><rect x="301.0" y="239.0" width="1" height="1"/><rect x="279.0" y="299.4" width="1" height="1"/><rect x="272.7" y="298.5" width="1" height="1"/><rect x="288.1" y="265.0" width="1" height="1"/><rect x="292.7" y="267.8" width="1" height="1"/><rect x="286.8" y="289.8" width="1" height="1"/><rect x="292.4" y="229.0" width="1" height="1"/><rect x="293.9" y="249.8" width="1" height="1"/><rect x="281.7" y="257.7" width="1" height="1"/><rect x="291.6" y="240.8" width="1" height="1"/><rect x="293.7" y="227.7" width="1" height="1"/><rect x="287.2" y="274.2" width="1" height="1"/><rect x="292.6" y="239.2" width="1" height="1"/><rect x="295.1" y="259.4" width="1" height="1"/><rect x="291.0" y="263.9" width="1" height="1"/><rect x="281.6" y="309.2" width="1" height="1"/><rect x="290.2" y="229.0" width="1" height="1"/><rect x="307.5" y="218.1" width="1" height="1"/><rect x="280.3" y="262.3" width="1" height="1"/><rect x="278.4" y="280.4" width="1" height="1"/><rect x="293.2" y="227.5" width="1" height="1"/><rect x="297.8" y="233.8" width="1" height="1"/><rect x="281.3" y="275.4" width="1" height="1"/><rect x="284.8" y="274.7" width="1" height="1"/><rect x="276.4" y="297.4" width="1" height="1"/><rect x="305.3" y="219.6" width="1" height="1"/><rect x="291.9" y="250.9" width="1" height="1"/><rect x="293.3" y="234.4" width="1" height="1"/><rect x="287.4" y="286.5" width="1" height="1"/><rect x="279.0" y="268.7" width="1" height="1"/><rect x="294.4" y="221.9" width="1" height="1"/><rect x="281.7" y="272.1" width="1" height="1"/><rect x="282.6" y="314.0" width="1" height="1"/><rect x="294.2" y="231.7" width="1" height="1"/><rect x="284.3" y="290.7" width="1" height="1"/><rect x="280.2" y="256.8" width="1" height="1"/><rect x="282.9" y="266.7" width="1" height="1"/><rect x="307.0" y="232.1" width="1" height="1"/><rect x="280.4" y="264.0" width="1" height="1"/><rect x="308.5" y="217.9" width="1" height="1"/><rect x="294.9" y="240.8" width="1" height="1"/><rect x="308.8" y="216.3" width="1" height="1"/><rect x="306.7" y="218.9" width="1" height="1"/><rect x="288.5" y="257.2" width="1" height="1"/><rect x="305.7" y="215.1" width="1" height="1"/><rect x="278.3" y="254.2" width="1" height="1"/><rect x="281.6" y="276.6" width="1" height="1"/><rect x="290.7" y="248.2" width="1" height="1"/><rect x="285.0" y="274.3" width="1" height="1"/><rect x="288.0" y="266.4" width="1" height="1"/><rect x="283.0" y="274.5" width="1" height="1"/><rect x="286.9" y="246.7" width="1" height="1"/><rect x="290.4" y="268.1" width="1" height="1"/><rect x="277.8" y="252.6" width="1" height="1"/><rect x="304.8" y="232.8" width="1" height="1"/><rect x="298.4" y="235.4" width="1" height="1"/><rect x="279.8" y="303.5" width="1" height="1"/><rect x="278.3" y="275.9" width="1" height="1"/><rect x="302.8" y="225.8" width="1" height="1"/><rect x="289.1" y="269.5" width="1" height="1"/><rect x="289.2" y="288.1" width="1" height="1"/><rect x="295.7" y="235.6" width="1" height="1"/><rect x="296.4" y="232.8" width="1" height="1"/><rect x="289.0" y="234.3" width="1" height="1"/><rect x="288.1" y="250.0" width="1" height="1"/><rect x="296.7" y="246.1" width="1" height="1"/><rect x="272.4" y="300.2" width="1" height="1"/><rect x="280.0" y="270.7" width="1" height="1"/><rect x="283.5" y="245.7" width="1" height="1"/><rect x="284.1" y="265.6" width="1" height="1"/><rect x="284.5" y="269.6" width="1" height="1"/><rect x="282.3" y="264.2" width="1" height="1"/><rect x="282.1" y="303.8" width="1" height="1"/><rect x="287.7" y="246.0" width="1" height="1"/><rect x="281.9" y="281.6" width="1" height="1"/><rect x="285.1" y="285.4" width="1" height="1"/><rect x="287.2" y="265.0" width="1" height="1"/><rect x="279.3" y="262.7" width="1" height="1"/><rect x="278.2" y="278.6" width="1" height="1"/><rect x="309.7" y="221.4" width="1" height="1"/><rect x="276.8" y="265.0" width="1" height="1"/><rect x="296.0" y="238.6" width="1" height="1"/><rect x="284.5" y="271.2" width="1" height="1"/><rect x="276.7" y="263.5" width="1" height="1"/><rect x="280.7" y="299.2" width="1" height="1"/><rect x="277.7" y="267.8" width="1" height="1"/><rect x="290.3" y="258.8" width="1" height="1"/><rect x="283.2" y="287.7" width="1" height="1"/><rect x="277.7" y="298.8" width="1" height="1"/><rect x="279.0" y="304.7" width="1" height="1"/><rect x="279.5" y="266.3" width="1" height="1"/><rect x="304.4" y="222.7" width="1" height="1"/><rect x="305.3" y="221.4" width="1" height="1"/><rect x="284.4" y="240.0" width="1" height="1"/><rect x="282.6" y="288.1" width="1" height="1"/><rect x="288.4" y="263.3" width="1" height="1"/><rect x="284.3" y="256.4" width="1" height="1"/><rect x="281.3" y="257.1" width="1" height="1"/><rect x="298.4" y="244.1" width="1" height="1"/><rect x="283.5" y="242.3" width="1" height="1"/><rect x="309.1" y="220.1" width="1" height="1"/><rect x="293.0" y="235.7" width="1" height="1"/><rect x="296.7" y="249.6" width="1" height="1"/><rect x="272.8" y="260.0" width="1" height="1"/><rect x="269.9" y="276.7" width="1" height="1"/><rect x="279.5" y="322.7" width="1" height="1"/><rect x="275.4" y="282.8" width="1" height="1"/><rect x="289.1" y="248.9" width="1" height="1"/><rect x="284.1" y="272.5" width="1" height="1"/><rect x="280.9" y="266.3" width="1" height="1"/><rect x="300.9" y="236.9" width="1" height="1"/><rect x="282.8" y="259.9" width="1" height="1"/><rect x="285.7" y="253.7" width="1" height="1"/><rect x="298.0" y="235.2" width="1" height="1"/><rect x="279.4" y="314.2" width="1" height="1"/><rect x="298.1" y="216.1" width="1" height="1"/><rect x="282.5" y="284.5" width="1" height="1"/><rect x="279.5" y="282.7" width="1" height="1"/><rect x="292.7" y="253.6" width="1" height="1"/><rect x="303.6" y="218.5" width="1" height="1"/></g><rect x="107.6" y="201.2" width="63.2" height="38.1" fill="none" stroke="#3a3a3a" stroke-width="0.9"/><rect x="255.6" y="201.6" width="63.8" height="37.9" fill="none" stroke="#3a3a3a" stroke-width="0.9"/><line x1="170.80" y1="201.20" x2="170.80" y2="239.30" stroke="#3a3a3a" stroke-width="1.4"/><line x1="319.30" y1="201.60" x2="319.30" y2="239.50" stroke="#3a3a3a" stroke-width="1.4"/><text x="76.00" y="221.00" font-size="10.0" text-anchor="middle" fill="#222" font-weight="normal" >17.9</text><text x="225.10" y="221.30" font-size="10.0" text-anchor="middle" fill="#222" font-weight="normal" >30.4</text><line x1="41.20" y1="211.20" x2="44.60" y2="211.20" stroke="#222" stroke-width="1.0"/><text x="40.00" y="214.90" font-size="6.8" text-anchor="end" fill="#262626">10<tspan font-size="4.8" dy="-3.0">5</tspan></text><line x1="41.20" y1="236.20" x2="44.60" y2="236.20" stroke="#222" stroke-width="1.0"/><text x="40.00" y="239.90" font-size="6.8" text-anchor="end" fill="#262626">10<tspan font-size="4.8" dy="-3.0">4</tspan></text><line x1="41.20" y1="261.60" x2="44.60" y2="261.60" stroke="#222" stroke-width="1.0"/><text x="40.00" y="265.30" font-size="6.8" text-anchor="end" fill="#262626">10<tspan font-size="4.8" dy="-3.0">3</tspan></text><line x1="41.20" y1="291.30" x2="44.60" y2="291.30" stroke="#222" stroke-width="1.0"/><text x="40.00" y="295.00" font-size="6.8" text-anchor="end" fill="#262626">10<tspan font-size="4.8" dy="-3.0">2</tspan></text><line x1="41.20" y1="305.00" x2="44.60" y2="305.00" stroke="#222" stroke-width="1.0"/><text x="39.00" y="307.40" font-size="6.5" text-anchor="end" fill="#2a2a2a">0</text><line x1="41.20" y1="319.20" x2="44.60" y2="319.20" stroke="#222" stroke-width="1.0"/><text x="40.00" y="322.90" font-size="6.8" text-anchor="end" fill="#262626">&#8722;10<tspan font-size="4.8" dy="-3.0">2</tspan></text><line x1="42.80" y1="228.67" x2="44.60" y2="228.67" stroke="#444" stroke-width="0.6"/><line x1="42.80" y1="224.27" x2="44.60" y2="224.27" stroke="#444" stroke-width="0.6"/><line x1="42.80" y1="221.15" x2="44.60" y2="221.15" stroke="#444" stroke-width="0.6"/><line x1="42.80" y1="218.73" x2="44.60" y2="218.73" stroke="#444" stroke-width="0.6"/><line x1="42.80" y1="216.75" x2="44.60" y2="216.75" stroke="#444" stroke-width="0.6"/><line x1="42.80" y1="215.07" x2="44.60" y2="215.07" stroke="#444" stroke-width="0.6"/><line x1="42.80" y1="213.62" x2="44.60" y2="213.62" stroke="#444" stroke-width="0.6"/><line x1="42.80" y1="212.34" x2="44.60" y2="212.34" stroke="#444" stroke-width="0.6"/><line x1="42.80" y1="253.95" x2="44.60" y2="253.95" stroke="#444" stroke-width="0.6"/><line x1="42.80" y1="249.48" x2="44.60" y2="249.48" stroke="#444" stroke-width="0.6"/><line x1="42.80" y1="246.31" x2="44.60" y2="246.31" stroke="#444" stroke-width="0.6"/><line x1="42.80" y1="243.85" x2="44.60" y2="243.85" stroke="#444" stroke-width="0.6"/><line x1="42.80" y1="241.83" x2="44.60" y2="241.83" stroke="#444" stroke-width="0.6"/><line x1="42.80" y1="240.13" x2="44.60" y2="240.13" stroke="#444" stroke-width="0.6"/><line x1="42.80" y1="238.66" x2="44.60" y2="238.66" stroke="#444" stroke-width="0.6"/><line x1="42.80" y1="237.36" x2="44.60" y2="237.36" stroke="#444" stroke-width="0.6"/><line x1="42.80" y1="282.36" x2="44.60" y2="282.36" stroke="#444" stroke-width="0.6"/><line x1="42.80" y1="277.13" x2="44.60" y2="277.13" stroke="#444" stroke-width="0.6"/><line x1="42.80" y1="273.42" x2="44.60" y2="273.42" stroke="#444" stroke-width="0.6"/><line x1="42.80" y1="270.54" x2="44.60" y2="270.54" stroke="#444" stroke-width="0.6"/><line x1="42.80" y1="268.19" x2="44.60" y2="268.19" stroke="#444" stroke-width="0.6"/><line x1="42.80" y1="266.20" x2="44.60" y2="266.20" stroke="#444" stroke-width="0.6"/><line x1="42.80" y1="264.48" x2="44.60" y2="264.48" stroke="#444" stroke-width="0.6"/><line x1="42.80" y1="262.96" x2="44.60" y2="262.96" stroke="#444" stroke-width="0.6"/><line x1="51.70" y1="330.30" x2="51.70" y2="333.50" stroke="#222" stroke-width="1.0"/><text x="47.50" y="342.10" font-size="6.5" text-anchor="start" fill="#2a2a2a">&#8722;10<tspan font-size="4.6" dy="-2.9">3</tspan></text><line x1="75.10" y1="330.30" x2="75.10" y2="333.50" stroke="#222" stroke-width="1.0"/><text x="75.10" y="342.10" font-size="6.5" text-anchor="middle" fill="#2a2a2a">0</text><line x1="94.10" y1="330.30" x2="94.10" y2="333.50" stroke="#222" stroke-width="1.0"/><text x="93.10" y="342.10" font-size="6.5" text-anchor="start" fill="#2a2a2a">10<tspan font-size="4.6" dy="-2.9">3</tspan></text><line x1="129.50" y1="330.30" x2="129.50" y2="333.50" stroke="#222" stroke-width="1.0"/><text x="128.50" y="342.10" font-size="6.5" text-anchor="start" fill="#2a2a2a">10<tspan font-size="4.6" dy="-2.9">4</tspan></text><line x1="160.10" y1="330.30" x2="160.10" y2="333.50" stroke="#222" stroke-width="1.0"/><text x="159.10" y="342.10" font-size="6.5" text-anchor="start" fill="#2a2a2a">10<tspan font-size="4.6" dy="-2.9">5</tspan></text><line x1="104.76" y1="330.30" x2="104.76" y2="332.10" stroke="#444" stroke-width="0.6"/><line x1="110.99" y1="330.30" x2="110.99" y2="332.10" stroke="#444" stroke-width="0.6"/><line x1="115.41" y1="330.30" x2="115.41" y2="332.10" stroke="#444" stroke-width="0.6"/><line x1="118.84" y1="330.30" x2="118.84" y2="332.10" stroke="#444" stroke-width="0.6"/><line x1="121.65" y1="330.30" x2="121.65" y2="332.10" stroke="#444" stroke-width="0.6"/><line x1="124.02" y1="330.30" x2="124.02" y2="332.10" stroke="#444" stroke-width="0.6"/><line x1="126.07" y1="330.30" x2="126.07" y2="332.10" stroke="#444" stroke-width="0.6"/><line x1="127.88" y1="330.30" x2="127.88" y2="332.10" stroke="#444" stroke-width="0.6"/><line x1="138.71" y1="330.30" x2="138.71" y2="332.10" stroke="#444" stroke-width="0.6"/><line x1="144.10" y1="330.30" x2="144.10" y2="332.10" stroke="#444" stroke-width="0.6"/><line x1="147.92" y1="330.30" x2="147.92" y2="332.10" stroke="#444" stroke-width="0.6"/><line x1="150.89" y1="330.30" x2="150.89" y2="332.10" stroke="#444" stroke-width="0.6"/><line x1="153.31" y1="330.30" x2="153.31" y2="332.10" stroke="#444" stroke-width="0.6"/><line x1="155.36" y1="330.30" x2="155.36" y2="332.10" stroke="#444" stroke-width="0.6"/><line x1="157.13" y1="330.30" x2="157.13" y2="332.10" stroke="#444" stroke-width="0.6"/><line x1="158.70" y1="330.30" x2="158.70" y2="332.10" stroke="#444" stroke-width="0.6"/><line x1="79.00" y1="330.30" x2="79.00" y2="332.10" stroke="#444" stroke-width="0.6"/><line x1="82.81" y1="330.30" x2="82.81" y2="332.10" stroke="#444" stroke-width="0.6"/><line x1="85.50" y1="330.30" x2="85.50" y2="332.10" stroke="#444" stroke-width="0.6"/><line x1="87.60" y1="330.30" x2="87.60" y2="332.10" stroke="#444" stroke-width="0.6"/><line x1="89.31" y1="330.30" x2="89.31" y2="332.10" stroke="#444" stroke-width="0.6"/><line x1="90.75" y1="330.30" x2="90.75" y2="332.10" stroke="#444" stroke-width="0.6"/><line x1="92.01" y1="330.30" x2="92.01" y2="332.10" stroke="#444" stroke-width="0.6"/><line x1="93.11" y1="330.30" x2="93.11" y2="332.10" stroke="#444" stroke-width="0.6"/><line x1="66.24" y1="330.30" x2="66.24" y2="332.10" stroke="#444" stroke-width="0.6"/><line x1="62.58" y1="330.30" x2="62.58" y2="332.10" stroke="#444" stroke-width="0.6"/><line x1="59.98" y1="330.30" x2="59.98" y2="332.10" stroke="#444" stroke-width="0.6"/><line x1="57.96" y1="330.30" x2="57.96" y2="332.10" stroke="#444" stroke-width="0.6"/><line x1="56.31" y1="330.30" x2="56.31" y2="332.10" stroke="#444" stroke-width="0.6"/><line x1="54.92" y1="330.30" x2="54.92" y2="332.10" stroke="#444" stroke-width="0.6"/><line x1="53.72" y1="330.30" x2="53.72" y2="332.10" stroke="#444" stroke-width="0.6"/><line x1="52.65" y1="330.30" x2="52.65" y2="332.10" stroke="#444" stroke-width="0.6"/><rect x="41.0" y="303.3" width="2.6" height="3.5" fill="#111"/><rect x="70.0" y="330.8" width="5.5" height="2.4" fill="#111"/><line x1="189.50" y1="211.40" x2="192.90" y2="211.40" stroke="#222" stroke-width="1.0"/><text x="188.30" y="215.10" font-size="6.8" text-anchor="end" fill="#262626">10<tspan font-size="4.8" dy="-3.0">5</tspan></text><line x1="189.50" y1="236.40" x2="192.90" y2="236.40" stroke="#222" stroke-width="1.0"/><text x="188.30" y="240.10" font-size="6.8" text-anchor="end" fill="#262626">10<tspan font-size="4.8" dy="-3.0">4</tspan></text><line x1="189.50" y1="261.80" x2="192.90" y2="261.80" stroke="#222" stroke-width="1.0"/><text x="188.30" y="265.50" font-size="6.8" text-anchor="end" fill="#262626">10<tspan font-size="4.8" dy="-3.0">3</tspan></text><line x1="189.50" y1="291.50" x2="192.90" y2="291.50" stroke="#222" stroke-width="1.0"/><text x="188.30" y="295.20" font-size="6.8" text-anchor="end" fill="#262626">10<tspan font-size="4.8" dy="-3.0">2</tspan></text><line x1="189.50" y1="305.20" x2="192.90" y2="305.20" stroke="#222" stroke-width="1.0"/><text x="187.30" y="307.60" font-size="6.5" text-anchor="end" fill="#2a2a2a">0</text><line x1="189.50" y1="319.40" x2="192.90" y2="319.40" stroke="#222" stroke-width="1.0"/><text x="188.30" y="323.10" font-size="6.8" text-anchor="end" fill="#262626">&#8722;10<tspan font-size="4.8" dy="-3.0">2</tspan></text><line x1="191.10" y1="228.87" x2="192.90" y2="228.87" stroke="#444" stroke-width="0.6"/><line x1="191.10" y1="224.47" x2="192.90" y2="224.47" stroke="#444" stroke-width="0.6"/><line x1="191.10" y1="221.35" x2="192.90" y2="221.35" stroke="#444" stroke-width="0.6"/><line x1="191.10" y1="218.93" x2="192.90" y2="218.93" stroke="#444" stroke-width="0.6"/><line x1="191.10" y1="216.95" x2="192.90" y2="216.95" stroke="#444" stroke-width="0.6"/><line x1="191.10" y1="215.27" x2="192.90" y2="215.27" stroke="#444" stroke-width="0.6"/><line x1="191.10" y1="213.82" x2="192.90" y2="213.82" stroke="#444" stroke-width="0.6"/><line x1="191.10" y1="212.54" x2="192.90" y2="212.54" stroke="#444" stroke-width="0.6"/><line x1="191.10" y1="254.15" x2="192.90" y2="254.15" stroke="#444" stroke-width="0.6"/><line x1="191.10" y1="249.68" x2="192.90" y2="249.68" stroke="#444" stroke-width="0.6"/><line x1="191.10" y1="246.51" x2="192.90" y2="246.51" stroke="#444" stroke-width="0.6"/><line x1="191.10" y1="244.05" x2="192.90" y2="244.05" stroke="#444" stroke-width="0.6"/><line x1="191.10" y1="242.03" x2="192.90" y2="242.03" stroke="#444" stroke-width="0.6"/><line x1="191.10" y1="240.33" x2="192.90" y2="240.33" stroke="#444" stroke-width="0.6"/><line x1="191.10" y1="238.86" x2="192.90" y2="238.86" stroke="#444" stroke-width="0.6"/><line x1="191.10" y1="237.56" x2="192.90" y2="237.56" stroke="#444" stroke-width="0.6"/><line x1="191.10" y1="282.56" x2="192.90" y2="282.56" stroke="#444" stroke-width="0.6"/><line x1="191.10" y1="277.33" x2="192.90" y2="277.33" stroke="#444" stroke-width="0.6"/><line x1="191.10" y1="273.62" x2="192.90" y2="273.62" stroke="#444" stroke-width="0.6"/><line x1="191.10" y1="270.74" x2="192.90" y2="270.74" stroke="#444" stroke-width="0.6"/><line x1="191.10" y1="268.39" x2="192.90" y2="268.39" stroke="#444" stroke-width="0.6"/><line x1="191.10" y1="266.40" x2="192.90" y2="266.40" stroke="#444" stroke-width="0.6"/><line x1="191.10" y1="264.68" x2="192.90" y2="264.68" stroke="#444" stroke-width="0.6"/><line x1="191.10" y1="263.16" x2="192.90" y2="263.16" stroke="#444" stroke-width="0.6"/><line x1="200.00" y1="330.40" x2="200.00" y2="333.60" stroke="#222" stroke-width="1.0"/><text x="195.80" y="342.20" font-size="6.5" text-anchor="start" fill="#2a2a2a">&#8722;10<tspan font-size="4.6" dy="-2.9">3</tspan></text><line x1="223.40" y1="330.40" x2="223.40" y2="333.60" stroke="#222" stroke-width="1.0"/><text x="223.40" y="342.20" font-size="6.5" text-anchor="middle" fill="#2a2a2a">0</text><line x1="242.40" y1="330.40" x2="242.40" y2="333.60" stroke="#222" stroke-width="1.0"/><text x="241.40" y="342.20" font-size="6.5" text-anchor="start" fill="#2a2a2a">10<tspan font-size="4.6" dy="-2.9">3</tspan></text><line x1="277.80" y1="330.40" x2="277.80" y2="333.60" stroke="#222" stroke-width="1.0"/><text x="276.80" y="342.20" font-size="6.5" text-anchor="start" fill="#2a2a2a">10<tspan font-size="4.6" dy="-2.9">4</tspan></text><line x1="308.40" y1="330.40" x2="308.40" y2="333.60" stroke="#222" stroke-width="1.0"/><text x="307.40" y="342.20" font-size="6.5" text-anchor="start" fill="#2a2a2a">10<tspan font-size="4.6" dy="-2.9">5</tspan></text><line x1="253.06" y1="330.40" x2="253.06" y2="332.20" stroke="#444" stroke-width="0.6"/><line x1="259.29" y1="330.40" x2="259.29" y2="332.20" stroke="#444" stroke-width="0.6"/><line x1="263.71" y1="330.40" x2="263.71" y2="332.20" stroke="#444" stroke-width="0.6"/><line x1="267.14" y1="330.40" x2="267.14" y2="332.20" stroke="#444" stroke-width="0.6"/><line x1="269.95" y1="330.40" x2="269.95" y2="332.20" stroke="#444" stroke-width="0.6"/><line x1="272.32" y1="330.40" x2="272.32" y2="332.20" stroke="#444" stroke-width="0.6"/><line x1="274.37" y1="330.40" x2="274.37" y2="332.20" stroke="#444" stroke-width="0.6"/><line x1="276.18" y1="330.40" x2="276.18" y2="332.20" stroke="#444" stroke-width="0.6"/><line x1="287.01" y1="330.40" x2="287.01" y2="332.20" stroke="#444" stroke-width="0.6"/><line x1="292.40" y1="330.40" x2="292.40" y2="332.20" stroke="#444" stroke-width="0.6"/><line x1="296.22" y1="330.40" x2="296.22" y2="332.20" stroke="#444" stroke-width="0.6"/><line x1="299.19" y1="330.40" x2="299.19" y2="332.20" stroke="#444" stroke-width="0.6"/><line x1="301.61" y1="330.40" x2="301.61" y2="332.20" stroke="#444" stroke-width="0.6"/><line x1="303.66" y1="330.40" x2="303.66" y2="332.20" stroke="#444" stroke-width="0.6"/><line x1="305.43" y1="330.40" x2="305.43" y2="332.20" stroke="#444" stroke-width="0.6"/><line x1="307.00" y1="330.40" x2="307.00" y2="332.20" stroke="#444" stroke-width="0.6"/><line x1="227.30" y1="330.40" x2="227.30" y2="332.20" stroke="#444" stroke-width="0.6"/><line x1="231.11" y1="330.40" x2="231.11" y2="332.20" stroke="#444" stroke-width="0.6"/><line x1="233.80" y1="330.40" x2="233.80" y2="332.20" stroke="#444" stroke-width="0.6"/><line x1="235.90" y1="330.40" x2="235.90" y2="332.20" stroke="#444" stroke-width="0.6"/><line x1="237.61" y1="330.40" x2="237.61" y2="332.20" stroke="#444" stroke-width="0.6"/><line x1="239.05" y1="330.40" x2="239.05" y2="332.20" stroke="#444" stroke-width="0.6"/><line x1="240.31" y1="330.40" x2="240.31" y2="332.20" stroke="#444" stroke-width="0.6"/><line x1="241.41" y1="330.40" x2="241.41" y2="332.20" stroke="#444" stroke-width="0.6"/><line x1="214.54" y1="330.40" x2="214.54" y2="332.20" stroke="#444" stroke-width="0.6"/><line x1="210.88" y1="330.40" x2="210.88" y2="332.20" stroke="#444" stroke-width="0.6"/><line x1="208.28" y1="330.40" x2="208.28" y2="332.20" stroke="#444" stroke-width="0.6"/><line x1="206.26" y1="330.40" x2="206.26" y2="332.20" stroke="#444" stroke-width="0.6"/><line x1="204.61" y1="330.40" x2="204.61" y2="332.20" stroke="#444" stroke-width="0.6"/><line x1="203.22" y1="330.40" x2="203.22" y2="332.20" stroke="#444" stroke-width="0.6"/><line x1="202.02" y1="330.40" x2="202.02" y2="332.20" stroke="#444" stroke-width="0.6"/><line x1="200.95" y1="330.40" x2="200.95" y2="332.20" stroke="#444" stroke-width="0.6"/><rect x="189.3" y="303.5" width="2.6" height="3.5" fill="#111"/><rect x="218.3" y="330.9" width="5.5" height="2.4" fill="#111"/><line x1="22.50" y1="213.00" x2="22.50" y2="345.00" stroke="#1a1a1a" stroke-width="1.5"/><path d="M22.5,207.5 L19.4,214.5 L25.6,214.5Z" fill="#1a1a1a"/><line x1="22.00" y1="345.00" x2="321.00" y2="345.00" stroke="#1a1a1a" stroke-width="1.5"/><path d="M327.5,345 L320.5,341.9 L320.5,348.1Z" fill="#1a1a1a"/><text x="0" y="0" font-size="11" fill="#151515" stroke="#151515" stroke-width="0.1" text-anchor="middle" transform="translate(16.3,275.4) rotate(-90) scale(0.62,1)">IA-IE</text><text x="0" y="0" font-size="10" fill="#111" stroke="#111" stroke-width="0.25" text-anchor="middle" transform="translate(177.6,356.7) scale(0.66,1)">SSC-A</text><text x="415.6" y="209.8" font-size="10.5" text-anchor="middle" fill="#222">IA&#8211;IE<tspan font-size="6.5" dy="-3.5">+</tspan><tspan dy="3.5">MK%</tspan></text><line x1="374.90" y1="219.70" x2="374.90" y2="345.50" stroke="#2a2a2a" stroke-width="1.3"/><line x1="374.30" y1="344.90" x2="448.30" y2="344.90" stroke="#2a2a2a" stroke-width="1.3"/><line x1="371.90" y1="223.10" x2="374.90" y2="223.10" stroke="#2a2a2a" stroke-width="1.0"/><text x="368.30" y="226.40" font-size="8.0" text-anchor="end" fill="#222">40</text><line x1="371.90" y1="253.60" x2="374.90" y2="253.60" stroke="#2a2a2a" stroke-width="1.0"/><text x="368.30" y="256.90" font-size="8.0" text-anchor="end" fill="#222">30</text><line x1="371.90" y1="284.10" x2="374.90" y2="284.10" stroke="#2a2a2a" stroke-width="1.0"/><text x="368.30" y="287.40" font-size="8.0" text-anchor="end" fill="#222">20</text><line x1="371.90" y1="314.50" x2="374.90" y2="314.50" stroke="#2a2a2a" stroke-width="1.0"/><text x="368.30" y="317.80" font-size="8.0" text-anchor="end" fill="#222">10</text><line x1="371.90" y1="344.90" x2="374.90" y2="344.90" stroke="#2a2a2a" stroke-width="1.0"/><text x="368.30" y="348.20" font-size="8.0" text-anchor="end" fill="#222">0</text><line x1="398.30" y1="344.90" x2="398.30" y2="347.90" stroke="#2a2a2a" stroke-width="1.0"/><line x1="433.00" y1="344.90" x2="433.00" y2="347.90" stroke="#2a2a2a" stroke-width="1.0"/><text x="0" y="0" font-size="10.8" fill="#222" text-anchor="middle" transform="translate(349.4,284.2) rotate(-90) scale(0.68,1)">%</text><text x="398.30" y="360.60" font-size="8.2" text-anchor="middle" fill="#222" font-weight="normal" >NC</text><text x="433.00" y="360.60" font-size="8.2" text-anchor="middle" fill="#222" font-weight="normal" >IFN<tspan font-size="0.82em">&#947;</tspan></text><g fill="#ea8a2a"><circle cx="398.3" cy="278.8" r="1.95"/><circle cx="388.6" cy="300.2" r="1.95"/><circle cx="393.4" cy="299.6" r="1.95"/><circle cx="398.3" cy="297.9" r="1.95"/><circle cx="398.3" cy="301.4" r="1.95"/><circle cx="402.9" cy="300.0" r="1.95"/><circle cx="403.3" cy="305.2" r="1.95"/><circle cx="398.3" cy="308.7" r="1.95"/><circle cx="400.9" cy="316.5" r="1.95"/><circle cx="395.7" cy="319.8" r="1.95"/></g><g fill="#ea8a2a"><circle cx="432.9" cy="241.2" r="1.95"/><circle cx="432.9" cy="249.9" r="1.95"/><circle cx="433.3" cy="261.5" r="1.95"/><circle cx="432.9" cy="274.9" r="1.95"/><circle cx="423.1" cy="280.1" r="1.95"/><circle cx="429.3" cy="280.1" r="1.95"/><circle cx="435.9" cy="280.4" r="1.95"/><circle cx="442.5" cy="280.1" r="1.95"/><circle cx="432.9" cy="285.8" r="1.95"/><circle cx="432.9" cy="313.7" r="1.95"/></g><line x1="387.30" y1="300.70" x2="409.50" y2="300.70" stroke="#2a2a2a" stroke-width="1.3"/><line x1="420.30" y1="280.20" x2="444.60" y2="280.20" stroke="#2a2a2a" stroke-width="1.3"/><path d="M398.3,271.6 L398.3,226.8 L432.8,226.8 L432.8,234.3" fill="none" stroke="#222" stroke-width="1.0"/><text x="415.40" y="227.20" font-size="10.5" text-anchor="middle" fill="#222" font-weight="normal" >**</text><text x="151.9" y="388.6" font-size="10.1" text-anchor="middle" fill="#222">Ploidy of MK</text><rect x="60.0" y="530.1" width="11" height="1.1" fill="#8892bb"/><rect x="79.6" y="530.1" width="11" height="1.1" fill="#e98a7d"/><rect x="99.2" y="523.5" width="11" height="7.7" fill="#8892bb"/><rect x="118.8" y="525.8" width="11" height="5.4" fill="#e98a7d"/><rect x="138.4" y="504.5" width="11" height="26.7" fill="#8892bb"/><rect x="158.0" y="508.6" width="11" height="22.6" fill="#e98a7d"/><rect x="177.6" y="432.7" width="11" height="98.5" fill="#8892bb"/><rect x="197.2" y="434.9" width="11" height="96.3" fill="#e98a7d"/><rect x="216.8" y="458.7" width="11" height="72.5" fill="#8892bb"/><rect x="236.4" y="449.7" width="11" height="81.5" fill="#e98a7d"/><line x1="222.30" y1="464.38" x2="222.30" y2="448.30" stroke="#1d5a99" stroke-width="1.0"/><line x1="219.70" y1="448.30" x2="224.90" y2="448.30" stroke="#1d5a99" stroke-width="1.0"/><line x1="219.70" y1="464.38" x2="224.90" y2="464.38" stroke="#1d5a99" stroke-width="1.0"/><line x1="241.90" y1="459.85" x2="241.90" y2="433.81" stroke="#d3172f" stroke-width="1.0"/><line x1="239.30" y1="433.81" x2="244.50" y2="433.81" stroke="#d3172f" stroke-width="1.0"/><line x1="239.30" y1="459.85" x2="244.50" y2="459.85" stroke="#d3172f" stroke-width="1.0"/><g fill="#1d5a99"><circle cx="63.1" cy="530.4" r="2.3"/><circle cx="67.6" cy="529.1" r="2.3"/><circle cx="64.9" cy="528.5" r="2.3"/><circle cx="69.0" cy="529.4" r="2.3"/><circle cx="64.2" cy="529.6" r="2.3"/><circle cx="68.1" cy="530.7" r="2.3"/><circle cx="62.6" cy="528.6" r="2.3"/><circle cx="65.3" cy="530.4" r="2.3"/><circle cx="66.5" cy="530.0" r="2.3"/><circle cx="66.4" cy="528.6" r="2.3"/><circle cx="62.3" cy="527.2" r="2.3"/></g><g fill="#d3172f"><circle cx="88.6" cy="530.1" r="2.3"/><circle cx="81.7" cy="528.6" r="2.3"/><circle cx="85.9" cy="529.5" r="2.3"/><circle cx="87.1" cy="530.1" r="2.3"/><circle cx="83.2" cy="529.2" r="2.3"/><circle cx="84.9" cy="528.6" r="2.3"/><circle cx="88.4" cy="528.5" r="2.3"/><circle cx="87.2" cy="528.6" r="2.3"/><circle cx="84.3" cy="529.7" r="2.3"/><circle cx="81.5" cy="530.0" r="2.3"/></g><g fill="#1d5a99"><circle cx="102.8" cy="523.8" r="2.3"/><circle cx="105.6" cy="519.6" r="2.3"/><circle cx="101.2" cy="526.4" r="2.3"/><circle cx="103.0" cy="521.1" r="2.3"/><circle cx="108.3" cy="523.1" r="2.3"/><circle cx="105.7" cy="526.6" r="2.3"/><circle cx="105.6" cy="523.1" r="2.3"/><circle cx="108.3" cy="527.1" r="2.3"/><circle cx="108.3" cy="520.5" r="2.3"/><circle cx="101.2" cy="519.1" r="2.3"/><circle cx="102.5" cy="518.5" r="2.3"/><circle cx="106.0" cy="518.2" r="2.3"/></g><g fill="#d3172f"><circle cx="122.4" cy="521.7" r="2.3"/><circle cx="127.3" cy="526.8" r="2.3"/><circle cx="126.2" cy="522.6" r="2.3"/><circle cx="122.2" cy="527.7" r="2.3"/><circle cx="122.7" cy="524.8" r="2.3"/><circle cx="124.9" cy="528.0" r="2.3"/><circle cx="124.8" cy="526.3" r="2.3"/><circle cx="126.1" cy="527.0" r="2.3"/><circle cx="124.0" cy="521.4" r="2.3"/><circle cx="121.8" cy="523.9" r="2.3"/></g><g fill="#1d5a99"><circle cx="139.6" cy="497.8" r="2.3"/><circle cx="142.5" cy="495.4" r="2.3"/><circle cx="145.9" cy="495.4" r="2.3"/><circle cx="148.3" cy="498.8" r="2.3"/><circle cx="141.5" cy="500.7" r="2.3"/><circle cx="144.4" cy="501.6" r="2.3"/><circle cx="147.8" cy="502.6" r="2.3"/><circle cx="141.5" cy="505.5" r="2.3"/><circle cx="145.4" cy="506.4" r="2.3"/><circle cx="147.8" cy="508.8" r="2.3"/><circle cx="139.6" cy="512.2" r="2.3"/><circle cx="143.5" cy="508.8" r="2.3"/></g><g fill="#d3172f"><circle cx="159.3" cy="503.1" r="2.3"/><circle cx="163.2" cy="502.6" r="2.3"/><circle cx="167.5" cy="502.1" r="2.3"/><circle cx="161.7" cy="505.5" r="2.3"/><circle cx="165.6" cy="506.0" r="2.3"/><circle cx="160.3" cy="508.4" r="2.3"/><circle cx="164.1" cy="508.8" r="2.3"/><circle cx="167.0" cy="510.8" r="2.3"/><circle cx="162.2" cy="513.2" r="2.3"/><circle cx="165.6" cy="513.7" r="2.3"/><circle cx="160.8" cy="516.1" r="2.3"/></g><g fill="#1d5a99"><circle cx="187.0" cy="418.8" r="2.3"/><circle cx="183.8" cy="420.0" r="2.3"/><circle cx="179.2" cy="423.8" r="2.3"/><circle cx="187.0" cy="426.2" r="2.3"/><circle cx="182.5" cy="427.0" r="2.3"/><circle cx="178.8" cy="430.5" r="2.3"/><circle cx="184.5" cy="432.0" r="2.3"/><circle cx="187.0" cy="433.0" r="2.3"/><circle cx="182.5" cy="435.0" r="2.3"/><circle cx="187.0" cy="439.2" r="2.3"/><circle cx="179.2" cy="442.5" r="2.3"/></g><g fill="#d3172f"><circle cx="199.0" cy="421.2" r="2.3"/><circle cx="203.8" cy="422.5" r="2.3"/><circle cx="201.2" cy="427.5" r="2.3"/><circle cx="197.5" cy="431.2" r="2.3"/><circle cx="203.8" cy="432.5" r="2.3"/><circle cx="206.2" cy="435.5" r="2.3"/><circle cx="198.8" cy="437.5" r="2.3"/><circle cx="202.5" cy="438.8" r="2.3"/><circle cx="201.2" cy="444.5" r="2.3"/><circle cx="205.0" cy="440.0" r="2.3"/></g><g fill="#1d5a99"><circle cx="222.5" cy="438.8" r="2.3"/><circle cx="222.5" cy="446.2" r="2.3"/><circle cx="222.5" cy="453.8" r="2.3"/><circle cx="218.8" cy="457.5" r="2.3"/><circle cx="225.0" cy="458.8" r="2.3"/><circle cx="220.0" cy="461.2" r="2.3"/><circle cx="222.5" cy="462.5" r="2.3"/><circle cx="226.2" cy="460.0" r="2.3"/><circle cx="218.8" cy="464.5" r="2.3"/><circle cx="223.0" cy="457.0" r="2.3"/></g><g fill="#d3172f"><circle cx="242.0" cy="433.8" r="2.3"/><circle cx="237.9" cy="437.3" r="2.3"/><circle cx="245.9" cy="437.8" r="2.3"/><circle cx="237.9" cy="451.6" r="2.3"/><circle cx="242.2" cy="450.8" r="2.3"/><circle cx="245.6" cy="453.6" r="2.3"/><circle cx="243.5" cy="455.8" r="2.3"/><circle cx="240.0" cy="457.0" r="2.3"/><circle cx="237.7" cy="461.5" r="2.3"/><circle cx="246.0" cy="449.5" r="2.3"/></g><line x1="52.10" y1="392.20" x2="52.10" y2="531.80" stroke="#2a2a2a" stroke-width="1.3"/><line x1="51.50" y1="531.20" x2="254.50" y2="531.20" stroke="#2a2a2a" stroke-width="1.3"/><line x1="48.60" y1="531.20" x2="52.10" y2="531.20" stroke="#2a2a2a" stroke-width="1.0"/><text x="45.10" y="534.30" font-size="8.0" text-anchor="end" fill="#2a2a2a">0</text><line x1="48.60" y1="485.90" x2="52.10" y2="485.90" stroke="#2a2a2a" stroke-width="1.0"/><text x="45.10" y="489.00" font-size="8.0" text-anchor="end" fill="#2a2a2a">20</text><line x1="48.60" y1="440.60" x2="52.10" y2="440.60" stroke="#2a2a2a" stroke-width="1.0"/><text x="45.10" y="443.70" font-size="8.0" text-anchor="end" fill="#2a2a2a">40</text><line x1="48.60" y1="395.30" x2="52.10" y2="395.30" stroke="#2a2a2a" stroke-width="1.0"/><text x="45.10" y="398.40" font-size="8.0" text-anchor="end" fill="#2a2a2a">60</text><line x1="65.50" y1="531.20" x2="65.50" y2="534.20" stroke="#2a2a2a" stroke-width="1.0"/><text x="0" y="0" font-size="7.35" text-anchor="end" fill="#2a2a2a" transform="translate(68.20,545.20) rotate(-45)">NC-MK-2N</text><line x1="85.10" y1="531.20" x2="85.10" y2="534.20" stroke="#2a2a2a" stroke-width="1.0"/><text x="0" y="0" font-size="7.35" text-anchor="end" fill="#2a2a2a" transform="translate(87.80,545.20) rotate(-45)">IFN<tspan font-size="0.82em">&#947;</tspan>-MK-2N</text><line x1="104.70" y1="531.20" x2="104.70" y2="534.20" stroke="#2a2a2a" stroke-width="1.0"/><text x="0" y="0" font-size="7.35" text-anchor="end" fill="#2a2a2a" transform="translate(107.40,545.20) rotate(-45)">NC-MK-4N</text><line x1="124.30" y1="531.20" x2="124.30" y2="534.20" stroke="#2a2a2a" stroke-width="1.0"/><text x="0" y="0" font-size="7.35" text-anchor="end" fill="#2a2a2a" transform="translate(127.00,545.20) rotate(-45)">IFN<tspan font-size="0.82em">&#947;</tspan>-MK-4N</text><line x1="143.90" y1="531.20" x2="143.90" y2="534.20" stroke="#2a2a2a" stroke-width="1.0"/><text x="0" y="0" font-size="7.35" text-anchor="end" fill="#2a2a2a" transform="translate(146.60,545.20) rotate(-45)">NC-MK-8N</text><line x1="163.50" y1="531.20" x2="163.50" y2="534.20" stroke="#2a2a2a" stroke-width="1.0"/><text x="0" y="0" font-size="7.35" text-anchor="end" fill="#2a2a2a" transform="translate(166.20,545.20) rotate(-45)">IFN<tspan font-size="0.82em">&#947;</tspan>-MK-8N</text><line x1="183.10" y1="531.20" x2="183.10" y2="534.20" stroke="#2a2a2a" stroke-width="1.0"/><text x="0" y="0" font-size="7.35" text-anchor="end" fill="#2a2a2a" transform="translate(185.80,545.20) rotate(-45)">NC-MK-16N</text><line x1="202.70" y1="531.20" x2="202.70" y2="534.20" stroke="#2a2a2a" stroke-width="1.0"/><text x="0" y="0" font-size="7.35" text-anchor="end" fill="#2a2a2a" transform="translate(205.40,545.20) rotate(-45)">IFN<tspan font-size="0.82em">&#947;</tspan>-MK-16N</text><line x1="222.30" y1="531.20" x2="222.30" y2="534.20" stroke="#2a2a2a" stroke-width="1.0"/><text x="0" y="0" font-size="7.35" text-anchor="end" fill="#2a2a2a" transform="translate(225.00,545.20) rotate(-45)">NC-MK-32N</text><line x1="241.90" y1="531.20" x2="241.90" y2="534.20" stroke="#2a2a2a" stroke-width="1.0"/><text x="0" y="0" font-size="7.35" text-anchor="end" fill="#2a2a2a" transform="translate(244.60,545.20) rotate(-45)">IFN<tspan font-size="0.82em">&#947;</tspan>-MK-32N</text><text x="0" y="0" font-size="10.8" fill="#222" text-anchor="middle" transform="translate(30.2,461.1) rotate(-90) scale(0.68,1)">%</text><rect x="68.1" y="414.4" width="4.6" height="4.4" fill="#22497c"/><rect x="68.1" y="424.3" width="4.6" height="4.4" fill="#b91d3a"/><text x="76.50" y="419.00" font-size="7.9" text-anchor="start" fill="#222" font-weight="normal" >NC</text><text x="76.50" y="428.90" font-size="7.9" text-anchor="start" fill="#222" font-weight="normal" >IFN<tspan font-size="0.82em">&#947;</tspan></text><rect x="60.0" y="738.5" width="11" height="0.6" fill="#8892bb"/><rect x="79.6" y="738.5" width="11" height="0.6" fill="#e98a7d"/><rect x="99.2" y="734.8" width="11" height="4.3" fill="#8892bb"/><rect x="118.8" y="735.9" width="11" height="3.2" fill="#e98a7d"/><rect x="138.4" y="722.2" width="11" height="16.9" fill="#8892bb"/><rect x="158.0" y="728.3" width="11" height="10.8" fill="#e98a7d"/><rect x="177.6" y="674.0" width="11" height="65.1" fill="#8892bb"/><rect x="197.2" y="670.8" width="11" height="68.3" fill="#e98a7d"/><rect x="216.8" y="692.8" width="11" height="46.3" fill="#8892bb"/><rect x="236.4" y="683.4" width="11" height="55.7" fill="#e98a7d"/><line x1="183.10" y1="689.07" x2="183.10" y2="658.94" stroke="#1d5a99" stroke-width="1.0"/><line x1="180.50" y1="658.94" x2="185.70" y2="658.94" stroke="#1d5a99" stroke-width="1.0"/><line x1="180.50" y1="689.07" x2="185.70" y2="689.07" stroke="#1d5a99" stroke-width="1.0"/><line x1="202.70" y1="696.60" x2="202.70" y2="644.41" stroke="#d3172f" stroke-width="1.0"/><line x1="200.10" y1="644.41" x2="205.30" y2="644.41" stroke="#d3172f" stroke-width="1.0"/><line x1="200.10" y1="696.60" x2="205.30" y2="696.60" stroke="#d3172f" stroke-width="1.0"/><line x1="222.30" y1="701.44" x2="222.30" y2="681.53" stroke="#1d5a99" stroke-width="1.0"/><line x1="219.70" y1="681.53" x2="224.90" y2="681.53" stroke="#1d5a99" stroke-width="1.0"/><line x1="219.70" y1="701.44" x2="224.90" y2="701.44" stroke="#1d5a99" stroke-width="1.0"/><line x1="241.90" y1="699.83" x2="241.90" y2="658.40" stroke="#d3172f" stroke-width="1.0"/><line x1="239.30" y1="658.40" x2="244.50" y2="658.40" stroke="#d3172f" stroke-width="1.0"/><line x1="239.30" y1="699.83" x2="244.50" y2="699.83" stroke="#d3172f" stroke-width="1.0"/><g fill="#1d5a99"><circle cx="69.2" cy="737.6" r="2.3"/><circle cx="63.4" cy="738.3" r="2.3"/><circle cx="66.0" cy="738.3" r="2.3"/><circle cx="64.7" cy="739.4" r="2.3"/><circle cx="67.1" cy="739.1" r="2.3"/><circle cx="62.1" cy="739.0" r="2.3"/><circle cx="63.3" cy="739.6" r="2.3"/><circle cx="68.4" cy="738.5" r="2.3"/><circle cx="61.9" cy="737.7" r="2.3"/><circle cx="69.4" cy="739.3" r="2.3"/></g><g fill="#d3172f"><circle cx="84.0" cy="738.6" r="2.3"/><circle cx="81.2" cy="738.2" r="2.3"/><circle cx="87.0" cy="738.2" r="2.3"/><circle cx="85.3" cy="738.9" r="2.3"/><circle cx="82.8" cy="739.0" r="2.3"/><circle cx="82.5" cy="737.8" r="2.3"/><circle cx="88.4" cy="738.2" r="2.3"/><circle cx="89.1" cy="739.3" r="2.3"/><circle cx="87.5" cy="739.6" r="2.3"/><circle cx="81.2" cy="739.5" r="2.3"/></g><g fill="#1d5a99"><circle cx="107.2" cy="719.7" r="2.3"/><circle cx="104.9" cy="729.2" r="2.3"/><circle cx="103.1" cy="731.9" r="2.3"/><circle cx="100.8" cy="734.2" r="2.3"/><circle cx="105.4" cy="735.4" r="2.3"/><circle cx="108.8" cy="736.1" r="2.3"/><circle cx="102.6" cy="737.0" r="2.3"/><circle cx="106.0" cy="737.5" r="2.3"/><circle cx="101.0" cy="736.8" r="2.3"/><circle cx="104.5" cy="733.0" r="2.3"/></g><g fill="#d3172f"><circle cx="124.5" cy="736.5" r="2.3"/><circle cx="128.0" cy="733.9" r="2.3"/><circle cx="120.5" cy="734.4" r="2.3"/><circle cx="127.1" cy="737.2" r="2.3"/><circle cx="121.0" cy="737.2" r="2.3"/><circle cx="124.9" cy="733.9" r="2.3"/><circle cx="122.5" cy="732.7" r="2.3"/><circle cx="128.1" cy="735.7" r="2.3"/><circle cx="126.7" cy="734.7" r="2.3"/><circle cx="122.7" cy="734.3" r="2.3"/><circle cx="121.5" cy="730.5" r="2.3"/></g><g fill="#1d5a99"><circle cx="144.6" cy="709.5" r="2.3"/><circle cx="142.3" cy="712.3" r="2.3"/><circle cx="143.5" cy="716.9" r="2.3"/><circle cx="142.3" cy="721.5" r="2.3"/><circle cx="145.8" cy="723.8" r="2.3"/><circle cx="140.0" cy="729.2" r="2.3"/><circle cx="148.1" cy="726.2" r="2.3"/><circle cx="145.0" cy="719.0" r="2.3"/><circle cx="141.0" cy="725.0" r="2.3"/></g><g fill="#d3172f"><circle cx="163.1" cy="709.3" r="2.3"/><circle cx="163.1" cy="718.1" r="2.3"/><circle cx="159.6" cy="725.0" r="2.3"/><circle cx="165.4" cy="726.2" r="2.3"/><circle cx="163.1" cy="728.5" r="2.3"/><circle cx="161.0" cy="722.0" r="2.3"/><circle cx="166.0" cy="728.0" r="2.3"/><circle cx="160.0" cy="729.0" r="2.3"/></g><g fill="#1d5a99"><circle cx="178.8" cy="651.2" r="2.3"/><circle cx="186.5" cy="654.0" r="2.3"/><circle cx="182.7" cy="659.2" r="2.3"/><circle cx="186.5" cy="662.7" r="2.3"/><circle cx="178.8" cy="667.5" r="2.3"/><circle cx="186.5" cy="667.5" r="2.3"/><circle cx="178.8" cy="673.3" r="2.3"/><circle cx="186.5" cy="673.3" r="2.3"/><circle cx="178.8" cy="685.6" r="2.3"/><circle cx="186.5" cy="684.6" r="2.3"/><circle cx="178.8" cy="691.9" r="2.3"/><circle cx="186.5" cy="691.9" r="2.3"/></g><g fill="#d3172f"><circle cx="200.3" cy="630.3" r="2.3"/><circle cx="204.6" cy="625.6" r="2.3"/><circle cx="202.3" cy="651.0" r="2.3"/><circle cx="202.3" cy="667.9" r="2.3"/><circle cx="202.3" cy="678.5" r="2.3"/><circle cx="206.2" cy="683.8" r="2.3"/><circle cx="198.5" cy="686.7" r="2.3"/><circle cx="202.3" cy="689.6" r="2.3"/><circle cx="206.2" cy="691.0" r="2.3"/><circle cx="198.5" cy="694.8" r="2.3"/></g><g fill="#1d5a99"><circle cx="223.5" cy="676.0" r="2.3"/><circle cx="220.6" cy="678.5" r="2.3"/><circle cx="221.9" cy="683.3" r="2.3"/><circle cx="225.4" cy="687.1" r="2.3"/><circle cx="218.7" cy="690.4" r="2.3"/><circle cx="221.5" cy="690.4" r="2.3"/><circle cx="221.9" cy="695.8" r="2.3"/><circle cx="221.2" cy="701.2" r="2.3"/><circle cx="221.2" cy="705.0" r="2.3"/></g><g fill="#d3172f"><circle cx="241.0" cy="624.2" r="2.3"/><circle cx="241.3" cy="658.3" r="2.3"/><circle cx="241.3" cy="676.0" r="2.3"/><circle cx="236.9" cy="687.1" r="2.3"/><circle cx="239.8" cy="684.2" r="2.3"/><circle cx="244.6" cy="686.5" r="2.3"/><circle cx="240.8" cy="699.6" r="2.3"/><circle cx="238.8" cy="702.5" r="2.3"/><circle cx="240.4" cy="706.3" r="2.3"/></g><line x1="52.30" y1="601.80" x2="52.30" y2="739.70" stroke="#2a2a2a" stroke-width="1.3"/><line x1="51.70" y1="739.10" x2="255.20" y2="739.10" stroke="#2a2a2a" stroke-width="1.3"/><line x1="48.80" y1="739.10" x2="52.30" y2="739.10" stroke="#2a2a2a" stroke-width="1.0"/><text x="45.30" y="742.20" font-size="8.0" text-anchor="end" fill="#2a2a2a">0</text><line x1="48.80" y1="712.20" x2="52.30" y2="712.20" stroke="#2a2a2a" stroke-width="1.0"/><text x="45.30" y="715.30" font-size="8.0" text-anchor="end" fill="#2a2a2a">50</text><line x1="48.80" y1="685.30" x2="52.30" y2="685.30" stroke="#2a2a2a" stroke-width="1.0"/><text x="45.30" y="688.40" font-size="8.0" text-anchor="end" fill="#2a2a2a">100</text><line x1="48.80" y1="658.40" x2="52.30" y2="658.40" stroke="#2a2a2a" stroke-width="1.0"/><text x="45.30" y="661.50" font-size="8.0" text-anchor="end" fill="#2a2a2a">150</text><line x1="48.80" y1="631.50" x2="52.30" y2="631.50" stroke="#2a2a2a" stroke-width="1.0"/><text x="45.30" y="634.60" font-size="8.0" text-anchor="end" fill="#2a2a2a">200</text><line x1="48.80" y1="604.60" x2="52.30" y2="604.60" stroke="#2a2a2a" stroke-width="1.0"/><text x="45.30" y="607.70" font-size="8.0" text-anchor="end" fill="#2a2a2a">250</text><line x1="65.50" y1="739.10" x2="65.50" y2="742.10" stroke="#2a2a2a" stroke-width="1.0"/><text x="0" y="0" font-size="7.35" text-anchor="end" fill="#2a2a2a" transform="translate(68.20,753.10) rotate(-45)">NC-MK-2N</text><line x1="85.10" y1="739.10" x2="85.10" y2="742.10" stroke="#2a2a2a" stroke-width="1.0"/><text x="0" y="0" font-size="7.35" text-anchor="end" fill="#2a2a2a" transform="translate(87.80,753.10) rotate(-45)">IFN<tspan font-size="0.82em">&#947;</tspan>-MK-2N</text><line x1="104.70" y1="739.10" x2="104.70" y2="742.10" stroke="#2a2a2a" stroke-width="1.0"/><text x="0" y="0" font-size="7.35" text-anchor="end" fill="#2a2a2a" transform="translate(107.40,753.10) rotate(-45)">NC-MK-4N</text><line x1="124.30" y1="739.10" x2="124.30" y2="742.10" stroke="#2a2a2a" stroke-width="1.0"/><text x="0" y="0" font-size="7.35" text-anchor="end" fill="#2a2a2a" transform="translate(127.00,753.10) rotate(-45)">IFN<tspan font-size="0.82em">&#947;</tspan>-MK-4N</text><line x1="143.90" y1="739.10" x2="143.90" y2="742.10" stroke="#2a2a2a" stroke-width="1.0"/><text x="0" y="0" font-size="7.35" text-anchor="end" fill="#2a2a2a" transform="translate(146.60,753.10) rotate(-45)">NC-MK-8N</text><line x1="163.50" y1="739.10" x2="163.50" y2="742.10" stroke="#2a2a2a" stroke-width="1.0"/><text x="0" y="0" font-size="7.35" text-anchor="end" fill="#2a2a2a" transform="translate(166.20,753.10) rotate(-45)">IFN<tspan font-size="0.82em">&#947;</tspan>-MK-8N</text><line x1="183.10" y1="739.10" x2="183.10" y2="742.10" stroke="#2a2a2a" stroke-width="1.0"/><text x="0" y="0" font-size="7.35" text-anchor="end" fill="#2a2a2a" transform="translate(185.80,753.10) rotate(-45)">NC-MK-16N</text><line x1="202.70" y1="739.10" x2="202.70" y2="742.10" stroke="#2a2a2a" stroke-width="1.0"/><text x="0" y="0" font-size="7.35" text-anchor="end" fill="#2a2a2a" transform="translate(205.40,753.10) rotate(-45)">IFN<tspan font-size="0.82em">&#947;</tspan>-MK-16N</text><line x1="222.30" y1="739.10" x2="222.30" y2="742.10" stroke="#2a2a2a" stroke-width="1.0"/><text x="0" y="0" font-size="7.35" text-anchor="end" fill="#2a2a2a" transform="translate(225.00,753.10) rotate(-45)">NC-MK-32N</text><line x1="241.90" y1="739.10" x2="241.90" y2="742.10" stroke="#2a2a2a" stroke-width="1.0"/><text x="0" y="0" font-size="7.35" text-anchor="end" fill="#2a2a2a" transform="translate(244.60,753.10) rotate(-45)">IFN<tspan font-size="0.82em">&#947;</tspan>-MK-32N</text><text x="0" y="0" font-size="10.4" fill="#1a1a1a" stroke="#1a1a1a" stroke-width="0.15" text-anchor="middle" transform="translate(26.6,670.8) rotate(-90) scale(0.64,1)">x10<tspan font-size="6.4" dy="-3.8">3</tspan></text><text x="410.4" y="388.2" font-size="11.1" text-anchor="middle" fill="#222">Ploidy of IA&#8722;IE<tspan font-size="6.8" dy="-3.7">+</tspan><tspan dy="3.7">MK</tspan></text><rect x="316.5" y="531.2" width="11" height="0.3" fill="#8892bb"/><rect x="336.0" y="531.2" width="11" height="0.3" fill="#e98a7d"/><rect x="355.5" y="531.2" width="11" height="0.3" fill="#8892bb"/><rect x="375.0" y="530.9" width="11" height="0.6" fill="#e98a7d"/><rect x="394.5" y="528.8" width="11" height="2.7" fill="#8892bb"/><rect x="414.0" y="525.4" width="11" height="6.1" fill="#e98a7d"/><rect x="433.5" y="499.1" width="11" height="32.4" fill="#8892bb"/><rect x="453.0" y="496.1" width="11" height="35.4" fill="#e98a7d"/><rect x="472.5" y="414.6" width="11" height="116.9" fill="#8892bb"/><rect x="492.0" y="423.2" width="11" height="108.3" fill="#e98a7d"/><g fill="#1d5a99"><circle cx="323.0" cy="532.1" r="2.3"/><circle cx="318.0" cy="531.8" r="2.3"/><circle cx="325.7" cy="532.0" r="2.3"/><circle cx="320.5" cy="531.7" r="2.3"/><circle cx="321.9" cy="531.4" r="2.3"/><circle cx="324.5" cy="531.5" r="2.3"/><circle cx="319.2" cy="532.1" r="2.3"/></g><g fill="#d3172f"><circle cx="344.0" cy="532.2" r="2.3"/><circle cx="341.4" cy="531.5" r="2.3"/><circle cx="337.3" cy="532.0" r="2.3"/><circle cx="340.3" cy="532.0" r="2.3"/><circle cx="338.6" cy="531.4" r="2.3"/><circle cx="345.4" cy="532.1" r="2.3"/><circle cx="342.9" cy="531.3" r="2.3"/><circle cx="342.3" cy="532.4" r="2.3"/></g><g fill="#1d5a99"><circle cx="359.5" cy="531.4" r="2.3"/><circle cx="362.3" cy="531.3" r="2.3"/><circle cx="365.0" cy="531.3" r="2.3"/><circle cx="356.8" cy="531.7" r="2.3"/><circle cx="362.8" cy="532.4" r="2.3"/><circle cx="358.3" cy="531.7" r="2.3"/><circle cx="363.8" cy="531.2" r="2.3"/><circle cx="360.7" cy="532.1" r="2.3"/><circle cx="364.2" cy="532.4" r="2.3"/></g><g fill="#d3172f"><circle cx="378.2" cy="531.9" r="2.3"/><circle cx="384.7" cy="530.1" r="2.3"/><circle cx="381.7" cy="530.7" r="2.3"/><circle cx="376.4" cy="529.9" r="2.3"/><circle cx="378.9" cy="529.8" r="2.3"/><circle cx="383.3" cy="530.9" r="2.3"/><circle cx="379.3" cy="531.2" r="2.3"/><circle cx="380.7" cy="532.0" r="2.3"/><circle cx="382.7" cy="529.8" r="2.3"/><circle cx="377.4" cy="530.8" r="2.3"/></g><g fill="#1d5a99"><circle cx="398.9" cy="521.9" r="2.3"/><circle cx="401.9" cy="523.1" r="2.3"/><circle cx="397.2" cy="525.4" r="2.3"/><circle cx="400.5" cy="527.2" r="2.3"/><circle cx="403.5" cy="526.5" r="2.3"/><circle cx="395.9" cy="528.8" r="2.3"/><circle cx="399.5" cy="530.0" r="2.3"/><circle cx="402.8" cy="529.5" r="2.3"/><circle cx="401.2" cy="532.3" r="2.3"/><circle cx="397.7" cy="531.8" r="2.3"/></g><g fill="#d3172f"><circle cx="421.9" cy="517.3" r="2.3"/><circle cx="418.5" cy="519.6" r="2.3"/><circle cx="416.2" cy="521.9" r="2.3"/><circle cx="423.1" cy="523.1" r="2.3"/><circle cx="419.6" cy="524.9" r="2.3"/><circle cx="415.0" cy="525.8" r="2.3"/><circle cx="424.2" cy="527.2" r="2.3"/><circle cx="418.5" cy="528.8" r="2.3"/><circle cx="416.6" cy="531.2" r="2.3"/><circle cx="422.6" cy="530.5" r="2.3"/></g><g fill="#1d5a99"><circle cx="438.7" cy="483.4" r="2.3"/><circle cx="434.9" cy="489.7" r="2.3"/><circle cx="440.2" cy="490.8" r="2.3"/><circle cx="437.0" cy="495.0" r="2.3"/><circle cx="439.1" cy="498.2" r="2.3"/><circle cx="434.9" cy="506.0" r="2.3"/><circle cx="438.1" cy="507.3" r="2.3"/><circle cx="442.3" cy="506.0" r="2.3"/><circle cx="441.0" cy="502.0" r="2.3"/><circle cx="436.0" cy="500.0" r="2.3"/></g><g fill="#d3172f"><circle cx="458.6" cy="478.7" r="2.3"/><circle cx="457.1" cy="486.1" r="2.3"/><circle cx="460.3" cy="488.2" r="2.3"/><circle cx="454.6" cy="494.6" r="2.3"/><circle cx="459.2" cy="496.1" r="2.3"/><circle cx="462.4" cy="498.2" r="2.3"/><circle cx="457.1" cy="500.3" r="2.3"/><circle cx="460.9" cy="501.4" r="2.3"/><circle cx="455.4" cy="504.5" r="2.3"/></g><g fill="#1d5a99"><circle cx="474.0" cy="399.4" r="2.3"/><circle cx="481.4" cy="400.9" r="2.3"/><circle cx="477.2" cy="404.0" r="2.3"/><circle cx="479.3" cy="410.0" r="2.3"/><circle cx="478.3" cy="416.3" r="2.3"/><circle cx="478.7" cy="418.8" r="2.3"/><circle cx="480.4" cy="421.4" r="2.3"/><circle cx="477.2" cy="422.7" r="2.3"/><circle cx="477.8" cy="431.1" r="2.3"/><circle cx="476.0" cy="419.0" r="2.3"/></g><g fill="#d3172f"><circle cx="493.1" cy="406.2" r="2.3"/><circle cx="497.3" cy="408.7" r="2.3"/><circle cx="494.8" cy="412.5" r="2.3"/><circle cx="493.1" cy="417.8" r="2.3"/><circle cx="501.5" cy="418.8" r="2.3"/><circle cx="497.3" cy="419.9" r="2.3"/><circle cx="493.5" cy="425.2" r="2.3"/><circle cx="499.4" cy="428.4" r="2.3"/><circle cx="497.3" cy="439.6" r="2.3"/><circle cx="496.0" cy="415.0" r="2.3"/></g><line x1="308.80" y1="394.00" x2="308.80" y2="532.10" stroke="#2a2a2a" stroke-width="1.3"/><line x1="308.20" y1="531.50" x2="511.80" y2="531.50" stroke="#2a2a2a" stroke-width="1.3"/><line x1="305.30" y1="531.50" x2="308.80" y2="531.50" stroke="#2a2a2a" stroke-width="1.0"/><text x="301.80" y="534.60" font-size="8.0" text-anchor="end" fill="#2a2a2a">0</text><line x1="305.30" y1="497.80" x2="308.80" y2="497.80" stroke="#2a2a2a" stroke-width="1.0"/><text x="301.80" y="500.90" font-size="8.0" text-anchor="end" fill="#2a2a2a">20</text><line x1="305.30" y1="464.10" x2="308.80" y2="464.10" stroke="#2a2a2a" stroke-width="1.0"/><text x="301.80" y="467.20" font-size="8.0" text-anchor="end" fill="#2a2a2a">40</text><line x1="305.30" y1="430.40" x2="308.80" y2="430.40" stroke="#2a2a2a" stroke-width="1.0"/><text x="301.80" y="433.50" font-size="8.0" text-anchor="end" fill="#2a2a2a">60</text><line x1="305.30" y1="396.70" x2="308.80" y2="396.70" stroke="#2a2a2a" stroke-width="1.0"/><text x="301.80" y="399.80" font-size="8.0" text-anchor="end" fill="#2a2a2a">80</text><line x1="322.00" y1="531.50" x2="322.00" y2="534.50" stroke="#2a2a2a" stroke-width="1.0"/><text x="0" y="0" font-size="7.35" text-anchor="end" fill="#2a2a2a" transform="translate(324.70,545.50) rotate(-45)">NC-MK-2N</text><line x1="341.50" y1="531.50" x2="341.50" y2="534.50" stroke="#2a2a2a" stroke-width="1.0"/><text x="0" y="0" font-size="7.35" text-anchor="end" fill="#2a2a2a" transform="translate(344.20,545.50) rotate(-45)">IFN<tspan font-size="0.82em">&#947;</tspan>-MK-2N</text><line x1="361.00" y1="531.50" x2="361.00" y2="534.50" stroke="#2a2a2a" stroke-width="1.0"/><text x="0" y="0" font-size="7.35" text-anchor="end" fill="#2a2a2a" transform="translate(363.70,545.50) rotate(-45)">NC-MK-4N</text><line x1="380.50" y1="531.50" x2="380.50" y2="534.50" stroke="#2a2a2a" stroke-width="1.0"/><text x="0" y="0" font-size="7.35" text-anchor="end" fill="#2a2a2a" transform="translate(383.20,545.50) rotate(-45)">IFN<tspan font-size="0.82em">&#947;</tspan>-MK-4N</text><line x1="400.00" y1="531.50" x2="400.00" y2="534.50" stroke="#2a2a2a" stroke-width="1.0"/><text x="0" y="0" font-size="7.35" text-anchor="end" fill="#2a2a2a" transform="translate(402.70,545.50) rotate(-45)">NC-MK-8N</text><line x1="419.50" y1="531.50" x2="419.50" y2="534.50" stroke="#2a2a2a" stroke-width="1.0"/><text x="0" y="0" font-size="7.35" text-anchor="end" fill="#2a2a2a" transform="translate(422.20,545.50) rotate(-45)">IFN<tspan font-size="0.82em">&#947;</tspan>-MK-8N</text><line x1="439.00" y1="531.50" x2="439.00" y2="534.50" stroke="#2a2a2a" stroke-width="1.0"/><text x="0" y="0" font-size="7.35" text-anchor="end" fill="#2a2a2a" transform="translate(441.70,545.50) rotate(-45)">NC-MK-16N</text><line x1="458.50" y1="531.50" x2="458.50" y2="534.50" stroke="#2a2a2a" stroke-width="1.0"/><text x="0" y="0" font-size="7.35" text-anchor="end" fill="#2a2a2a" transform="translate(461.20,545.50) rotate(-45)">IFN<tspan font-size="0.82em">&#947;</tspan>-MK-16N</text><line x1="478.00" y1="531.50" x2="478.00" y2="534.50" stroke="#2a2a2a" stroke-width="1.0"/><text x="0" y="0" font-size="7.35" text-anchor="end" fill="#2a2a2a" transform="translate(480.70,545.50) rotate(-45)">NC-MK-32N</text><line x1="497.50" y1="531.50" x2="497.50" y2="534.50" stroke="#2a2a2a" stroke-width="1.0"/><text x="0" y="0" font-size="7.35" text-anchor="end" fill="#2a2a2a" transform="translate(500.20,545.50) rotate(-45)">IFN<tspan font-size="0.82em">&#947;</tspan>-MK-32N</text><text x="0" y="0" font-size="10.8" fill="#222" text-anchor="middle" transform="translate(286.7,461.7) rotate(-90) scale(0.68,1)">%</text><rect x="324.5" y="419.8" width="4.5" height="4.3" fill="#22497c"/><rect x="324.5" y="429.4" width="4.5" height="4.3" fill="#b91d3a"/><text x="332.60" y="424.30" font-size="7.9" text-anchor="start" fill="#222" font-weight="normal" >NC</text><text x="332.60" y="433.90" font-size="7.9" text-anchor="start" fill="#222" font-weight="normal" >IFN<tspan font-size="0.82em">&#947;</tspan></text><text x="0" y="0"/><rect x="316.5" y="741.1" width="11" height="0.2" fill="#8892bb"/><rect x="336.0" y="741.1" width="11" height="0.2" fill="#e98a7d"/><rect x="355.5" y="741.1" width="11" height="0.2" fill="#8892bb"/><rect x="375.0" y="740.8" width="11" height="0.5" fill="#e98a7d"/><rect x="394.5" y="739.9" width="11" height="1.4" fill="#8892bb"/><rect x="414.0" y="738.4" width="11" height="2.9" fill="#e98a7d"/><rect x="433.5" y="735.4" width="11" height="5.9" fill="#8892bb"/><rect x="453.0" y="728.6" width="11" height="12.7" fill="#e98a7d"/><rect x="472.5" y="718.6" width="11" height="22.6" fill="#8892bb"/><rect x="492.0" y="700.1" width="11" height="41.2" fill="#e98a7d"/><line x1="458.50" y1="734.05" x2="458.50" y2="716.38" stroke="#d3172f" stroke-width="1.0"/><line x1="455.90" y1="716.38" x2="461.10" y2="716.38" stroke="#d3172f" stroke-width="1.0"/><line x1="455.90" y1="734.05" x2="461.10" y2="734.05" stroke="#d3172f" stroke-width="1.0"/><line x1="478.00" y1="723.18" x2="478.00" y2="715.03" stroke="#1d5a99" stroke-width="1.0"/><line x1="475.40" y1="715.03" x2="480.60" y2="715.03" stroke="#1d5a99" stroke-width="1.0"/><line x1="475.40" y1="723.18" x2="480.60" y2="723.18" stroke="#1d5a99" stroke-width="1.0"/><line x1="497.50" y1="728.62" x2="497.50" y2="671.54" stroke="#d3172f" stroke-width="1.0"/><line x1="494.90" y1="671.54" x2="500.10" y2="671.54" stroke="#d3172f" stroke-width="1.0"/><line x1="494.90" y1="728.62" x2="500.10" y2="728.62" stroke="#d3172f" stroke-width="1.0"/><g fill="#1d5a99"><circle cx="321.7" cy="741.4" r="2.3"/><circle cx="319.0" cy="742.0" r="2.3"/><circle cx="325.3" cy="741.1" r="2.3"/><circle cx="323.4" cy="741.9" r="2.3"/><circle cx="320.4" cy="741.9" r="2.3"/><circle cx="318.1" cy="741.1" r="2.3"/><circle cx="326.2" cy="742.2" r="2.3"/><circle cx="324.8" cy="742.2" r="2.3"/></g><g fill="#d3172f"><circle cx="342.1" cy="741.5" r="2.3"/><circle cx="339.4" cy="742.1" r="2.3"/><circle cx="345.7" cy="741.1" r="2.3"/><circle cx="340.5" cy="741.4" r="2.3"/><circle cx="343.8" cy="742.2" r="2.3"/><circle cx="337.7" cy="741.7" r="2.3"/><circle cx="338.8" cy="741.1" r="2.3"/><circle cx="344.5" cy="741.1" r="2.3"/><circle cx="345.1" cy="742.2" r="2.3"/><circle cx="343.2" cy="741.0" r="2.3"/></g><g fill="#1d5a99"><circle cx="360.6" cy="741.7" r="2.3"/><circle cx="364.6" cy="741.6" r="2.3"/><circle cx="357.6" cy="741.4" r="2.3"/><circle cx="362.2" cy="741.6" r="2.3"/><circle cx="358.8" cy="742.2" r="2.3"/><circle cx="363.4" cy="741.1" r="2.3"/><circle cx="359.5" cy="741.1" r="2.3"/></g><g fill="#d3172f"><circle cx="380.3" cy="740.6" r="2.3"/><circle cx="376.4" cy="740.1" r="2.3"/><circle cx="383.4" cy="739.5" r="2.3"/><circle cx="378.2" cy="741.0" r="2.3"/><circle cx="382.1" cy="740.2" r="2.3"/><circle cx="378.6" cy="739.7" r="2.3"/><circle cx="384.6" cy="740.0" r="2.3"/><circle cx="383.6" cy="740.9" r="2.3"/><circle cx="381.0" cy="739.6" r="2.3"/></g><g fill="#1d5a99"><circle cx="398.0" cy="739.6" r="2.3"/><circle cx="401.5" cy="740.0" r="2.3"/><circle cx="403.8" cy="738.7" r="2.3"/><circle cx="400.8" cy="737.5" r="2.3"/><circle cx="396.2" cy="737.6" r="2.3"/><circle cx="402.1" cy="738.5" r="2.3"/><circle cx="398.3" cy="738.1" r="2.3"/><circle cx="399.7" cy="738.2" r="2.3"/><circle cx="400.3" cy="740.3" r="2.3"/><circle cx="403.2" cy="740.0" r="2.3"/></g><g fill="#d3172f"><circle cx="416.0" cy="738.4" r="2.3"/><circle cx="420.8" cy="739.7" r="2.3"/><circle cx="417.5" cy="735.9" r="2.3"/><circle cx="423.0" cy="736.5" r="2.3"/><circle cx="420.7" cy="735.3" r="2.3"/><circle cx="423.8" cy="739.6" r="2.3"/><circle cx="418.2" cy="739.9" r="2.3"/><circle cx="416.4" cy="735.0" r="2.3"/><circle cx="418.0" cy="738.5" r="2.3"/><circle cx="416.4" cy="739.5" r="2.3"/></g><g fill="#1d5a99"><circle cx="440.2" cy="729.0" r="2.3"/><circle cx="438.1" cy="731.2" r="2.3"/><circle cx="442.3" cy="733.3" r="2.3"/><circle cx="437.0" cy="737.5" r="2.3"/><circle cx="441.3" cy="738.6" r="2.3"/><circle cx="435.0" cy="739.0" r="2.3"/><circle cx="444.0" cy="737.0" r="2.3"/><circle cx="439.0" cy="735.0" r="2.3"/></g><g fill="#d3172f"><circle cx="457.5" cy="709.2" r="2.3"/><circle cx="460.4" cy="708.3" r="2.3"/><circle cx="458.8" cy="720.8" r="2.3"/><circle cx="458.2" cy="726.9" r="2.3"/><circle cx="456.1" cy="731.2" r="2.3"/><circle cx="462.4" cy="731.2" r="2.3"/><circle cx="458.2" cy="735.4" r="2.3"/><circle cx="462.0" cy="736.0" r="2.3"/><circle cx="455.0" cy="737.0" r="2.3"/></g><g fill="#1d5a99"><circle cx="475.1" cy="712.1" r="2.3"/><circle cx="478.7" cy="708.9" r="2.3"/><circle cx="482.5" cy="710.0" r="2.3"/><circle cx="479.3" cy="714.2" r="2.3"/><circle cx="476.2" cy="715.3" r="2.3"/><circle cx="480.4" cy="717.4" r="2.3"/><circle cx="478.3" cy="722.7" r="2.3"/><circle cx="478.7" cy="724.8" r="2.3"/><circle cx="479.3" cy="730.7" r="2.3"/></g><g fill="#d3172f"><circle cx="498.4" cy="635.5" r="2.3"/><circle cx="498.4" cy="663.9" r="2.3"/><circle cx="494.8" cy="702.6" r="2.3"/><circle cx="502.6" cy="704.7" r="2.3"/><circle cx="499.0" cy="706.8" r="2.3"/><circle cx="495.2" cy="712.1" r="2.3"/><circle cx="499.0" cy="716.4" r="2.3"/><circle cx="498.4" cy="728.0" r="2.3"/></g><line x1="308.50" y1="602.40" x2="308.50" y2="741.90" stroke="#2a2a2a" stroke-width="1.3"/><line x1="307.90" y1="741.30" x2="511.80" y2="741.30" stroke="#2a2a2a" stroke-width="1.3"/><line x1="305.00" y1="741.30" x2="308.50" y2="741.30" stroke="#2a2a2a" stroke-width="1.0"/><text x="301.50" y="744.40" font-size="8.0" text-anchor="end" fill="#2a2a2a">0</text><line x1="305.00" y1="696.00" x2="308.50" y2="696.00" stroke="#2a2a2a" stroke-width="1.0"/><text x="301.50" y="699.10" font-size="8.0" text-anchor="end" fill="#2a2a2a">50</text><line x1="305.00" y1="650.70" x2="308.50" y2="650.70" stroke="#2a2a2a" stroke-width="1.0"/><text x="301.50" y="653.80" font-size="8.0" text-anchor="end" fill="#2a2a2a">100</text><line x1="305.00" y1="605.40" x2="308.50" y2="605.40" stroke="#2a2a2a" stroke-width="1.0"/><text x="301.50" y="608.50" font-size="8.0" text-anchor="end" fill="#2a2a2a">150</text><line x1="322.00" y1="741.30" x2="322.00" y2="744.30" stroke="#2a2a2a" stroke-width="1.0"/><text x="0" y="0" font-size="7.35" text-anchor="end" fill="#2a2a2a" transform="translate(324.70,755.30) rotate(-45)">NC-MK-2N</text><line x1="341.50" y1="741.30" x2="341.50" y2="744.30" stroke="#2a2a2a" stroke-width="1.0"/><text x="0" y="0" font-size="7.35" text-anchor="end" fill="#2a2a2a" transform="translate(344.20,755.30) rotate(-45)">IFN<tspan font-size="0.82em">&#947;</tspan>-MK-2N</text><line x1="361.00" y1="741.30" x2="361.00" y2="744.30" stroke="#2a2a2a" stroke-width="1.0"/><text x="0" y="0" font-size="7.35" text-anchor="end" fill="#2a2a2a" transform="translate(363.70,755.30) rotate(-45)">NC-MK-4N</text><line x1="380.50" y1="741.30" x2="380.50" y2="744.30" stroke="#2a2a2a" stroke-width="1.0"/><text x="0" y="0" font-size="7.35" text-anchor="end" fill="#2a2a2a" transform="translate(383.20,755.30) rotate(-45)">IFN<tspan font-size="0.82em">&#947;</tspan>-MK-4N</text><line x1="400.00" y1="741.30" x2="400.00" y2="744.30" stroke="#2a2a2a" stroke-width="1.0"/><text x="0" y="0" font-size="7.35" text-anchor="end" fill="#2a2a2a" transform="translate(402.70,755.30) rotate(-45)">NC-MK-8N</text><line x1="419.50" y1="741.30" x2="419.50" y2="744.30" stroke="#2a2a2a" stroke-width="1.0"/><text x="0" y="0" font-size="7.35" text-anchor="end" fill="#2a2a2a" transform="translate(422.20,755.30) rotate(-45)">IFN<tspan font-size="0.82em">&#947;</tspan>-MK-8N</text><line x1="439.00" y1="741.30" x2="439.00" y2="744.30" stroke="#2a2a2a" stroke-width="1.0"/><text x="0" y="0" font-size="7.35" text-anchor="end" fill="#2a2a2a" transform="translate(441.70,755.30) rotate(-45)">NC-MK-16N</text><line x1="458.50" y1="741.30" x2="458.50" y2="744.30" stroke="#2a2a2a" stroke-width="1.0"/><text x="0" y="0" font-size="7.35" text-anchor="end" fill="#2a2a2a" transform="translate(461.20,755.30) rotate(-45)">IFN<tspan font-size="0.82em">&#947;</tspan>-MK-16N</text><line x1="478.00" y1="741.30" x2="478.00" y2="744.30" stroke="#2a2a2a" stroke-width="1.0"/><text x="0" y="0" font-size="7.35" text-anchor="end" fill="#2a2a2a" transform="translate(480.70,755.30) rotate(-45)">NC-MK-32N</text><line x1="497.50" y1="741.30" x2="497.50" y2="744.30" stroke="#2a2a2a" stroke-width="1.0"/><text x="0" y="0" font-size="7.35" text-anchor="end" fill="#2a2a2a" transform="translate(500.20,755.30) rotate(-45)">IFN<tspan font-size="0.82em">&#947;</tspan>-MK-32N</text><text x="0" y="0" font-size="10.4" fill="#1a1a1a" stroke="#1a1a1a" stroke-width="0.15" text-anchor="middle" transform="translate(281.8,671.4) rotate(-90) scale(0.64,1)">x10<tspan font-size="6.4" dy="-3.8">3</tspan></text><path d="M478.7,700.5 L478.7,619.7 L498.4,619.7 L498.4,627" fill="none" stroke="#222" stroke-width="1.0"/><text x="488.90" y="620.20" font-size="10.5" text-anchor="middle" fill="#222" font-weight="normal" >*</text></svg></body></html>
